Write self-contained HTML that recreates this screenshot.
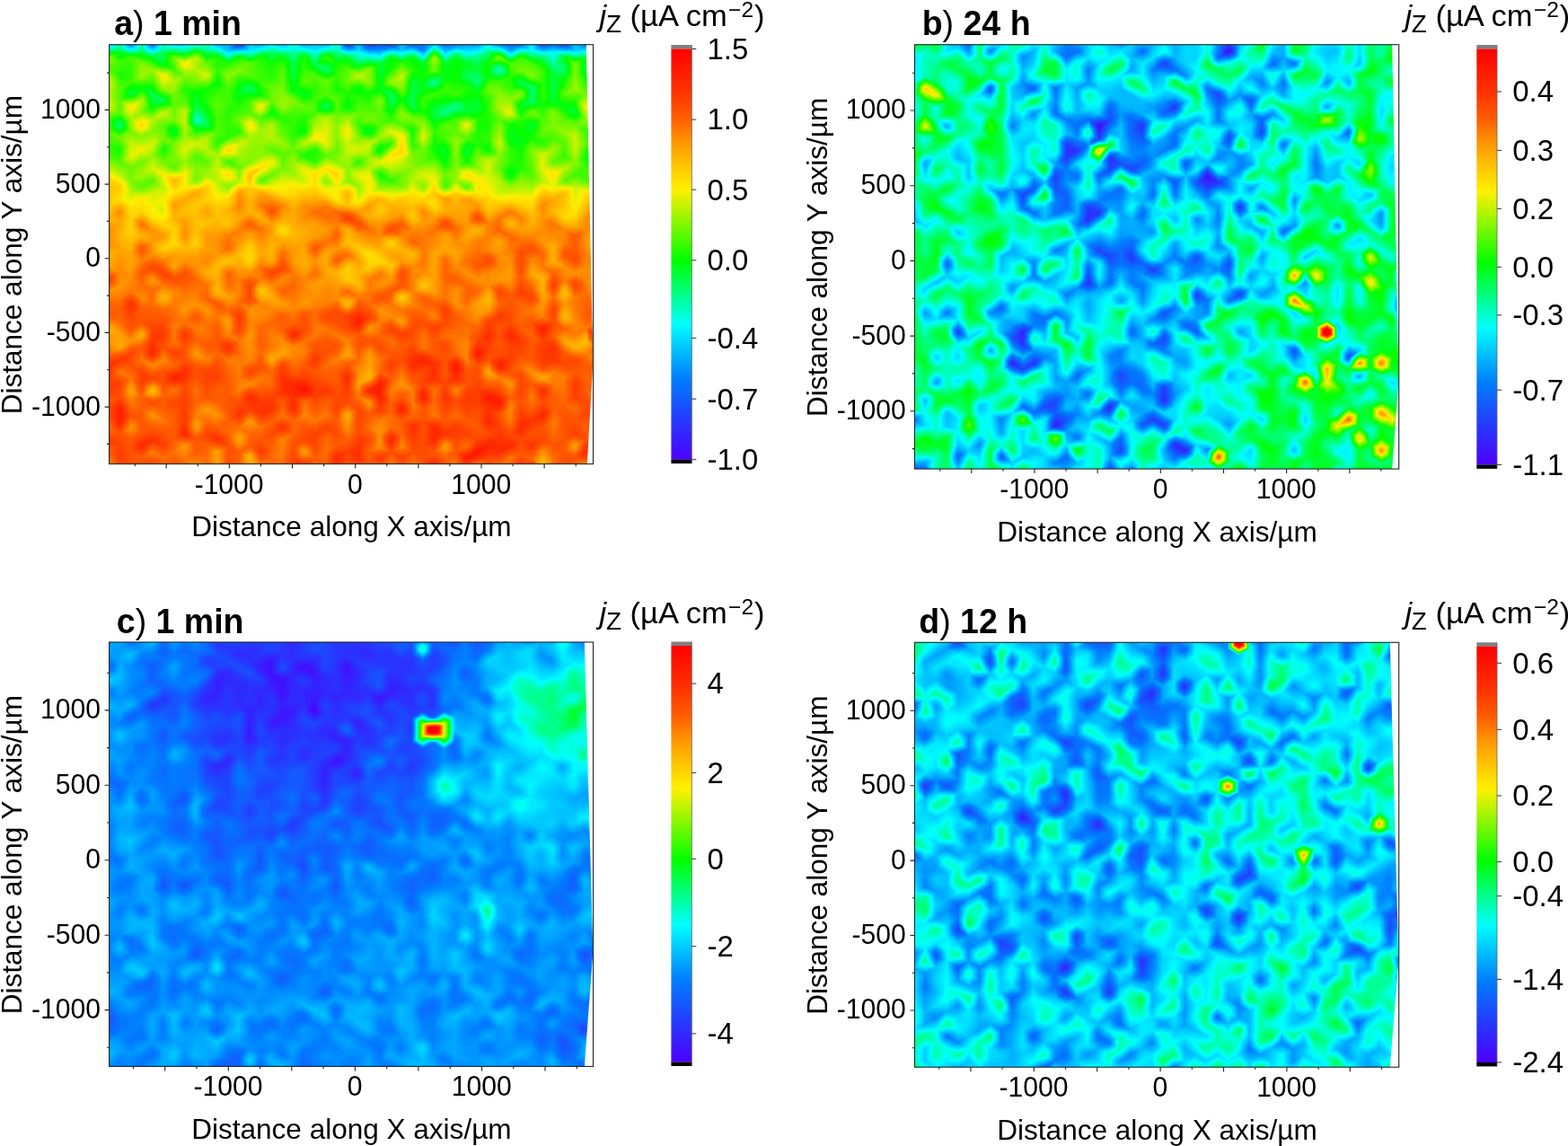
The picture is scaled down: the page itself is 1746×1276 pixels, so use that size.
<!DOCTYPE html>
<html lang="en"><head><meta charset="utf-8"><title>Figure</title>
<style>html,body{margin:0;padding:0;background:#fff;overflow:hidden}svg{display:block}text{font-family:"Liberation Sans", sans-serif;fill:#000}.tk{font-size:30.1px}.ax{font-size:30.1px}.cb{font-size:32.3px}.tt{font-size:37.5px;font-weight:bold}.jz{font-size:32.3px}</style></head><body>
<svg width="1746" height="1276" viewBox="0 0 1746 1276">
<defs>
<linearGradient id="cbg" x1="0" y1="0" x2="0" y2="1">
<stop offset="0.000" stop-color="rgb(255,0,0)"/>
<stop offset="0.102" stop-color="rgb(255,50,0)"/>
<stop offset="0.172" stop-color="rgb(255,96,0)"/>
<stop offset="0.226" stop-color="rgb(255,150,0)"/>
<stop offset="0.288" stop-color="rgb(255,200,0)"/>
<stop offset="0.343" stop-color="rgb(255,240,0)"/>
<stop offset="0.515" stop-color="rgb(0,255,0)"/>
<stop offset="0.670" stop-color="rgb(0,255,255)"/>
<stop offset="0.800" stop-color="rgb(0,128,255)"/>
<stop offset="0.900" stop-color="rgb(36,60,255)"/>
<stop offset="1.000" stop-color="rgb(76,0,255)"/>
</linearGradient>
<filter id="fa" filterUnits="userSpaceOnUse" x="61" y="-10" width="658" height="586" color-interpolation-filters="sRGB"><feConvolveMatrix in="SourceGraphic" order="1 14" kernelMatrix="1 1 1 1 1 1 1 1 1 1 1 1 1 1" divisor="14" edgeMode="duplicate" preserveAlpha="true" result="c"/><feGaussianBlur in="c" stdDeviation="0.7" result="b"/><feComponentTransfer in="b"><feFuncR type="table" tableValues="0.298 0.282 0.267 0.251 0.235 0.22 0.204 0.188 0.173 0.157 0.141 0.127 0.113 0.099 0.085 0.071 0.057 0.043 0.029 0.015 0.001 0 0 0 0 0 0 0 0 0 0 0 0 0 0 0 0 0 0 0 0 0 0 0 0 0 0 0 0 0.023 0.081 0.139 0.197 0.255 0.314 0.372 0.43 0.488 0.546 0.604 0.662 0.72 0.778 0.836 0.894 0.952 1 1 1 1 1 1 1 1 1 1 1 1 1 1 1 1 1 1 1 1 1 1 1 1 1 1 1 1 1 1 1 1 1 1 1 1 1 1 1 1 1 1 1 1 1 1 1 1 1 1 1 1 1 1 1 1 1 1 1 1 1 1 1 1 1 1 1 1 1 1 1 1 1 1 1 1 1 1 1 1 1 1 1 1 1 1 1 1 1 1 1 1 1 1 1 1 1 1 1 1 1 1"/><feFuncG type="table" tableValues="0 0.023 0.047 0.07 0.094 0.117 0.141 0.164 0.188 0.211 0.235 0.261 0.288 0.315 0.341 0.368 0.394 0.421 0.448 0.474 0.501 0.539 0.577 0.615 0.653 0.692 0.73 0.768 0.806 0.845 0.883 0.921 0.959 0.997 1 1 1 1 1 1 1 1 1 1 1 1 1 1 1 0.999 0.995 0.992 0.988 0.985 0.982 0.978 0.975 0.971 0.968 0.964 0.961 0.958 0.954 0.951 0.947 0.944 0.936 0.908 0.879 0.851 0.823 0.794 0.764 0.732 0.7 0.669 0.637 0.606 0.571 0.532 0.493 0.453 0.414 0.376 0.35 0.324 0.298 0.273 0.247 0.221 0.196 0.177 0.157 0.138 0.119 0.1 0.081 0.061 0.042 0.023 0.004 0 0 0 0 0 0 0 0 0 0 0 0 0 0 0 0 0 0 0 0 0 0 0 0 0 0 0 0 0 0 0 0 0 0 0 0 0 0 0 0 0 0 0 0 0 0 0 0 0 0 0 0 0 0 0 0 0 0 0 0 0 0 0 0 0 0 0"/><feFuncB type="table" tableValues="1 1 1 1 1 1 1 1 1 1 1 1 1 1 1 1 1 1 1 1 1 1 1 1 1 1 1 1 1 1 1 1 1 1 0.94 0.875 0.811 0.747 0.682 0.618 0.554 0.489 0.425 0.36 0.296 0.232 0.167 0.103 0.038 0 0 0 0 0 0 0 0 0 0 0 0 0 0 0 0 0 0 0 0 0 0 0 0 0 0 0 0 0 0 0 0 0 0 0 0 0 0 0 0 0 0 0 0 0 0 0 0 0 0 0 0 0 0 0 0 0 0 0 0 0 0 0 0 0 0 0 0 0 0 0 0 0 0 0 0 0 0 0 0 0 0 0 0 0 0 0 0 0 0 0 0 0 0 0 0 0 0 0 0 0 0 0 0 0 0 0 0 0 0 0 0 0 0 0 0 0 0 0"/><feFuncA type="linear" slope="0" intercept="1"/></feComponentTransfer></filter>
<clipPath id="cla"><path d="M121.6 49.7H652.8L660.3 403.0L653.8 516.6H121.6z"/></clipPath>
<filter id="fb" filterUnits="userSpaceOnUse" x="958" y="-10" width="659" height="592" color-interpolation-filters="sRGB"><feConvolveMatrix in="SourceGraphic" order="1 14" kernelMatrix="1 1 1 1 1 1 1 1 1 1 1 1 1 1" divisor="14" edgeMode="duplicate" preserveAlpha="true" result="c"/><feGaussianBlur in="c" stdDeviation="0.7" result="b"/><feComponentTransfer in="b"><feFuncR type="table" tableValues="0.298 0.282 0.267 0.251 0.235 0.22 0.204 0.188 0.173 0.157 0.141 0.127 0.113 0.099 0.085 0.071 0.057 0.043 0.029 0.015 0.001 0 0 0 0 0 0 0 0 0 0 0 0 0 0 0 0 0 0 0 0 0 0 0 0 0 0 0 0 0.023 0.081 0.139 0.197 0.255 0.314 0.372 0.43 0.488 0.546 0.604 0.662 0.72 0.778 0.836 0.894 0.952 1 1 1 1 1 1 1 1 1 1 1 1 1 1 1 1 1 1 1 1 1 1 1 1 1 1 1 1 1 1 1 1 1 1 1 1 1 1 1 1 1 1 1 1 1 1 1 1 1 1 1 1 1 1 1 1 1 1 1 1 1 1 1 1 1 1 1 1 1 1 1 1 1 1 1 1 1 1 1 1 1 1 1 1 1 1 1 1 1 1 1 1 1 1 1 1 1 1 1 1 1 1"/><feFuncG type="table" tableValues="0 0.023 0.047 0.07 0.094 0.117 0.141 0.164 0.188 0.211 0.235 0.261 0.288 0.315 0.341 0.368 0.394 0.421 0.448 0.474 0.501 0.539 0.577 0.615 0.653 0.692 0.73 0.768 0.806 0.845 0.883 0.921 0.959 0.997 1 1 1 1 1 1 1 1 1 1 1 1 1 1 1 0.999 0.995 0.992 0.988 0.985 0.982 0.978 0.975 0.971 0.968 0.964 0.961 0.958 0.954 0.951 0.947 0.944 0.936 0.908 0.879 0.851 0.823 0.794 0.764 0.732 0.7 0.669 0.637 0.606 0.571 0.532 0.493 0.453 0.414 0.376 0.35 0.324 0.298 0.273 0.247 0.221 0.196 0.177 0.157 0.138 0.119 0.1 0.081 0.061 0.042 0.023 0.004 0 0 0 0 0 0 0 0 0 0 0 0 0 0 0 0 0 0 0 0 0 0 0 0 0 0 0 0 0 0 0 0 0 0 0 0 0 0 0 0 0 0 0 0 0 0 0 0 0 0 0 0 0 0 0 0 0 0 0 0 0 0 0 0 0 0 0"/><feFuncB type="table" tableValues="1 1 1 1 1 1 1 1 1 1 1 1 1 1 1 1 1 1 1 1 1 1 1 1 1 1 1 1 1 1 1 1 1 1 0.94 0.875 0.811 0.747 0.682 0.618 0.554 0.489 0.425 0.36 0.296 0.232 0.167 0.103 0.038 0 0 0 0 0 0 0 0 0 0 0 0 0 0 0 0 0 0 0 0 0 0 0 0 0 0 0 0 0 0 0 0 0 0 0 0 0 0 0 0 0 0 0 0 0 0 0 0 0 0 0 0 0 0 0 0 0 0 0 0 0 0 0 0 0 0 0 0 0 0 0 0 0 0 0 0 0 0 0 0 0 0 0 0 0 0 0 0 0 0 0 0 0 0 0 0 0 0 0 0 0 0 0 0 0 0 0 0 0 0 0 0 0 0 0 0 0 0 0"/><feFuncA type="linear" slope="0" intercept="1"/></feComponentTransfer></filter>
<clipPath id="clb"><path d="M1018.4 49.7H1550.2L1557.4 424.0L1550.2 522.1H1018.4z"/></clipPath>
<filter id="fc" filterUnits="userSpaceOnUse" x="61" y="655" width="658" height="592" color-interpolation-filters="sRGB"><feConvolveMatrix in="SourceGraphic" order="1 14" kernelMatrix="1 1 1 1 1 1 1 1 1 1 1 1 1 1" divisor="14" edgeMode="duplicate" preserveAlpha="true" result="c"/><feGaussianBlur in="c" stdDeviation="0.8" result="b"/><feComponentTransfer in="b"><feFuncR type="table" tableValues="0.298 0.282 0.267 0.251 0.235 0.22 0.204 0.188 0.173 0.157 0.141 0.127 0.113 0.099 0.085 0.071 0.057 0.043 0.029 0.015 0.001 0 0 0 0 0 0 0 0 0 0 0 0 0 0 0 0 0 0 0 0 0 0 0 0 0 0 0 0 0.023 0.081 0.139 0.197 0.255 0.314 0.372 0.43 0.488 0.546 0.604 0.662 0.72 0.778 0.836 0.894 0.952 1 1 1 1 1 1 1 1 1 1 1 1 1 1 1 1 1 1 1 1 1 1 1 1 1 1 1 1 1 1 1 1 1 1 1 1 1 1 1 1 1 1 1 1 1 1 1 1 1 1 1 1 1 1 1 1 1 1 1 1 1 1 1 1 1 1 1 1 1 1 1 1 1 1 1 1 1 1 1 1 1 1 1 1 1 1 1 1 1 1 1 1 1 1 1 1 1 1 1 1 1 1"/><feFuncG type="table" tableValues="0 0.023 0.047 0.07 0.094 0.117 0.141 0.164 0.188 0.211 0.235 0.261 0.288 0.315 0.341 0.368 0.394 0.421 0.448 0.474 0.501 0.539 0.577 0.615 0.653 0.692 0.73 0.768 0.806 0.845 0.883 0.921 0.959 0.997 1 1 1 1 1 1 1 1 1 1 1 1 1 1 1 0.999 0.995 0.992 0.988 0.985 0.982 0.978 0.975 0.971 0.968 0.964 0.961 0.958 0.954 0.951 0.947 0.944 0.936 0.908 0.879 0.851 0.823 0.794 0.764 0.732 0.7 0.669 0.637 0.606 0.571 0.532 0.493 0.453 0.414 0.376 0.35 0.324 0.298 0.273 0.247 0.221 0.196 0.177 0.157 0.138 0.119 0.1 0.081 0.061 0.042 0.023 0.004 0 0 0 0 0 0 0 0 0 0 0 0 0 0 0 0 0 0 0 0 0 0 0 0 0 0 0 0 0 0 0 0 0 0 0 0 0 0 0 0 0 0 0 0 0 0 0 0 0 0 0 0 0 0 0 0 0 0 0 0 0 0 0 0 0 0 0"/><feFuncB type="table" tableValues="1 1 1 1 1 1 1 1 1 1 1 1 1 1 1 1 1 1 1 1 1 1 1 1 1 1 1 1 1 1 1 1 1 1 0.94 0.875 0.811 0.747 0.682 0.618 0.554 0.489 0.425 0.36 0.296 0.232 0.167 0.103 0.038 0 0 0 0 0 0 0 0 0 0 0 0 0 0 0 0 0 0 0 0 0 0 0 0 0 0 0 0 0 0 0 0 0 0 0 0 0 0 0 0 0 0 0 0 0 0 0 0 0 0 0 0 0 0 0 0 0 0 0 0 0 0 0 0 0 0 0 0 0 0 0 0 0 0 0 0 0 0 0 0 0 0 0 0 0 0 0 0 0 0 0 0 0 0 0 0 0 0 0 0 0 0 0 0 0 0 0 0 0 0 0 0 0 0 0 0 0 0 0"/><feFuncA type="linear" slope="0" intercept="1"/></feComponentTransfer></filter>
<clipPath id="clc"><path d="M121.6 715.0H650.8L660.3 1060.0L650.8 1187.4H121.6z"/></clipPath>
<filter id="fd" filterUnits="userSpaceOnUse" x="958" y="655" width="659" height="592" color-interpolation-filters="sRGB"><feConvolveMatrix in="SourceGraphic" order="1 14" kernelMatrix="1 1 1 1 1 1 1 1 1 1 1 1 1 1" divisor="14" edgeMode="duplicate" preserveAlpha="true" result="c"/><feGaussianBlur in="c" stdDeviation="0.7" result="b"/><feComponentTransfer in="b"><feFuncR type="table" tableValues="0.298 0.282 0.267 0.251 0.235 0.22 0.204 0.188 0.173 0.157 0.141 0.127 0.113 0.099 0.085 0.071 0.057 0.043 0.029 0.015 0.001 0 0 0 0 0 0 0 0 0 0 0 0 0 0 0 0 0 0 0 0 0 0 0 0 0 0 0 0 0.023 0.081 0.139 0.197 0.255 0.314 0.372 0.43 0.488 0.546 0.604 0.662 0.72 0.778 0.836 0.894 0.952 1 1 1 1 1 1 1 1 1 1 1 1 1 1 1 1 1 1 1 1 1 1 1 1 1 1 1 1 1 1 1 1 1 1 1 1 1 1 1 1 1 1 1 1 1 1 1 1 1 1 1 1 1 1 1 1 1 1 1 1 1 1 1 1 1 1 1 1 1 1 1 1 1 1 1 1 1 1 1 1 1 1 1 1 1 1 1 1 1 1 1 1 1 1 1 1 1 1 1 1 1 1"/><feFuncG type="table" tableValues="0 0.023 0.047 0.07 0.094 0.117 0.141 0.164 0.188 0.211 0.235 0.261 0.288 0.315 0.341 0.368 0.394 0.421 0.448 0.474 0.501 0.539 0.577 0.615 0.653 0.692 0.73 0.768 0.806 0.845 0.883 0.921 0.959 0.997 1 1 1 1 1 1 1 1 1 1 1 1 1 1 1 0.999 0.995 0.992 0.988 0.985 0.982 0.978 0.975 0.971 0.968 0.964 0.961 0.958 0.954 0.951 0.947 0.944 0.936 0.908 0.879 0.851 0.823 0.794 0.764 0.732 0.7 0.669 0.637 0.606 0.571 0.532 0.493 0.453 0.414 0.376 0.35 0.324 0.298 0.273 0.247 0.221 0.196 0.177 0.157 0.138 0.119 0.1 0.081 0.061 0.042 0.023 0.004 0 0 0 0 0 0 0 0 0 0 0 0 0 0 0 0 0 0 0 0 0 0 0 0 0 0 0 0 0 0 0 0 0 0 0 0 0 0 0 0 0 0 0 0 0 0 0 0 0 0 0 0 0 0 0 0 0 0 0 0 0 0 0 0 0 0 0"/><feFuncB type="table" tableValues="1 1 1 1 1 1 1 1 1 1 1 1 1 1 1 1 1 1 1 1 1 1 1 1 1 1 1 1 1 1 1 1 1 1 0.94 0.875 0.811 0.747 0.682 0.618 0.554 0.489 0.425 0.36 0.296 0.232 0.167 0.103 0.038 0 0 0 0 0 0 0 0 0 0 0 0 0 0 0 0 0 0 0 0 0 0 0 0 0 0 0 0 0 0 0 0 0 0 0 0 0 0 0 0 0 0 0 0 0 0 0 0 0 0 0 0 0 0 0 0 0 0 0 0 0 0 0 0 0 0 0 0 0 0 0 0 0 0 0 0 0 0 0 0 0 0 0 0 0 0 0 0 0 0 0 0 0 0 0 0 0 0 0 0 0 0 0 0 0 0 0 0 0 0 0 0 0 0 0 0 0 0 0"/><feFuncA type="linear" slope="0" intercept="1"/></feComponentTransfer></filter>
<clipPath id="cld"><path d="M1018.4 715.3H1547.8L1557.4 1070.0L1547.8 1188.2H1018.4z"/></clipPath>
</defs>
<rect width="1746" height="1276" fill="#fff"/>
<g id="panel-a">
<g clip-path="url(#cla)"><g filter="url(#fa)">
<g transform="translate(121.60 49.70) scale(12.0727 6.8662)"><rect x="-4" y="-8" width="52" height="84" fill="#757575"/><path fill="#000000" d="M45 -4l1 1-1 1-1-1zM45 -2l1 1-1 1-1-1zM46 -1l1 1-1 1-1-1z"/><path fill="#020202" d="M31 -6l1 1-1 1-1-1zM39 -4l1 1-1 1-1-1z"/><path fill="#040404" d="M23 -6l1 1-1 1-1-1zM24 -5l1 1-1 1-1-1z"/><path fill="#050505" d="M23 -8l1 1-1 1-1-1z"/><path fill="#070707" d="M22 -3l1 1-1 1-1-1z"/><path fill="#090909" d="M25 -2l1 1-1 1-1-1zM41 -2l1 1-1 1-1-1z"/><path fill="#0a0a0a" d="M14 -3l1 1-1 1-1-1z"/><path fill="#0b0b0b" d="M17 -6l1 1-1 1-1-1zM12 -5l1 1-1 1-1-1zM12 -3l1 1-1 1-1-1z"/><path fill="#0c0c0c" d="M21 -6l1 1-1 1-1-1z"/><path fill="#0e0e0e" d="M38 -5l1 1-1 1-1-1zM47 -2l1 1-1 1-1-1zM22 -1l1 1-1 1-1-1zM24 -1l1 1-1 1-1-1z"/><path fill="#0f0f0f" d="M45 -8l1 1-1 1-1-1zM42 -5l1 1-1 1-1-1zM31 -2l1 1-1 1-1-1zM37 -2l1 1-1 1-1-1zM12 -1l1 1-1 1-1-1z"/><path fill="#101010" d="M39 -6l1 1-1 1-1-1zM20 -3l1 1-1 1-1-1zM42 -1l1 1-1 1-1-1z"/><path fill="#111111" d="M32 -7l1 1-1 1-1-1zM46 -3l1 1-1 1-1-1zM26 -1l1 1-1 1-1-1z"/><path fill="#121212" d="M11 -8l1 1-1 1-1-1zM13 -8l1 1-1 1-1-1zM43 -8l1 1-1 1-1-1zM22 -7l1 1-1 1-1-1zM44 -5l1 1-1 1-1-1zM31 -4l1 1-1 1-1-1zM43 -4l1 1-1 1-1-1zM40 -1l1 1-1 1-1-1z"/><path fill="#131313" d="M24 -7l1 1-1 1-1-1zM47 -6l1 1-1 1-1-1zM9 -4l1 1-1 1-1-1z"/><path fill="#141414" d="M6 -5l1 1-1 1-1-1zM28 -3l1 1-1 1-1-1zM32 -3l1 1-1 1-1-1zM38 -3l1 1-1 1-1-1z"/><path fill="#151515" d="M12 -7l1 1-1 1-1-1zM34 -7l1 1-1 1-1-1zM43 -6l1 1-1 1-1-1zM2 -5l1 1-1 1-1-1zM27 -4l1 1-1 1-1-1zM33 -2l1 1-1 1-1-1z"/><path fill="#161616" d="M27 -6l1 1-1 1-1-1zM29 -6l1 1-1 1-1-1zM33 -6l1 1-1 1-1-1zM16 -5l1 1-1 1-1-1zM15 -4l1 1-1 1-1-1zM18 -3l1 1-1 1-1-1z"/><path fill="#171717" d="M33 -4l1 1-1 1-1-1zM47 -4l1 1-1 1-1-1zM42 -3l1 1-1 1-1-1zM28 -1l1 1-1 1-1-1z"/><path fill="#181818" d="M35 -8l1 1-1 1-1-1zM10 -7l1 1-1 1-1-1zM26 -7l1 1-1 1-1-1zM38 -7l1 1-1 1-1-1zM40 -5l1 1-1 1-1-1zM10 -3l1 1-1 1-1-1zM26 -3l1 1-1 1-1-1z"/><path fill="#191919" d="M13 -6l1 1-1 1-1-1zM37 -6l1 1-1 1-1-1zM28 -5l1 1-1 1-1-1zM30 -5l1 1-1 1-1-1zM29 -2l1 1-1 1-1-1z"/><path fill="#1a1a1a" d="M9 -8l1 1-1 1-1-1zM33 -8l1 1-1 1-1-1zM14 -7l1 1-1 1-1-1zM44 -7l1 1-1 1-1-1zM25 -6l1 1-1 1-1-1zM26 -5l1 1-1 1-1-1zM4 -1l1 1-1 1-1-1zM45 0l1 1-1 1-1-1z"/><path fill="#1b1b1b" d="M17 -8l1 1-1 1-1-1zM37 -8l1 1-1 1-1-1zM15 -6l1 1-1 1-1-1zM19 -6l1 1-1 1-1-1zM14 -5l1 1-1 1-1-1zM38 -1l1 1-1 1-1-1zM44 -1l1 1-1 1-1-1z"/><path fill="#1c1c1c" d="M25 -8l1 1-1 1-1-1zM28 -7l1 1-1 1-1-1zM30 -7l1 1-1 1-1-1zM1 -4l1 1-1 1-1-1zM40 -3l1 1-1 1-1-1zM7 -2l1 1-1 1-1-1z"/><path fill="#1d1d1d" d="M6 -7l1 1-1 1-1-1zM8 -7l1 1-1 1-1-1zM45 -6l1 1-1 1-1-1zM23 -4l1 1-1 1-1-1zM29 -4l1 1-1 1-1-1zM24 -3l1 1-1 1-1-1z"/><path fill="#1e1e1e" d="M46 -7l1 1-1 1-1-1zM5 -4l1 1-1 1-1-1zM2 -1l1 1-1 1-1-1zM32 -1l1 1-1 1-1-1zM29 0l1 1-1 1-1-1z"/><path fill="#1f1f1f" d="M32 -5l1 1-1 1-1-1zM17 -4l1 1-1 1-1-1zM37 -4l1 1-1 1-1-1z"/><path fill="#202020" d="M4 -5l1 1-1 1-1-1zM25 -4l1 1-1 1-1-1zM11 -2l1 1-1 1-1-1zM19 -2l1 1-1 1-1-1zM27 -2l1 1-1 1-1-1zM36 -1l1 1-1 1-1-1z"/><path fill="#212121" d="M39 -8l1 1-1 1-1-1zM3 -6l1 1-1 1-1-1zM41 -4l1 1-1 1-1-1zM23 -2l1 1-1 1-1-1z"/><path fill="#222222" d="M36 -7l1 1-1 1-1-1zM-1 -4l1 1-1 1-1-1zM34 -1l1 1-1 1-1-1zM25 0l1 1-1 1-1-1z"/><path fill="#232323" d="M19 -8l1 1-1 1-1-1zM2 -7l1 1-1 1-1-1zM16 -7l1 1-1 1-1-1zM18 -5l1 1-1 1-1-1zM34 -5l1 1-1 1-1-1zM46 -5l1 1-1 1-1-1zM2 -3l1 1-1 1-1-1zM13 -2l1 1-1 1-1-1zM35 -2l1 1-1 1-1-1z"/><path fill="#242424" d="M1 -6l1 1-1 1-1-1zM36 -5l1 1-1 1-1-1zM19 -4l1 1-1 1-1-1zM15 -2l1 1-1 1-1-1zM43 -2l1 1-1 1-1-1zM37 0l1 1-1 1-1-1z"/><path fill="#252525" d="M-1 -6l1 1-1 1-1-1zM5 -6l1 1-1 1-1-1zM-2 -5l1 1-1 1-1-1zM16 -3l1 1-1 1-1-1zM14 -1l1 1-1 1-1-1zM18 -1l1 1-1 1-1-1zM47 0l1 1-1 1-1-1z"/><path fill="#262626" d="M40 -7l1 1-1 1-1-1zM31 0l1 1-1 1-1-1z"/><path fill="#272727" d="M-2 -7l1 1-1 1-1-1zM-3 -6l1 1-1 1-1-1zM10 -1l1 1-1 1-1-1zM16 -1l1 1-1 1-1-1zM20 -1l1 1-1 1-1-1z"/><path fill="#282828" d="M31 -8l1 1-1 1-1-1zM6 -3l1 1-1 1-1-1zM30 -3l1 1-1 1-1-1zM11 0l1 1-1 1-1-1z"/><path fill="#292929" d="M0 -7l1 1-1 1-1-1z"/><path fill="#2a2a2a" d="M3 -8l1 1-1 1-1-1zM29 -8l1 1-1 1-1-1zM39 -2l1 1-1 1-1-1zM0 -1l1 1-1 1-1-1zM27 0l1 1-1 1-1-1z"/><path fill="#2b2b2b" d="M4 -7l1 1-1 1-1-1zM20 -5l1 1-1 1-1-1zM11 -4l1 1-1 1-1-1zM35 -4l1 1-1 1-1-1zM-2 -3l1 1-1 1-1-1zM4 -3l1 1-1 1-1-1zM36 -3l1 1-1 1-1-1zM30 -1l1 1-1 1-1-1zM43 0l1 1-1 1-1-1z"/><path fill="#2c2c2c" d="M-3 -8l1 1-1 1-1-1zM27 -8l1 1-1 1-1-1zM22 -5l1 1-1 1-1-1zM13 -4l1 1-1 1-1-1zM44 -3l1 1-1 1-1-1zM6 -1l1 1-1 1-1-1z"/><path fill="#2d2d2d" d="M47 -8l1 1-1 1-1-1zM20 -7l1 1-1 1-1-1zM23 0l1 1-1 1-1-1zM33 0l1 1-1 1-1-1zM41 0l1 1-1 1-1-1z"/><path fill="#2e2e2e" d="M21 -8l1 1-1 1-1-1zM42 -7l1 1-1 1-1-1zM9 -6l1 1-1 1-1-1zM10 -5l1 1-1 1-1-1zM3 -4l1 1-1 1-1-1z"/><path fill="#2f2f2f" d="M-1 -8l1 1-1 1-1-1zM13 0l1 1-1 1-1-1zM19 0l1 1-1 1-1-1z"/><path fill="#303030" d="M5 -8l1 1-1 1-1-1zM34 -3l1 1-1 1-1-1zM5 -2l1 1-1 1-1-1z"/><path fill="#313131" d="M-3 -4l1 1-1 1-1-1zM-3 -2l1 1-1 1-1-1zM1 -2l1 1-1 1-1-1z"/><path fill="#323232" d="M7 -8l1 1-1 1-1-1zM9 -2l1 1-1 1-1-1z"/><path fill="#333333" d="M15 -8l1 1-1 1-1-1zM11 -6l1 1-1 1-1-1zM21 -4l1 1-1 1-1-1zM39 0l1 1-1 1-1-1z"/><path fill="#343434" d="M1 -8l1 1-1 1-1-1zM41 -8l1 1-1 1-1-1zM18 -7l1 1-1 1-1-1zM7 -6l1 1-1 1-1-1zM35 -6l1 1-1 1-1-1zM41 -6l1 1-1 1-1-1zM0 -5l1 1-1 1-1-1zM8 -5l1 1-1 1-1-1zM7 -4l1 1-1 1-1-1zM0 -3l1 1-1 1-1-1zM8 -3l1 1-1 1-1-1zM-1 -2l1 1-1 1-1-1zM3 -2l1 1-1 1-1-1zM17 -2l1 1-1 1-1-1zM21 -2l1 1-1 1-1-1zM-2 -1l1 1-1 1-1-1zM8 -1l1 1-1 1-1-1z"/><path fill="#353535" d="M36 3l1 1-1 1-1-1zM8 11l1 1-1 1-1-1z"/><path fill="#373737" d="M17 0l1 1-1 1-1-1zM24 1l1 1-1 1-1-1z"/><path fill="#3a3a3a" d="M21 0l1 1-1 1-1-1zM41 2l1 1-1 1-1-1zM30 5l1 1-1 1-1-1z"/><path fill="#3b3b3b" d="M35 0l1 1-1 1-1-1z"/><path fill="#3c3c3c" d="M7 0l1 1-1 1-1-1zM32 9l1 1-1 1-1-1zM31 10l1 1-1 1-1-1z"/><path fill="#3d3d3d" d="M15 0l1 1-1 1-1-1zM34 1l1 1-1 1-1-1zM34 5l1 1-1 1-1-1zM1 12l1 1-1 1-1-1z"/><path fill="#3e3e3e" d="M9 0l1 1-1 1-1-1zM20 3l1 1-1 1-1-1zM39 6l1 1-1 1-1-1zM39 8l1 1-1 1-1-1z"/><path fill="#3f3f3f" d="M5 0l1 1-1 1-1-1zM42 3l1 1-1 1-1-1zM20 9l1 1-1 1-1-1z"/><path fill="#404040" d="M-1 0l1 1-1 1-1-1zM3 0l1 1-1 1-1-1zM40 1l1 1-1 1-1-1zM46 3l1 1-1 1-1-1zM13 6l1 1-1 1-1-1zM26 7l1 1-1 1-1-1zM5 8l1 1-1 1-1-1z"/><path fill="#414141" d="M33 4l1 1-1 1-1-1zM38 5l1 1-1 1-1-1zM4 7l1 1-1 1-1-1zM9 12l1 1-1 1-1-1zM45 18l1 1-1 1-1-1z"/><path fill="#424242" d="M17 2l1 1-1 1-1-1zM19 2l1 1-1 1-1-1zM23 2l1 1-1 1-1-1zM41 6l1 1-1 1-1-1zM28 7l1 1-1 1-1-1zM28 9l1 1-1 1-1-1zM-3 14l1 1-1 1-1-1z"/><path fill="#434343" d="M-3 0l1 1-1 1-1-1zM1 0l1 1-1 1-1-1zM44 3l1 1-1 1-1-1zM17 4l1 1-1 1-1-1zM28 5l1 1-1 1-1-1zM2 7l1 1-1 1-1-1zM8 9l1 1-1 1-1-1zM43 10l1 1-1 1-1-1zM33 16l1 1-1 1-1-1z"/><path fill="#444444" d="M44 1l1 1-1 1-1-1zM25 2l1 1-1 1-1-1zM34 3l1 1-1 1-1-1zM41 4l1 1-1 1-1-1zM41 8l1 1-1 1-1-1zM45 8l1 1-1 1-1-1zM26 9l1 1-1 1-1-1zM34 9l1 1-1 1-1-1zM38 9l1 1-1 1-1-1zM39 12l1 1-1 1-1-1zM6 13l1 1-1 1-1-1zM24 13l1 1-1 1-1-1z"/><path fill="#454545" d="M4 1l1 1-1 1-1-1zM22 1l1 1-1 1-1-1zM5 2l1 1-1 1-1-1zM25 4l1 1-1 1-1-1zM18 7l1 1-1 1-1-1zM30 9l1 1-1 1-1-1zM33 10l1 1-1 1-1-1zM30 11l1 1-1 1-1-1zM25 16l1 1-1 1-1-1zM31 16l1 1-1 1-1-1z"/><path fill="#464646" d="M29 2l1 1-1 1-1-1zM31 2l1 1-1 1-1-1zM25 6l1 1-1 1-1-1zM12 7l1 1-1 1-1-1zM9 10l1 1-1 1-1-1zM37 14l1 1-1 1-1-1zM47 14l1 1-1 1-1-1zM37 20l1 1-1 1-1-1z"/><path fill="#474747" d="M32 1l1 1-1 1-1-1zM33 2l1 1-1 1-1-1zM31 4l1 1-1 1-1-1zM17 6l1 1-1 1-1-1zM29 6l1 1-1 1-1-1zM8 7l1 1-1 1-1-1zM33 8l1 1-1 1-1-1zM4 9l1 1-1 1-1-1zM42 9l1 1-1 1-1-1zM-1 12l1 1-1 1-1-1zM38 15l1 1-1 1-1-1z"/><path fill="#484848" d="M26 1l1 1-1 1-1-1zM28 1l1 1-1 1-1-1zM42 1l1 1-1 1-1-1zM10 5l1 1-1 1-1-1zM3 6l1 1-1 1-1-1zM23 6l1 1-1 1-1-1zM22 9l1 1-1 1-1-1zM15 10l1 1-1 1-1-1zM18 13l1 1-1 1-1-1zM31 18l1 1-1 1-1-1zM46 19l1 1-1 1-1-1z"/><path fill="#494949" d="M16 1l1 1-1 1-1-1zM35 4l1 1-1 1-1-1zM14 7l1 1-1 1-1-1zM34 7l1 1-1 1-1-1zM31 8l1 1-1 1-1-1zM37 12l1 1-1 1-1-1zM35 16l1 1-1 1-1-1zM44 17l1 1-1 1-1-1z"/><path fill="#4a4a4a" d="M32 3l1 1-1 1-1-1zM29 4l1 1-1 1-1-1zM46 5l1 1-1 1-1-1zM24 7l1 1-1 1-1-1zM27 8l1 1-1 1-1-1zM28 13l1 1-1 1-1-1zM38 13l1 1-1 1-1-1zM30 15l1 1-1 1-1-1zM33 18l1 1-1 1-1-1zM47 18l1 1-1 1-1-1zM25 20l1 1-1 1-1-1z"/><path fill="#4b4b4b" d="M12 1l1 1-1 1-1-1zM15 2l1 1-1 1-1-1zM21 2l1 1-1 1-1-1zM35 2l1 1-1 1-1-1zM26 3l1 1-1 1-1-1zM12 5l1 1-1 1-1-1zM32 5l1 1-1 1-1-1zM42 5l1 1-1 1-1-1zM9 6l1 1-1 1-1-1zM21 6l1 1-1 1-1-1zM40 9l1 1-1 1-1-1zM39 14l1 1-1 1-1-1zM1 16l1 1-1 1-1-1zM5 16l1 1-1 1-1-1zM18 17l1 1-1 1-1-1z"/><path fill="#4c4c4c" d="M10 1l1 1-1 1-1-1zM14 1l1 1-1 1-1-1zM18 1l1 1-1 1-1-1zM-2 3l1 1-1 1-1-1zM1 4l1 1-1 1-1-1zM44 5l1 1-1 1-1-1zM22 7l1 1-1 1-1-1zM29 10l1 1-1 1-1-1zM18 11l1 1-1 1-1-1zM34 11l1 1-1 1-1-1zM35 12l1 1-1 1-1-1zM8 13l1 1-1 1-1-1zM34 13l1 1-1 1-1-1zM34 15l1 1-1 1-1-1zM19 16l1 1-1 1-1-1zM47 16l1 1-1 1-1-1zM38 17l1 1-1 1-1-1z"/><path fill="#4d4d4d" d="M11 2l1 1-1 1-1-1zM28 3l1 1-1 1-1-1zM15 4l1 1-1 1-1-1zM37 4l1 1-1 1-1-1zM7 6l1 1-1 1-1-1zM33 6l1 1-1 1-1-1zM45 6l1 1-1 1-1-1zM9 8l1 1-1 1-1-1zM43 8l1 1-1 1-1-1zM12 9l1 1-1 1-1-1zM11 10l1 1-1 1-1-1zM35 10l1 1-1 1-1-1zM16 11l1 1-1 1-1-1zM12 13l1 1-1 1-1-1zM10 15l1 1-1 1-1-1zM28 15l1 1-1 1-1-1zM40 15l1 1-1 1-1-1zM30 17l1 1-1 1-1-1zM38 19l1 1-1 1-1-1z"/><path fill="#4e4e4e" d="M2 3l1 1-1 1-1-1zM10 3l1 1-1 1-1-1zM40 5l1 1-1 1-1-1zM19 6l1 1-1 1-1-1zM37 6l1 1-1 1-1-1zM47 6l1 1-1 1-1-1zM35 8l1 1-1 1-1-1zM26 11l1 1-1 1-1-1zM38 11l1 1-1 1-1-1zM11 12l1 1-1 1-1-1zM17 12l1 1-1 1-1-1zM30 13l1 1-1 1-1-1zM44 13l1 1-1 1-1-1zM11 14l1 1-1 1-1-1zM17 14l1 1-1 1-1-1zM26 15l1 1-1 1-1-1zM37 16l1 1-1 1-1-1zM45 16l1 1-1 1-1-1zM42 17l1 1-1 1-1-1zM46 17l1 1-1 1-1-1zM19 18l1 1-1 1-1-1zM23 18l1 1-1 1-1-1zM37 18l1 1-1 1-1-1zM-1 20l1 1-1 1-1-1zM26 21l1 1-1 1-1-1z"/><path fill="#4f4f4f" d="M38 1l1 1-1 1-1-1zM27 2l1 1-1 1-1-1zM47 2l1 1-1 1-1-1zM6 3l1 1-1 1-1-1zM14 3l1 1-1 1-1-1zM18 3l1 1-1 1-1-1zM40 3l1 1-1 1-1-1zM21 4l1 1-1 1-1-1zM2 5l1 1-1 1-1-1zM4 5l1 1-1 1-1-1zM14 5l1 1-1 1-1-1zM-2 7l1 1-1 1-1-1zM40 7l1 1-1 1-1-1zM23 8l1 1-1 1-1-1zM-2 9l1 1-1 1-1-1zM0 11l1 1-1 1-1-1zM23 12l1 1-1 1-1-1zM47 12l1 1-1 1-1-1zM35 14l1 1-1 1-1-1zM0 15l1 1-1 1-1-1zM11 18l1 1-1 1-1-1zM31 22l1 1-1 1-1-1zM47 22l1 1-1 1-1-1z"/><path fill="#505050" d="M2 1l1 1-1 1-1-1zM20 1l1 1-1 1-1-1zM1 2l1 1-1 1-1-1zM39 2l1 1-1 1-1-1zM36 5l1 1-1 1-1-1zM31 6l1 1-1 1-1-1zM10 7l1 1-1 1-1-1zM30 7l1 1-1 1-1-1zM32 7l1 1-1 1-1-1zM11 8l1 1-1 1-1-1zM13 8l1 1-1 1-1-1zM19 8l1 1-1 1-1-1zM29 8l1 1-1 1-1-1zM24 9l1 1-1 1-1-1zM32 11l1 1-1 1-1-1zM-3 12l1 1-1 1-1-1zM0 17l1 1-1 1-1-1zM44 19l1 1-1 1-1-1zM43 20l1 1-1 1-1-1z"/><path fill="#515151" d="M37 2l1 1-1 1-1-1zM45 4l1 1-1 1-1-1zM11 6l1 1-1 1-1-1zM7 8l1 1-1 1-1-1zM17 10l1 1-1 1-1-1zM19 10l1 1-1 1-1-1zM10 11l1 1-1 1-1-1zM14 11l1 1-1 1-1-1zM40 11l1 1-1 1-1-1zM31 14l1 1-1 1-1-1zM41 14l1 1-1 1-1-1zM-2 17l1 1-1 1-1-1zM8 17l1 1-1 1-1-1zM39 20l1 1-1 1-1-1zM14 21l1 1-1 1-1-1zM44 21l1 1-1 1-1-1zM33 22l1 1-1 1-1-1z"/><path fill="#525252" d="M0 3l1 1-1 1-1-1zM16 3l1 1-1 1-1-1zM22 3l1 1-1 1-1-1zM13 4l1 1-1 1-1-1zM19 4l1 1-1 1-1-1zM-1 6l1 1-1 1-1-1zM1 6l1 1-1 1-1-1zM20 7l1 1-1 1-1-1zM-1 8l1 1-1 1-1-1zM1 8l1 1-1 1-1-1zM46 9l1 1-1 1-1-1zM1 10l1 1-1 1-1-1zM13 10l1 1-1 1-1-1zM21 10l1 1-1 1-1-1zM42 11l1 1-1 1-1-1zM25 12l1 1-1 1-1-1zM27 12l1 1-1 1-1-1zM0 13l1 1-1 1-1-1zM10 13l1 1-1 1-1-1zM16 13l1 1-1 1-1-1zM42 15l1 1-1 1-1-1zM44 15l1 1-1 1-1-1zM15 16l1 1-1 1-1-1zM16 17l1 1-1 1-1-1zM1 18l1 1-1 1-1-1zM4 21l1 1-1 1-1-1zM42 21l1 1-1 1-1-1zM3 22l1 1-1 1-1-1z"/><path fill="#535353" d="M-3 2l1 1-1 1-1-1zM13 2l1 1-1 1-1-1zM45 2l1 1-1 1-1-1zM-3 4l1 1-1 1-1-1zM18 5l1 1-1 1-1-1zM42 7l1 1-1 1-1-1zM21 8l1 1-1 1-1-1zM6 9l1 1-1 1-1-1zM-1 10l1 1-1 1-1-1zM23 10l1 1-1 1-1-1zM25 10l1 1-1 1-1-1zM36 11l1 1-1 1-1-1zM5 12l1 1-1 1-1-1zM31 12l1 1-1 1-1-1zM32 13l1 1-1 1-1-1zM33 14l1 1-1 1-1-1zM46 15l1 1-1 1-1-1zM20 17l1 1-1 1-1-1zM9 18l1 1-1 1-1-1zM29 18l1 1-1 1-1-1zM41 18l1 1-1 1-1-1zM6 19l1 1-1 1-1-1zM-3 22l1 1-1 1-1-1z"/><path fill="#545454" d="M46 1l1 1-1 1-1-1zM9 2l1 1-1 1-1-1zM16 5l1 1-1 1-1-1zM20 5l1 1-1 1-1-1zM22 5l1 1-1 1-1-1zM15 6l1 1-1 1-1-1zM15 8l1 1-1 1-1-1zM47 8l1 1-1 1-1-1zM10 9l1 1-1 1-1-1zM18 9l1 1-1 1-1-1zM40 13l1 1-1 1-1-1zM17 16l1 1-1 1-1-1zM21 16l1 1-1 1-1-1zM39 18l1 1-1 1-1-1zM-2 19l1 1-1 1-1-1zM2 19l1 1-1 1-1-1zM12 19l1 1-1 1-1-1zM36 19l1 1-1 1-1-1zM15 20l1 1-1 1-1-1zM31 20l1 1-1 1-1-1zM45 22l1 1-1 1-1-1zM-3 24l1 1-1 1-1-1z"/><path fill="#555555" d="M6 1l1 1-1 1-1-1zM30 3l1 1-1 1-1-1zM8 5l1 1-1 1-1-1zM35 6l1 1-1 1-1-1zM44 7l1 1-1 1-1-1zM12 11l1 1-1 1-1-1zM43 12l1 1-1 1-1-1zM1 14l1 1-1 1-1-1zM29 16l1 1-1 1-1-1zM3 18l1 1-1 1-1-1zM5 18l1 1-1 1-1-1zM16 19l1 1-1 1-1-1zM27 20l1 1-1 1-1-1zM8 21l1 1-1 1-1-1z"/><path fill="#565656" d="M43 2l1 1-1 1-1-1zM38 3l1 1-1 1-1-1zM7 4l1 1-1 1-1-1zM6 7l1 1-1 1-1-1zM46 7l1 1-1 1-1-1zM39 10l1 1-1 1-1-1zM6 11l1 1-1 1-1-1zM24 11l1 1-1 1-1-1zM28 11l1 1-1 1-1-1zM2 13l1 1-1 1-1-1zM5 14l1 1-1 1-1-1zM23 14l1 1-1 1-1-1zM6 15l1 1-1 1-1-1zM-3 16l1 1-1 1-1-1zM39 16l1 1-1 1-1-1zM6 17l1 1-1 1-1-1zM28 17l1 1-1 1-1-1zM34 17l1 1-1 1-1-1zM2 21l1 1-1 1-1-1zM20 21l1 1-1 1-1-1zM22 21l1 1-1 1-1-1zM27 22l1 1-1 1-1-1z"/><path fill="#575757" d="M-2 1l1 1-1 1-1-1zM0 1l1 1-1 1-1-1zM36 1l1 1-1 1-1-1zM3 2l1 1-1 1-1-1zM12 3l1 1-1 1-1-1zM39 4l1 1-1 1-1-1zM43 4l1 1-1 1-1-1zM27 6l1 1-1 1-1-1zM38 7l1 1-1 1-1-1zM17 8l1 1-1 1-1-1zM25 8l1 1-1 1-1-1zM3 10l1 1-1 1-1-1zM41 10l1 1-1 1-1-1zM47 10l1 1-1 1-1-1zM41 12l1 1-1 1-1-1zM4 13l1 1-1 1-1-1zM3 14l1 1-1 1-1-1zM21 14l1 1-1 1-1-1zM45 14l1 1-1 1-1-1zM-2 15l1 1-1 1-1-1zM32 17l1 1-1 1-1-1zM36 17l1 1-1 1-1-1zM13 18l1 1-1 1-1-1zM8 19l1 1-1 1-1-1zM32 19l1 1-1 1-1-1zM47 20l1 1-1 1-1-1zM11 22l1 1-1 1-1-1zM25 22l1 1-1 1-1-1zM29 22l1 1-1 1-1-1z"/><path fill="#585858" d="M24 3l1 1-1 1-1-1zM24 5l1 1-1 1-1-1zM16 7l1 1-1 1-1-1zM36 7l1 1-1 1-1-1zM45 10l1 1-1 1-1-1zM44 11l1 1-1 1-1-1zM46 11l1 1-1 1-1-1zM21 12l1 1-1 1-1-1zM46 13l1 1-1 1-1-1zM21 18l1 1-1 1-1-1zM43 18l1 1-1 1-1-1zM22 19l1 1-1 1-1-1zM28 19l1 1-1 1-1-1zM34 19l1 1-1 1-1-1zM38 21l1 1-1 1-1-1z"/><path fill="#595959" d="M-1 2l1 1-1 1-1-1zM4 3l1 1-1 1-1-1zM11 4l1 1-1 1-1-1zM26 5l1 1-1 1-1-1zM-3 6l1 1-1 1-1-1zM37 8l1 1-1 1-1-1zM27 10l1 1-1 1-1-1zM36 13l1 1-1 1-1-1zM42 13l1 1-1 1-1-1zM14 15l1 1-1 1-1-1zM13 16l1 1-1 1-1-1zM4 17l1 1-1 1-1-1zM14 17l1 1-1 1-1-1zM24 17l1 1-1 1-1-1zM7 18l1 1-1 1-1-1zM45 20l1 1-1 1-1-1zM32 21l1 1-1 1-1-1zM23 22l1 1-1 1-1-1zM37 22l1 1-1 1-1-1z"/><path fill="#5a5a5a" d="M3 4l1 1-1 1-1-1zM47 4l1 1-1 1-1-1zM-2 5l1 1-1 1-1-1zM5 6l1 1-1 1-1-1zM43 6l1 1-1 1-1-1zM16 9l1 1-1 1-1-1zM-3 10l1 1-1 1-1-1zM2 11l1 1-1 1-1-1zM29 12l1 1-1 1-1-1zM45 12l1 1-1 1-1-1zM-2 13l1 1-1 1-1-1zM14 13l1 1-1 1-1-1zM7 14l1 1-1 1-1-1zM25 14l1 1-1 1-1-1zM16 15l1 1-1 1-1-1zM32 15l1 1-1 1-1-1zM41 16l1 1-1 1-1-1zM12 17l1 1-1 1-1-1zM17 18l1 1-1 1-1-1zM9 20l1 1-1 1-1-1zM17 20l1 1-1 1-1-1zM39 22l1 1-1 1-1-1z"/><path fill="#5b5b5b" d="M30 1l1 1-1 1-1-1zM22 11l1 1-1 1-1-1zM19 12l1 1-1 1-1-1zM9 14l1 1-1 1-1-1zM13 14l1 1-1 1-1-1zM30 19l1 1-1 1-1-1zM3 20l1 1-1 1-1-1zM12 21l1 1-1 1-1-1z"/><path fill="#5c5c5c" d="M8 1l1 1-1 1-1-1zM8 3l1 1-1 1-1-1zM0 7l1 1-1 1-1-1zM-3 8l1 1-1 1-1-1zM3 8l1 1-1 1-1-1zM36 9l1 1-1 1-1-1zM4 11l1 1-1 1-1-1zM15 12l1 1-1 1-1-1zM10 17l1 1-1 1-1-1zM10 21l1 1-1 1-1-1zM28 21l1 1-1 1-1-1zM36 21l1 1-1 1-1-1zM40 21l1 1-1 1-1-1z"/><path fill="#5d5d5d" d="M6 5l1 1-1 1-1-1zM7 12l1 1-1 1-1-1zM15 14l1 1-1 1-1-1zM18 15l1 1-1 1-1-1zM9 16l1 1-1 1-1-1zM22 17l1 1-1 1-1-1zM0 19l1 1-1 1-1-1zM24 19l1 1-1 1-1-1zM26 19l1 1-1 1-1-1zM42 19l1 1-1 1-1-1zM1 20l1 1-1 1-1-1zM5 22l1 1-1 1-1-1zM2 23l1 1-1 1-1-1z"/><path fill="#5e5e5e" d="M23 4l1 1-1 1-1-1zM27 4l1 1-1 1-1-1zM20 11l1 1-1 1-1-1zM2 15l1 1-1 1-1-1zM43 16l1 1-1 1-1-1zM27 18l1 1-1 1-1-1zM18 21l1 1-1 1-1-1zM43 22l1 1-1 1-1-1zM36 23l1 1-1 1-1-1z"/><path fill="#5f5f5f" d="M-1 4l1 1-1 1-1-1zM0 5l1 1-1 1-1-1zM5 10l1 1-1 1-1-1zM7 10l1 1-1 1-1-1zM43 14l1 1-1 1-1-1zM22 15l1 1-1 1-1-1zM24 15l1 1-1 1-1-1zM36 15l1 1-1 1-1-1zM-1 18l1 1-1 1-1-1zM10 19l1 1-1 1-1-1zM-3 20l1 1-1 1-1-1zM35 20l1 1-1 1-1-1zM4 23l1 1-1 1-1-1z"/><path fill="#606060" d="M9 4l1 1-1 1-1-1zM0 9l1 1-1 1-1-1zM4 15l1 1-1 1-1-1zM8 15l1 1-1 1-1-1zM12 15l1 1-1 1-1-1zM23 16l1 1-1 1-1-1zM35 18l1 1-1 1-1-1zM4 19l1 1-1 1-1-1zM26 23l1 1-1 1-1-1zM38 23l1 1-1 1-1-1zM23 24l1 1-1 1-1-1zM5 26l1 1-1 1-1-1zM-2 29l1 1-1 1-1-1z"/><path fill="#616161" d="M-2 11l1 1-1 1-1-1zM20 13l1 1-1 1-1-1zM26 13l1 1-1 1-1-1zM29 14l1 1-1 1-1-1zM7 16l1 1-1 1-1-1zM40 17l1 1-1 1-1-1zM-3 18l1 1-1 1-1-1zM25 18l1 1-1 1-1-1zM29 20l1 1-1 1-1-1zM16 21l1 1-1 1-1-1zM43 24l1 1-1 1-1-1z"/><path fill="#626262" d="M20 15l1 1-1 1-1-1zM2 17l1 1-1 1-1-1zM18 19l1 1-1 1-1-1zM40 19l1 1-1 1-1-1zM23 20l1 1-1 1-1-1zM46 21l1 1-1 1-1-1zM-1 22l1 1-1 1-1-1zM21 22l1 1-1 1-1-1zM41 22l1 1-1 1-1-1zM10 23l1 1-1 1-1-1zM-2 25l1 1-1 1-1-1z"/><path fill="#636363" d="M37 10l1 1-1 1-1-1zM3 16l1 1-1 1-1-1zM15 22l1 1-1 1-1-1zM35 22l1 1-1 1-1-1zM5 24l1 1-1 1-1-1zM4 25l1 1-1 1-1-1z"/><path fill="#646464" d="M44 9l1 1-1 1-1-1zM33 12l1 1-1 1-1-1zM15 18l1 1-1 1-1-1zM5 20l1 1-1 1-1-1zM7 20l1 1-1 1-1-1zM-2 21l1 1-1 1-1-1zM30 21l1 1-1 1-1-1zM7 22l1 1-1 1-1-1z"/><path fill="#656565" d="M19 14l1 1-1 1-1-1zM24 23l1 1-1 1-1-1zM46 23l1 1-1 1-1-1zM21 24l1 1-1 1-1-1z"/><path fill="#666666" d="M7 2l1 1-1 1-1-1zM5 4l1 1-1 1-1-1zM14 9l1 1-1 1-1-1zM22 13l1 1-1 1-1-1zM-1 14l1 1-1 1-1-1zM24 21l1 1-1 1-1-1zM34 21l1 1-1 1-1-1zM17 22l1 1-1 1-1-1zM28 23l1 1-1 1-1-1zM34 23l1 1-1 1-1-1zM3 24l1 1-1 1-1-1zM39 24l1 1-1 1-1-1zM47 24l1 1-1 1-1-1zM2 25l1 1-1 1-1-1zM43 26l1 1-1 1-1-1z"/><path fill="#676767" d="M2 9l1 1-1 1-1-1zM13 12l1 1-1 1-1-1zM27 14l1 1-1 1-1-1zM26 17l1 1-1 1-1-1zM20 19l1 1-1 1-1-1zM6 23l1 1-1 1-1-1zM16 23l1 1-1 1-1-1zM20 23l1 1-1 1-1-1zM44 23l1 1-1 1-1-1zM1 24l1 1-1 1-1-1zM37 24l1 1-1 1-1-1zM30 25l1 1-1 1-1-1zM4 27l1 1-1 1-1-1zM16 29l1 1-1 1-1-1zM-3 32l1 1-1 1-1-1zM24 33l1 1-1 1-1-1z"/><path fill="#686868" d="M19 20l1 1-1 1-1-1zM41 20l1 1-1 1-1-1zM6 31l1 1-1 1-1-1z"/><path fill="#696969" d="M14 19l1 1-1 1-1-1zM11 20l1 1-1 1-1-1zM33 20l1 1-1 1-1-1zM19 22l1 1-1 1-1-1zM11 24l1 1-1 1-1-1zM-1 26l1 1-1 1-1-1zM42 27l1 1-1 1-1-1zM5 28l1 1-1 1-1-1zM-3 34l1 1-1 1-1-1zM13 34l1 1-1 1-1-1zM25 34l1 1-1 1-1-1z"/><path fill="#6a6a6a" d="M3 12l1 1-1 1-1-1zM11 16l1 1-1 1-1-1zM13 22l1 1-1 1-1-1zM29 24l1 1-1 1-1-1zM35 24l1 1-1 1-1-1zM3 26l1 1-1 1-1-1zM2 27l1 1-1 1-1-1zM2 29l1 1-1 1-1-1zM6 29l1 1-1 1-1-1zM-2 31l1 1-1 1-1-1zM8 31l1 1-1 1-1-1zM26 31l1 1-1 1-1-1zM13 32l1 1-1 1-1-1zM27 40l1 1-1 1-1-1z"/><path fill="#6b6b6b" d="M27 16l1 1-1 1-1-1zM9 22l1 1-1 1-1-1zM32 23l1 1-1 1-1-1zM0 25l1 1-1 1-1-1zM10 25l1 1-1 1-1-1zM38 25l1 1-1 1-1-1zM-1 30l1 1-1 1-1-1zM5 32l1 1-1 1-1-1zM24 35l1 1-1 1-1-1zM14 39l1 1-1 1-1-1z"/><path fill="#6c6c6c" d="M21 20l1 1-1 1-1-1zM0 21l1 1-1 1-1-1zM1 22l1 1-1 1-1-1zM18 23l1 1-1 1-1-1zM9 24l1 1-1 1-1-1zM8 25l1 1-1 1-1-1zM25 26l1 1-1 1-1-1zM28 27l1 1-1 1-1-1zM-3 30l1 1-1 1-1-1zM23 32l1 1-1 1-1-1zM22 35l1 1-1 1-1-1zM22 37l1 1-1 1-1-1zM29 38l1 1-1 1-1-1z"/><path fill="#6d6d6d" d="M-1 16l1 1-1 1-1-1zM30 23l1 1-1 1-1-1zM40 23l1 1-1 1-1-1zM17 24l1 1-1 1-1-1zM27 24l1 1-1 1-1-1zM42 25l1 1-1 1-1-1zM39 26l1 1-1 1-1-1zM11 28l1 1-1 1-1-1zM-1 34l1 1-1 1-1-1zM11 34l1 1-1 1-1-1zM26 35l1 1-1 1-1-1zM42 39l1 1-1 1-1-1zM4 55l1 1-1 1-1-1z"/><path fill="#6e6e6e" d="M0 23l1 1-1 1-1-1zM22 25l1 1-1 1-1-1zM28 25l1 1-1 1-1-1zM36 25l1 1-1 1-1-1zM44 25l1 1-1 1-1-1zM7 26l1 1-1 1-1-1zM35 26l1 1-1 1-1-1zM8 27l1 1-1 1-1-1zM10 27l1 1-1 1-1-1zM9 28l1 1-1 1-1-1zM8 29l1 1-1 1-1-1zM22 31l1 1-1 1-1-1zM22 41l1 1-1 1-1-1zM42 43l1 1-1 1-1-1zM44 47l1 1-1 1-1-1zM40 67l1 1-1 1-1-1z"/><path fill="#6f6f6f" d="M13 20l1 1-1 1-1-1zM42 23l1 1-1 1-1-1zM-3 26l1 1-1 1-1-1zM41 26l1 1-1 1-1-1zM-2 27l1 1-1 1-1-1zM-3 28l1 1-1 1-1-1zM37 28l1 1-1 1-1-1zM45 30l1 1-1 1-1-1zM2 31l1 1-1 1-1-1zM12 33l1 1-1 1-1-1zM28 33l1 1-1 1-1-1zM10 35l1 1-1 1-1-1zM23 38l1 1-1 1-1-1zM10 39l1 1-1 1-1-1zM5 40l1 1-1 1-1-1zM35 40l1 1-1 1-1-1zM13 66l1 1-1 1-1-1z"/><path fill="#707070" d="M13 24l1 1-1 1-1-1zM25 24l1 1-1 1-1-1zM13 26l1 1-1 1-1-1zM0 27l1 1-1 1-1-1zM43 28l1 1-1 1-1-1zM34 29l1 1-1 1-1-1zM1 30l1 1-1 1-1-1zM17 30l1 1-1 1-1-1zM46 31l1 1-1 1-1-1zM7 32l1 1-1 1-1-1zM15 32l1 1-1 1-1-1zM21 36l1 1-1 1-1-1zM23 36l1 1-1 1-1-1zM40 37l1 1-1 1-1-1zM43 48l1 1-1 1-1-1zM24 53l1 1-1 1-1-1z"/><path fill="#717171" d="M6 21l1 1-1 1-1-1zM22 23l1 1-1 1-1-1zM26 25l1 1-1 1-1-1zM11 26l1 1-1 1-1-1zM6 27l1 1-1 1-1-1zM14 27l1 1-1 1-1-1zM39 28l1 1-1 1-1-1zM22 29l1 1-1 1-1-1zM3 30l1 1-1 1-1-1zM-1 32l1 1-1 1-1-1zM27 32l1 1-1 1-1-1zM41 32l1 1-1 1-1-1zM45 32l1 1-1 1-1-1zM0 33l1 1-1 1-1-1zM41 34l1 1-1 1-1-1zM-3 40l1 1-1 1-1-1zM-1 40l1 1-1 1-1-1zM3 46l1 1-1 1-1-1zM22 59l1 1-1 1-1-1z"/><path fill="#727272" d="M19 24l1 1-1 1-1-1zM32 25l1 1-1 1-1-1zM31 26l1 1-1 1-1-1zM24 27l1 1-1 1-1-1zM17 28l1 1-1 1-1-1zM18 29l1 1-1 1-1-1zM25 32l1 1-1 1-1-1zM20 33l1 1-1 1-1-1zM15 34l1 1-1 1-1-1zM18 35l1 1-1 1-1-1zM9 36l1 1-1 1-1-1zM39 36l1 1-1 1-1-1zM10 37l1 1-1 1-1-1zM40 39l1 1-1 1-1-1zM15 40l1 1-1 1-1-1zM0 45l1 1-1 1-1-1zM15 50l1 1-1 1-1-1zM35 52l1 1-1 1-1-1z"/><path fill="#737373" d="M-2 23l1 1-1 1-1-1zM8 23l1 1-1 1-1-1zM14 23l1 1-1 1-1-1zM7 24l1 1-1 1-1-1zM41 24l1 1-1 1-1-1zM46 25l1 1-1 1-1-1zM17 26l1 1-1 1-1-1zM27 26l1 1-1 1-1-1zM33 26l1 1-1 1-1-1zM12 27l1 1-1 1-1-1zM1 28l1 1-1 1-1-1zM10 29l1 1-1 1-1-1zM33 30l1 1-1 1-1-1zM36 31l1 1-1 1-1-1zM31 32l1 1-1 1-1-1zM2 33l1 1-1 1-1-1zM14 33l1 1-1 1-1-1zM18 33l1 1-1 1-1-1zM30 33l1 1-1 1-1-1zM32 33l1 1-1 1-1-1zM20 35l1 1-1 1-1-1zM30 35l1 1-1 1-1-1zM-1 38l1 1-1 1-1-1zM-3 42l1 1-1 1-1-1zM42 47l1 1-1 1-1-1zM1 48l1 1-1 1-1-1zM22 49l1 1-1 1-1-1zM40 53l1 1-1 1-1-1zM2 55l1 1-1 1-1-1zM12 63l1 1-1 1-1-1zM43 64l1 1-1 1-1-1zM41 74l1 1-1 1-1-1z"/><path fill="#747474" d="M9 26l1 1-1 1-1-1zM16 27l1 1-1 1-1-1zM13 30l1 1-1 1-1-1zM15 30l1 1-1 1-1-1zM31 30l1 1-1 1-1-1zM16 31l1 1-1 1-1-1zM18 31l1 1-1 1-1-1zM1 32l1 1-1 1-1-1zM6 33l1 1-1 1-1-1zM8 33l1 1-1 1-1-1zM26 33l1 1-1 1-1-1zM0 35l1 1-1 1-1-1zM2 35l1 1-1 1-1-1zM6 35l1 1-1 1-1-1zM12 35l1 1-1 1-1-1zM30 37l1 1-1 1-1-1zM45 38l1 1-1 1-1-1zM46 39l1 1-1 1-1-1zM11 40l1 1-1 1-1-1zM34 41l1 1-1 1-1-1zM-1 44l1 1-1 1-1-1zM11 44l1 1-1 1-1-1zM1 46l1 1-1 1-1-1zM16 49l1 1-1 1-1-1zM24 51l1 1-1 1-1-1zM23 54l1 1-1 1-1-1zM8 61l1 1-1 1-1-1zM31 64l1 1-1 1-1-1zM10 65l1 1-1 1-1-1zM18 65l1 1-1 1-1-1zM12 73l1 1-1 1-1-1z"/><path fill="#757575" d="M31 24l1 1-1 1-1-1zM33 24l1 1-1 1-1-1zM6 25l1 1-1 1-1-1zM24 25l1 1-1 1-1-1zM34 25l1 1-1 1-1-1zM23 26l1 1-1 1-1-1zM47 26l1 1-1 1-1-1zM26 27l1 1-1 1-1-1zM30 27l1 1-1 1-1-1zM32 27l1 1-1 1-1-1zM-1 28l1 1-1 1-1-1zM15 28l1 1-1 1-1-1zM19 28l1 1-1 1-1-1zM20 29l1 1-1 1-1-1zM38 29l1 1-1 1-1-1zM19 30l1 1-1 1-1-1zM23 30l1 1-1 1-1-1zM4 31l1 1-1 1-1-1zM24 31l1 1-1 1-1-1zM9 32l1 1-1 1-1-1zM17 32l1 1-1 1-1-1zM17 34l1 1-1 1-1-1zM23 34l1 1-1 1-1-1zM46 35l1 1-1 1-1-1zM37 36l1 1-1 1-1-1zM20 37l1 1-1 1-1-1zM19 38l1 1-1 1-1-1zM30 39l1 1-1 1-1-1zM16 41l1 1-1 1-1-1zM35 42l1 1-1 1-1-1zM27 44l1 1-1 1-1-1zM47 46l1 1-1 1-1-1zM8 49l1 1-1 1-1-1zM-2 51l1 1-1 1-1-1zM13 60l1 1-1 1-1-1zM10 67l1 1-1 1-1-1zM-1 68l1 1-1 1-1-1zM38 69l1 1-1 1-1-1z"/><path fill="#767676" d="M12 23l1 1-1 1-1-1zM45 24l1 1-1 1-1-1zM7 28l1 1-1 1-1-1zM25 28l1 1-1 1-1-1zM29 28l1 1-1 1-1-1zM33 28l1 1-1 1-1-1zM5 30l1 1-1 1-1-1zM9 30l1 1-1 1-1-1zM12 31l1 1-1 1-1-1zM40 31l1 1-1 1-1-1zM44 31l1 1-1 1-1-1zM10 33l1 1-1 1-1-1zM46 33l1 1-1 1-1-1zM27 34l1 1-1 1-1-1zM4 37l1 1-1 1-1-1zM26 37l1 1-1 1-1-1zM36 37l1 1-1 1-1-1zM1 38l1 1-1 1-1-1zM21 38l1 1-1 1-1-1zM18 41l1 1-1 1-1-1zM40 41l1 1-1 1-1-1zM42 41l1 1-1 1-1-1zM7 42l1 1-1 1-1-1zM9 42l1 1-1 1-1-1zM-2 45l1 1-1 1-1-1zM24 45l1 1-1 1-1-1zM13 46l1 1-1 1-1-1zM24 49l1 1-1 1-1-1zM27 54l1 1-1 1-1-1zM37 54l1 1-1 1-1-1zM45 56l1 1-1 1-1-1zM24 57l1 1-1 1-1-1zM9 58l1 1-1 1-1-1zM2 61l1 1-1 1-1-1zM7 64l1 1-1 1-1-1zM25 64l1 1-1 1-1-1zM10 69l1 1-1 1-1-1z"/><path fill="#777777" d="M-1 24l1 1-1 1-1-1zM15 24l1 1-1 1-1-1zM18 25l1 1-1 1-1-1zM40 27l1 1-1 1-1-1zM44 27l1 1-1 1-1-1zM4 29l1 1-1 1-1-1zM46 29l1 1-1 1-1-1zM10 31l1 1-1 1-1-1zM14 31l1 1-1 1-1-1zM21 32l1 1-1 1-1-1zM4 33l1 1-1 1-1-1zM36 33l1 1-1 1-1-1zM1 34l1 1-1 1-1-1zM7 34l1 1-1 1-1-1zM19 34l1 1-1 1-1-1zM37 34l1 1-1 1-1-1zM8 35l1 1-1 1-1-1zM42 35l1 1-1 1-1-1zM-1 36l1 1-1 1-1-1zM33 36l1 1-1 1-1-1zM43 36l1 1-1 1-1-1zM34 37l1 1-1 1-1-1zM-3 38l1 1-1 1-1-1zM25 38l1 1-1 1-1-1zM0 39l1 1-1 1-1-1zM32 39l1 1-1 1-1-1zM19 40l1 1-1 1-1-1zM8 41l1 1-1 1-1-1zM32 41l1 1-1 1-1-1zM13 42l1 1-1 1-1-1zM25 42l1 1-1 1-1-1zM34 43l1 1-1 1-1-1zM0 47l1 1-1 1-1-1zM2 47l1 1-1 1-1-1zM-1 48l1 1-1 1-1-1zM13 48l1 1-1 1-1-1zM39 52l1 1-1 1-1-1zM4 59l1 1-1 1-1-1zM10 59l1 1-1 1-1-1zM22 61l1 1-1 1-1-1zM25 62l1 1-1 1-1-1zM40 65l1 1-1 1-1-1zM0 67l1 1-1 1-1-1zM2 69l1 1-1 1-1-1zM6 71l1 1-1 1-1-1zM20 73l1 1-1 1-1-1z"/><path fill="#787878" d="M1 26l1 1-1 1-1-1zM29 26l1 1-1 1-1-1zM18 27l1 1-1 1-1-1zM0 29l1 1-1 1-1-1zM40 29l1 1-1 1-1-1zM7 30l1 1-1 1-1-1zM25 30l1 1-1 1-1-1zM41 30l1 1-1 1-1-1zM0 31l1 1-1 1-1-1zM30 31l1 1-1 1-1-1zM32 31l1 1-1 1-1-1zM33 32l1 1-1 1-1-1zM35 32l1 1-1 1-1-1zM39 34l1 1-1 1-1-1zM28 35l1 1-1 1-1-1zM32 35l1 1-1 1-1-1zM44 35l1 1-1 1-1-1zM13 36l1 1-1 1-1-1zM29 36l1 1-1 1-1-1zM35 36l1 1-1 1-1-1zM45 36l1 1-1 1-1-1zM2 37l1 1-1 1-1-1zM16 37l1 1-1 1-1-1zM15 38l1 1-1 1-1-1zM35 38l1 1-1 1-1-1zM47 38l1 1-1 1-1-1zM3 40l1 1-1 1-1-1zM21 40l1 1-1 1-1-1zM14 43l1 1-1 1-1-1zM26 43l1 1-1 1-1-1zM43 44l1 1-1 1-1-1zM16 47l1 1-1 1-1-1zM-3 48l1 1-1 1-1-1zM17 48l1 1-1 1-1-1zM33 48l1 1-1 1-1-1zM5 50l1 1-1 1-1-1zM4 51l1 1-1 1-1-1zM23 52l1 1-1 1-1-1zM13 54l1 1-1 1-1-1zM32 55l1 1-1 1-1-1zM-2 57l1 1-1 1-1-1zM37 58l1 1-1 1-1-1zM27 64l1 1-1 1-1-1zM13 68l1 1-1 1-1-1zM34 69l1 1-1 1-1-1z"/><path fill="#797979" d="M16 25l1 1-1 1-1-1zM40 25l1 1-1 1-1-1zM46 27l1 1-1 1-1-1zM28 29l1 1-1 1-1-1zM42 29l1 1-1 1-1-1zM44 29l1 1-1 1-1-1zM27 30l1 1-1 1-1-1zM39 30l1 1-1 1-1-1zM9 34l1 1-1 1-1-1zM-2 35l1 1-1 1-1-1zM36 35l1 1-1 1-1-1zM1 36l1 1-1 1-1-1zM18 37l1 1-1 1-1-1zM44 37l1 1-1 1-1-1zM37 38l1 1-1 1-1-1zM6 39l1 1-1 1-1-1zM12 39l1 1-1 1-1-1zM18 39l1 1-1 1-1-1zM20 39l1 1-1 1-1-1zM14 41l1 1-1 1-1-1zM28 41l1 1-1 1-1-1zM15 42l1 1-1 1-1-1zM17 42l1 1-1 1-1-1zM47 42l1 1-1 1-1-1zM30 43l1 1-1 1-1-1zM40 43l1 1-1 1-1-1zM13 44l1 1-1 1-1-1zM46 45l1 1-1 1-1-1zM11 46l1 1-1 1-1-1zM22 47l1 1-1 1-1-1zM46 47l1 1-1 1-1-1zM-1 50l1 1-1 1-1-1zM9 50l1 1-1 1-1-1zM13 50l1 1-1 1-1-1zM33 50l1 1-1 1-1-1zM45 50l1 1-1 1-1-1zM18 59l1 1-1 1-1-1zM25 60l1 1-1 1-1-1zM16 63l1 1-1 1-1-1zM47 66l1 1-1 1-1-1zM8 67l1 1-1 1-1-1zM44 67l1 1-1 1-1-1zM28 71l1 1-1 1-1-1zM4 73l1 1-1 1-1-1zM26 73l1 1-1 1-1-1z"/><path fill="#7a7a7a" d="M12 25l1 1-1 1-1-1zM20 25l1 1-1 1-1-1zM38 27l1 1-1 1-1-1zM21 28l1 1-1 1-1-1zM35 28l1 1-1 1-1-1zM45 28l1 1-1 1-1-1zM12 29l1 1-1 1-1-1zM35 30l1 1-1 1-1-1zM42 31l1 1-1 1-1-1zM47 32l1 1-1 1-1-1zM44 33l1 1-1 1-1-1zM3 34l1 1-1 1-1-1zM45 34l1 1-1 1-1-1zM12 37l1 1-1 1-1-1zM14 37l1 1-1 1-1-1zM28 37l1 1-1 1-1-1zM42 37l1 1-1 1-1-1zM-2 39l1 1-1 1-1-1zM28 39l1 1-1 1-1-1zM7 40l1 1-1 1-1-1zM45 40l1 1-1 1-1-1zM20 41l1 1-1 1-1-1zM-1 42l1 1-1 1-1-1zM33 42l1 1-1 1-1-1zM47 44l1 1-1 1-1-1zM6 45l1 1-1 1-1-1zM15 46l1 1-1 1-1-1zM18 49l1 1-1 1-1-1zM44 49l1 1-1 1-1-1zM17 50l1 1-1 1-1-1zM21 50l1 1-1 1-1-1zM12 51l1 1-1 1-1-1zM41 52l1 1-1 1-1-1zM47 52l1 1-1 1-1-1zM-2 53l1 1-1 1-1-1zM36 53l1 1-1 1-1-1zM42 53l1 1-1 1-1-1zM12 55l1 1-1 1-1-1zM26 55l1 1-1 1-1-1zM28 55l1 1-1 1-1-1zM-3 56l1 1-1 1-1-1zM39 56l1 1-1 1-1-1zM28 57l1 1-1 1-1-1zM8 59l1 1-1 1-1-1zM37 60l1 1-1 1-1-1zM41 60l1 1-1 1-1-1zM4 65l1 1-1 1-1-1zM16 65l1 1-1 1-1-1zM26 67l1 1-1 1-1-1zM26 69l1 1-1 1-1-1zM39 70l1 1-1 1-1-1zM10 71l1 1-1 1-1-1zM11 72l1 1-1 1-1-1zM14 73l1 1-1 1-1-1z"/><path fill="#7b7b7b" d="M14 25l1 1-1 1-1-1zM37 26l1 1-1 1-1-1zM36 27l1 1-1 1-1-1zM11 30l1 1-1 1-1-1zM29 30l1 1-1 1-1-1zM34 31l1 1-1 1-1-1zM29 32l1 1-1 1-1-1zM37 32l1 1-1 1-1-1zM5 34l1 1-1 1-1-1zM40 35l1 1-1 1-1-1zM17 36l1 1-1 1-1-1zM25 36l1 1-1 1-1-1zM47 36l1 1-1 1-1-1zM24 37l1 1-1 1-1-1zM46 37l1 1-1 1-1-1zM5 38l1 1-1 1-1-1zM2 39l1 1-1 1-1-1zM8 39l1 1-1 1-1-1zM24 39l1 1-1 1-1-1zM1 40l1 1-1 1-1-1zM17 40l1 1-1 1-1-1zM43 40l1 1-1 1-1-1zM6 41l1 1-1 1-1-1zM39 42l1 1-1 1-1-1zM43 42l1 1-1 1-1-1zM10 43l1 1-1 1-1-1zM25 44l1 1-1 1-1-1zM8 45l1 1-1 1-1-1zM20 45l1 1-1 1-1-1zM44 45l1 1-1 1-1-1zM-3 46l1 1-1 1-1-1zM19 46l1 1-1 1-1-1zM21 46l1 1-1 1-1-1zM43 46l1 1-1 1-1-1zM6 47l1 1-1 1-1-1zM12 47l1 1-1 1-1-1zM32 47l1 1-1 1-1-1zM15 48l1 1-1 1-1-1zM29 48l1 1-1 1-1-1zM3 50l1 1-1 1-1-1zM11 50l1 1-1 1-1-1zM1 52l1 1-1 1-1-1zM12 53l1 1-1 1-1-1zM14 53l1 1-1 1-1-1zM41 54l1 1-1 1-1-1zM6 55l1 1-1 1-1-1zM30 55l1 1-1 1-1-1zM23 56l1 1-1 1-1-1zM2 57l1 1-1 1-1-1zM16 59l1 1-1 1-1-1zM20 59l1 1-1 1-1-1zM30 59l1 1-1 1-1-1zM5 60l1 1-1 1-1-1zM19 60l1 1-1 1-1-1zM7 66l1 1-1 1-1-1zM37 66l1 1-1 1-1-1zM28 67l1 1-1 1-1-1zM32 67l1 1-1 1-1-1zM33 68l1 1-1 1-1-1zM43 68l1 1-1 1-1-1zM12 71l1 1-1 1-1-1zM17 72l1 1-1 1-1-1z"/><path fill="#7c7c7c" d="M41 28l1 1-1 1-1-1zM14 29l1 1-1 1-1-1zM30 29l1 1-1 1-1-1zM20 31l1 1-1 1-1-1zM29 34l1 1-1 1-1-1zM14 35l1 1-1 1-1-1zM9 38l1 1-1 1-1-1zM44 39l1 1-1 1-1-1zM23 40l1 1-1 1-1-1zM31 40l1 1-1 1-1-1zM26 41l1 1-1 1-1-1zM19 42l1 1-1 1-1-1zM27 42l1 1-1 1-1-1zM7 44l1 1-1 1-1-1zM9 44l1 1-1 1-1-1zM19 44l1 1-1 1-1-1zM9 46l1 1-1 1-1-1zM29 46l1 1-1 1-1-1zM33 46l1 1-1 1-1-1zM18 47l1 1-1 1-1-1zM26 47l1 1-1 1-1-1zM25 50l1 1-1 1-1-1zM38 51l1 1-1 1-1-1zM27 52l1 1-1 1-1-1zM2 53l1 1-1 1-1-1zM8 55l1 1-1 1-1-1zM42 55l1 1-1 1-1-1zM18 57l1 1-1 1-1-1zM0 61l1 1-1 1-1-1zM12 61l1 1-1 1-1-1zM14 61l1 1-1 1-1-1zM24 61l1 1-1 1-1-1zM33 64l1 1-1 1-1-1zM6 65l1 1-1 1-1-1zM20 65l1 1-1 1-1-1zM34 67l1 1-1 1-1-1zM46 67l1 1-1 1-1-1zM23 68l1 1-1 1-1-1zM29 70l1 1-1 1-1-1zM25 72l1 1-1 1-1-1zM-3 74l1 1-1 1-1-1z"/><path fill="#7d7d7d" d="M19 26l1 1-1 1-1-1zM21 26l1 1-1 1-1-1zM20 27l1 1-1 1-1-1zM3 28l1 1-1 1-1-1zM24 29l1 1-1 1-1-1zM38 31l1 1-1 1-1-1zM22 33l1 1-1 1-1-1zM34 33l1 1-1 1-1-1zM33 34l1 1-1 1-1-1zM19 36l1 1-1 1-1-1zM3 38l1 1-1 1-1-1zM11 38l1 1-1 1-1-1zM31 38l1 1-1 1-1-1zM39 38l1 1-1 1-1-1zM41 40l1 1-1 1-1-1zM4 41l1 1-1 1-1-1zM12 41l1 1-1 1-1-1zM24 41l1 1-1 1-1-1zM29 42l1 1-1 1-1-1zM6 43l1 1-1 1-1-1zM38 43l1 1-1 1-1-1zM1 44l1 1-1 1-1-1zM33 44l1 1-1 1-1-1zM31 46l1 1-1 1-1-1zM0 49l1 1-1 1-1-1zM12 49l1 1-1 1-1-1zM32 49l1 1-1 1-1-1zM46 49l1 1-1 1-1-1zM-3 50l1 1-1 1-1-1zM23 50l1 1-1 1-1-1zM20 51l1 1-1 1-1-1zM-1 52l1 1-1 1-1-1zM15 54l1 1-1 1-1-1zM30 57l1 1-1 1-1-1zM43 58l1 1-1 1-1-1zM26 59l1 1-1 1-1-1zM28 59l1 1-1 1-1-1zM32 59l1 1-1 1-1-1zM9 60l1 1-1 1-1-1zM26 61l1 1-1 1-1-1zM41 62l1 1-1 1-1-1zM20 63l1 1-1 1-1-1zM5 66l1 1-1 1-1-1zM9 66l1 1-1 1-1-1zM15 66l1 1-1 1-1-1zM41 66l1 1-1 1-1-1zM14 67l1 1-1 1-1-1zM16 67l1 1-1 1-1-1zM3 70l1 1-1 1-1-1zM7 70l1 1-1 1-1-1zM44 71l1 1-1 1-1-1zM46 71l1 1-1 1-1-1zM7 72l1 1-1 1-1-1zM7 74l1 1-1 1-1-1zM27 74l1 1-1 1-1-1z"/><path fill="#7e7e7e" d="M32 29l1 1-1 1-1-1zM37 30l1 1-1 1-1-1zM28 31l1 1-1 1-1-1zM11 32l1 1-1 1-1-1zM16 33l1 1-1 1-1-1zM40 33l1 1-1 1-1-1zM31 34l1 1-1 1-1-1zM47 34l1 1-1 1-1-1zM-3 36l1 1-1 1-1-1zM-2 37l1 1-1 1-1-1zM8 37l1 1-1 1-1-1zM17 38l1 1-1 1-1-1zM33 38l1 1-1 1-1-1zM4 39l1 1-1 1-1-1zM22 39l1 1-1 1-1-1zM34 39l1 1-1 1-1-1zM36 41l1 1-1 1-1-1zM38 41l1 1-1 1-1-1zM46 41l1 1-1 1-1-1zM5 42l1 1-1 1-1-1zM11 42l1 1-1 1-1-1zM15 44l1 1-1 1-1-1zM17 44l1 1-1 1-1-1zM45 44l1 1-1 1-1-1zM14 45l1 1-1 1-1-1zM32 45l1 1-1 1-1-1zM42 45l1 1-1 1-1-1zM-1 46l1 1-1 1-1-1zM25 46l1 1-1 1-1-1zM39 46l1 1-1 1-1-1zM8 47l1 1-1 1-1-1zM10 49l1 1-1 1-1-1zM14 49l1 1-1 1-1-1zM6 51l1 1-1 1-1-1zM11 52l1 1-1 1-1-1zM15 52l1 1-1 1-1-1zM25 52l1 1-1 1-1-1zM44 53l1 1-1 1-1-1zM46 55l1 1-1 1-1-1zM37 56l1 1-1 1-1-1zM8 57l1 1-1 1-1-1zM42 57l1 1-1 1-1-1zM17 60l1 1-1 1-1-1zM11 62l1 1-1 1-1-1zM13 62l1 1-1 1-1-1zM17 62l1 1-1 1-1-1zM27 62l1 1-1 1-1-1zM39 66l1 1-1 1-1-1zM36 67l1 1-1 1-1-1zM1 68l1 1-1 1-1-1zM5 68l1 1-1 1-1-1zM25 68l1 1-1 1-1-1zM47 68l1 1-1 1-1-1zM0 69l1 1-1 1-1-1zM1 70l1 1-1 1-1-1zM31 70l1 1-1 1-1-1zM15 72l1 1-1 1-1-1zM0 73l1 1-1 1-1-1zM22 73l1 1-1 1-1-1zM17 74l1 1-1 1-1-1zM39 74l1 1-1 1-1-1z"/><path fill="#7f7f7f" d="M36 29l1 1-1 1-1-1zM21 30l1 1-1 1-1-1zM11 36l1 1-1 1-1-1zM31 36l1 1-1 1-1-1zM41 36l1 1-1 1-1-1zM7 38l1 1-1 1-1-1zM16 39l1 1-1 1-1-1zM9 40l1 1-1 1-1-1zM29 40l1 1-1 1-1-1zM33 40l1 1-1 1-1-1zM-2 41l1 1-1 1-1-1zM0 41l1 1-1 1-1-1zM30 41l1 1-1 1-1-1zM44 41l1 1-1 1-1-1zM16 45l1 1-1 1-1-1zM34 45l1 1-1 1-1-1zM41 46l1 1-1 1-1-1zM-2 47l1 1-1 1-1-1zM45 48l1 1-1 1-1-1zM-2 49l1 1-1 1-1-1zM35 54l1 1-1 1-1-1zM10 55l1 1-1 1-1-1zM3 56l1 1-1 1-1-1zM5 56l1 1-1 1-1-1zM41 56l1 1-1 1-1-1zM10 57l1 1-1 1-1-1zM20 57l1 1-1 1-1-1zM26 57l1 1-1 1-1-1zM3 58l1 1-1 1-1-1zM39 58l1 1-1 1-1-1zM-2 59l1 1-1 1-1-1zM46 59l1 1-1 1-1-1zM11 60l1 1-1 1-1-1zM15 60l1 1-1 1-1-1zM10 61l1 1-1 1-1-1zM44 61l1 1-1 1-1-1zM-2 63l1 1-1 1-1-1zM22 63l1 1-1 1-1-1zM9 64l1 1-1 1-1-1zM15 64l1 1-1 1-1-1zM12 65l1 1-1 1-1-1zM24 65l1 1-1 1-1-1zM31 66l1 1-1 1-1-1zM20 67l1 1-1 1-1-1zM19 68l1 1-1 1-1-1zM41 68l1 1-1 1-1-1zM-2 69l1 1-1 1-1-1zM4 69l1 1-1 1-1-1zM6 69l1 1-1 1-1-1zM40 69l1 1-1 1-1-1zM5 70l1 1-1 1-1-1zM41 70l1 1-1 1-1-1zM24 71l1 1-1 1-1-1zM32 73l1 1-1 1-1-1zM37 74l1 1-1 1-1-1z"/><path fill="#808080" d="M13 28l1 1-1 1-1-1zM27 28l1 1-1 1-1-1zM21 34l1 1-1 1-1-1zM34 35l1 1-1 1-1-1zM32 37l1 1-1 1-1-1zM1 42l1 1-1 1-1-1zM3 42l1 1-1 1-1-1zM0 43l1 1-1 1-1-1zM16 43l1 1-1 1-1-1zM32 43l1 1-1 1-1-1zM44 43l1 1-1 1-1-1zM10 45l1 1-1 1-1-1zM38 45l1 1-1 1-1-1zM14 47l1 1-1 1-1-1zM27 48l1 1-1 1-1-1zM17 52l1 1-1 1-1-1zM21 52l1 1-1 1-1-1zM31 52l1 1-1 1-1-1zM45 52l1 1-1 1-1-1zM20 53l1 1-1 1-1-1zM-3 54l1 1-1 1-1-1zM11 54l1 1-1 1-1-1zM39 54l1 1-1 1-1-1zM14 55l1 1-1 1-1-1zM44 55l1 1-1 1-1-1zM16 57l1 1-1 1-1-1zM46 57l1 1-1 1-1-1zM5 58l1 1-1 1-1-1zM41 58l1 1-1 1-1-1zM6 59l1 1-1 1-1-1zM21 60l1 1-1 1-1-1zM27 60l1 1-1 1-1-1zM31 60l1 1-1 1-1-1zM33 60l1 1-1 1-1-1zM4 61l1 1-1 1-1-1zM6 61l1 1-1 1-1-1zM34 61l1 1-1 1-1-1zM6 63l1 1-1 1-1-1zM0 65l1 1-1 1-1-1zM8 65l1 1-1 1-1-1zM3 66l1 1-1 1-1-1zM19 66l1 1-1 1-1-1zM12 67l1 1-1 1-1-1zM15 68l1 1-1 1-1-1zM27 68l1 1-1 1-1-1zM37 68l1 1-1 1-1-1zM16 69l1 1-1 1-1-1zM9 70l1 1-1 1-1-1zM11 70l1 1-1 1-1-1zM23 70l1 1-1 1-1-1zM45 72l1 1-1 1-1-1zM28 73l1 1-1 1-1-1zM25 74l1 1-1 1-1-1zM43 74l1 1-1 1-1-1z"/><path fill="#818181" d="M43 30l1 1-1 1-1-1zM43 32l1 1-1 1-1-1zM3 36l1 1-1 1-1-1zM38 37l1 1-1 1-1-1zM26 39l1 1-1 1-1-1zM37 40l1 1-1 1-1-1zM10 41l1 1-1 1-1-1zM45 42l1 1-1 1-1-1zM4 43l1 1-1 1-1-1zM8 43l1 1-1 1-1-1zM28 43l1 1-1 1-1-1zM46 43l1 1-1 1-1-1zM3 44l1 1-1 1-1-1zM36 45l1 1-1 1-1-1zM23 46l1 1-1 1-1-1zM20 47l1 1-1 1-1-1zM30 47l1 1-1 1-1-1zM36 47l1 1-1 1-1-1zM3 48l1 1-1 1-1-1zM9 48l1 1-1 1-1-1zM39 48l1 1-1 1-1-1zM26 49l1 1-1 1-1-1zM30 49l1 1-1 1-1-1zM42 49l1 1-1 1-1-1zM31 50l1 1-1 1-1-1zM39 50l1 1-1 1-1-1zM8 51l1 1-1 1-1-1zM18 51l1 1-1 1-1-1zM44 51l1 1-1 1-1-1zM19 52l1 1-1 1-1-1zM43 52l1 1-1 1-1-1zM26 53l1 1-1 1-1-1zM21 54l1 1-1 1-1-1zM45 54l1 1-1 1-1-1zM11 56l1 1-1 1-1-1zM27 56l1 1-1 1-1-1zM47 56l1 1-1 1-1-1zM0 57l1 1-1 1-1-1zM19 58l1 1-1 1-1-1zM24 59l1 1-1 1-1-1zM3 60l1 1-1 1-1-1zM-2 61l1 1-1 1-1-1zM2 63l1 1-1 1-1-1zM14 63l1 1-1 1-1-1zM13 64l1 1-1 1-1-1zM21 64l1 1-1 1-1-1zM30 65l1 1-1 1-1-1zM38 65l1 1-1 1-1-1zM42 65l1 1-1 1-1-1zM-3 66l1 1-1 1-1-1zM45 66l1 1-1 1-1-1zM24 67l1 1-1 1-1-1zM7 68l1 1-1 1-1-1zM9 68l1 1-1 1-1-1zM29 68l1 1-1 1-1-1zM8 69l1 1-1 1-1-1zM17 70l1 1-1 1-1-1zM41 72l1 1-1 1-1-1zM8 73l1 1-1 1-1-1zM40 73l1 1-1 1-1-1zM9 74l1 1-1 1-1-1z"/><path fill="#828282" d="M3 32l1 1-1 1-1-1zM19 32l1 1-1 1-1-1zM-2 33l1 1-1 1-1-1zM42 33l1 1-1 1-1-1zM27 38l1 1-1 1-1-1zM39 44l1 1-1 1-1-1zM2 45l1 1-1 1-1-1zM10 47l1 1-1 1-1-1zM24 47l1 1-1 1-1-1zM28 47l1 1-1 1-1-1zM5 48l1 1-1 1-1-1zM7 48l1 1-1 1-1-1zM19 48l1 1-1 1-1-1zM23 48l1 1-1 1-1-1zM20 49l1 1-1 1-1-1zM7 50l1 1-1 1-1-1zM35 50l1 1-1 1-1-1zM2 51l1 1-1 1-1-1zM22 51l1 1-1 1-1-1zM46 51l1 1-1 1-1-1zM5 52l1 1-1 1-1-1zM33 52l1 1-1 1-1-1zM8 53l1 1-1 1-1-1zM28 53l1 1-1 1-1-1zM33 54l1 1-1 1-1-1zM9 56l1 1-1 1-1-1zM11 58l1 1-1 1-1-1zM29 58l1 1-1 1-1-1zM2 59l1 1-1 1-1-1zM36 59l1 1-1 1-1-1zM42 59l1 1-1 1-1-1zM43 60l1 1-1 1-1-1zM45 60l1 1-1 1-1-1zM18 61l1 1-1 1-1-1zM40 61l1 1-1 1-1-1zM42 61l1 1-1 1-1-1zM1 62l1 1-1 1-1-1zM3 62l1 1-1 1-1-1zM5 62l1 1-1 1-1-1zM39 62l1 1-1 1-1-1zM45 62l1 1-1 1-1-1zM8 63l1 1-1 1-1-1zM42 63l1 1-1 1-1-1zM41 64l1 1-1 1-1-1zM47 64l1 1-1 1-1-1zM2 65l1 1-1 1-1-1zM32 65l1 1-1 1-1-1zM11 66l1 1-1 1-1-1zM6 67l1 1-1 1-1-1zM45 68l1 1-1 1-1-1zM42 69l1 1-1 1-1-1zM-1 70l1 1-1 1-1-1zM37 70l1 1-1 1-1-1zM43 70l1 1-1 1-1-1zM0 71l1 1-1 1-1-1zM20 71l1 1-1 1-1-1zM-2 73l1 1-1 1-1-1zM10 73l1 1-1 1-1-1zM15 74l1 1-1 1-1-1zM31 74l1 1-1 1-1-1z"/><path fill="#838383" d="M15 26l1 1-1 1-1-1zM39 32l1 1-1 1-1-1zM43 34l1 1-1 1-1-1zM7 36l1 1-1 1-1-1zM25 40l1 1-1 1-1-1zM21 42l1 1-1 1-1-1zM37 42l1 1-1 1-1-1zM18 43l1 1-1 1-1-1zM-3 44l1 1-1 1-1-1zM21 44l1 1-1 1-1-1zM29 44l1 1-1 1-1-1zM21 48l1 1-1 1-1-1zM36 49l1 1-1 1-1-1zM27 50l1 1-1 1-1-1zM14 51l1 1-1 1-1-1zM34 51l1 1-1 1-1-1zM37 52l1 1-1 1-1-1zM5 54l1 1-1 1-1-1zM1 56l1 1-1 1-1-1zM12 57l1 1-1 1-1-1zM38 57l1 1-1 1-1-1zM45 58l1 1-1 1-1-1zM34 59l1 1-1 1-1-1zM29 60l1 1-1 1-1-1zM29 62l1 1-1 1-1-1zM47 62l1 1-1 1-1-1zM46 63l1 1-1 1-1-1zM17 64l1 1-1 1-1-1zM26 65l1 1-1 1-1-1zM28 65l1 1-1 1-1-1zM46 65l1 1-1 1-1-1zM29 66l1 1-1 1-1-1zM43 66l1 1-1 1-1-1zM2 67l1 1-1 1-1-1zM22 67l1 1-1 1-1-1zM42 67l1 1-1 1-1-1zM21 68l1 1-1 1-1-1zM35 68l1 1-1 1-1-1zM12 69l1 1-1 1-1-1zM22 69l1 1-1 1-1-1zM-3 70l1 1-1 1-1-1zM33 70l1 1-1 1-1-1zM2 71l1 1-1 1-1-1zM8 71l1 1-1 1-1-1zM1 72l1 1-1 1-1-1zM19 72l1 1-1 1-1-1zM33 72l1 1-1 1-1-1zM34 73l1 1-1 1-1-1zM13 74l1 1-1 1-1-1z"/><path fill="#848484" d="M45 26l1 1-1 1-1-1zM23 28l1 1-1 1-1-1zM47 28l1 1-1 1-1-1zM38 33l1 1-1 1-1-1zM38 35l1 1-1 1-1-1zM27 36l1 1-1 1-1-1zM6 37l1 1-1 1-1-1zM5 44l1 1-1 1-1-1zM31 44l1 1-1 1-1-1zM37 44l1 1-1 1-1-1zM41 44l1 1-1 1-1-1zM18 45l1 1-1 1-1-1zM22 45l1 1-1 1-1-1zM25 48l1 1-1 1-1-1zM38 49l1 1-1 1-1-1zM43 50l1 1-1 1-1-1zM10 51l1 1-1 1-1-1zM42 51l1 1-1 1-1-1zM29 52l1 1-1 1-1-1zM34 53l1 1-1 1-1-1zM-2 55l1 1-1 1-1-1zM36 55l1 1-1 1-1-1zM21 56l1 1-1 1-1-1zM4 57l1 1-1 1-1-1zM22 57l1 1-1 1-1-1zM32 57l1 1-1 1-1-1zM40 57l1 1-1 1-1-1zM44 57l1 1-1 1-1-1zM0 59l1 1-1 1-1-1zM15 62l1 1-1 1-1-1zM21 62l1 1-1 1-1-1zM23 62l1 1-1 1-1-1zM35 62l1 1-1 1-1-1zM37 62l1 1-1 1-1-1zM24 63l1 1-1 1-1-1zM44 63l1 1-1 1-1-1zM11 64l1 1-1 1-1-1zM29 64l1 1-1 1-1-1zM31 68l1 1-1 1-1-1zM24 69l1 1-1 1-1-1zM46 69l1 1-1 1-1-1zM47 70l1 1-1 1-1-1zM-1 72l1 1-1 1-1-1zM29 72l1 1-1 1-1-1zM31 72l1 1-1 1-1-1zM37 72l1 1-1 1-1-1zM6 73l1 1-1 1-1-1zM24 73l1 1-1 1-1-1zM42 73l1 1-1 1-1-1zM46 73l1 1-1 1-1-1zM19 74l1 1-1 1-1-1zM23 74l1 1-1 1-1-1z"/><path fill="#858585" d="M34 27l1 1-1 1-1-1zM31 28l1 1-1 1-1-1zM26 29l1 1-1 1-1-1zM35 34l1 1-1 1-1-1zM4 35l1 1-1 1-1-1zM16 35l1 1-1 1-1-1zM13 38l1 1-1 1-1-1zM36 39l1 1-1 1-1-1zM13 40l1 1-1 1-1-1zM2 43l1 1-1 1-1-1zM20 43l1 1-1 1-1-1zM28 45l1 1-1 1-1-1zM31 48l1 1-1 1-1-1zM38 53l1 1-1 1-1-1zM-1 54l1 1-1 1-1-1zM7 54l1 1-1 1-1-1zM9 54l1 1-1 1-1-1zM31 54l1 1-1 1-1-1zM47 54l1 1-1 1-1-1zM6 57l1 1-1 1-1-1zM23 58l1 1-1 1-1-1zM23 60l1 1-1 1-1-1zM47 60l1 1-1 1-1-1zM18 63l1 1-1 1-1-1zM32 63l1 1-1 1-1-1zM34 63l1 1-1 1-1-1zM38 63l1 1-1 1-1-1zM40 63l1 1-1 1-1-1zM19 64l1 1-1 1-1-1zM35 66l1 1-1 1-1-1zM4 67l1 1-1 1-1-1zM25 70l1 1-1 1-1-1zM35 70l1 1-1 1-1-1zM16 71l1 1-1 1-1-1zM30 71l1 1-1 1-1-1zM5 72l1 1-1 1-1-1zM2 73l1 1-1 1-1-1zM18 73l1 1-1 1-1-1zM30 73l1 1-1 1-1-1zM36 73l1 1-1 1-1-1zM3 74l1 1-1 1-1-1z"/><path fill="#868686" d="M15 36l1 1-1 1-1-1zM0 37l1 1-1 1-1-1zM43 38l1 1-1 1-1-1zM39 40l1 1-1 1-1-1zM23 42l1 1-1 1-1-1zM41 42l1 1-1 1-1-1zM22 43l1 1-1 1-1-1zM24 43l1 1-1 1-1-1zM4 45l1 1-1 1-1-1zM12 45l1 1-1 1-1-1zM34 47l1 1-1 1-1-1zM40 47l1 1-1 1-1-1zM35 48l1 1-1 1-1-1zM37 48l1 1-1 1-1-1zM47 48l1 1-1 1-1-1zM2 49l1 1-1 1-1-1zM6 49l1 1-1 1-1-1zM16 51l1 1-1 1-1-1zM40 51l1 1-1 1-1-1zM-3 52l1 1-1 1-1-1zM3 52l1 1-1 1-1-1zM9 52l1 1-1 1-1-1zM13 52l1 1-1 1-1-1zM0 53l1 1-1 1-1-1zM4 53l1 1-1 1-1-1zM10 53l1 1-1 1-1-1zM1 54l1 1-1 1-1-1zM3 54l1 1-1 1-1-1zM19 54l1 1-1 1-1-1zM29 54l1 1-1 1-1-1zM38 55l1 1-1 1-1-1zM7 56l1 1-1 1-1-1zM15 56l1 1-1 1-1-1zM34 57l1 1-1 1-1-1zM21 58l1 1-1 1-1-1zM31 58l1 1-1 1-1-1zM33 58l1 1-1 1-1-1zM44 59l1 1-1 1-1-1zM20 61l1 1-1 1-1-1zM-3 62l1 1-1 1-1-1zM9 62l1 1-1 1-1-1zM19 62l1 1-1 1-1-1zM33 62l1 1-1 1-1-1zM1 64l1 1-1 1-1-1zM17 66l1 1-1 1-1-1zM3 68l1 1-1 1-1-1zM20 69l1 1-1 1-1-1zM44 69l1 1-1 1-1-1zM45 70l1 1-1 1-1-1zM-2 71l1 1-1 1-1-1zM4 71l1 1-1 1-1-1zM9 72l1 1-1 1-1-1zM13 72l1 1-1 1-1-1zM43 72l1 1-1 1-1-1zM47 72l1 1-1 1-1-1zM38 73l1 1-1 1-1-1zM35 74l1 1-1 1-1-1z"/><path fill="#878787" d="M5 36l1 1-1 1-1-1zM38 39l1 1-1 1-1-1zM31 42l1 1-1 1-1-1zM-2 43l1 1-1 1-1-1zM35 44l1 1-1 1-1-1zM26 45l1 1-1 1-1-1zM30 45l1 1-1 1-1-1zM27 46l1 1-1 1-1-1zM37 50l1 1-1 1-1-1zM26 51l1 1-1 1-1-1zM18 53l1 1-1 1-1-1zM46 53l1 1-1 1-1-1zM0 55l1 1-1 1-1-1zM22 55l1 1-1 1-1-1zM34 55l1 1-1 1-1-1zM19 56l1 1-1 1-1-1zM43 56l1 1-1 1-1-1zM7 58l1 1-1 1-1-1zM13 58l1 1-1 1-1-1zM36 61l1 1-1 1-1-1zM43 62l1 1-1 1-1-1zM0 63l1 1-1 1-1-1zM28 63l1 1-1 1-1-1zM5 64l1 1-1 1-1-1zM45 64l1 1-1 1-1-1zM22 65l1 1-1 1-1-1zM27 66l1 1-1 1-1-1zM18 67l1 1-1 1-1-1zM38 67l1 1-1 1-1-1zM34 71l1 1-1 1-1-1zM21 74l1 1-1 1-1-1zM45 74l1 1-1 1-1-1z"/><path fill="#888888" d="M22 27l1 1-1 1-1-1zM47 30l1 1-1 1-1-1zM41 38l1 1-1 1-1-1zM47 40l1 1-1 1-1-1zM12 43l1 1-1 1-1-1zM36 43l1 1-1 1-1-1zM5 46l1 1-1 1-1-1zM38 47l1 1-1 1-1-1zM28 49l1 1-1 1-1-1zM40 49l1 1-1 1-1-1zM33 56l1 1-1 1-1-1zM-1 58l1 1-1 1-1-1zM25 58l1 1-1 1-1-1zM38 59l1 1-1 1-1-1zM7 60l1 1-1 1-1-1zM32 61l1 1-1 1-1-1zM-2 65l1 1-1 1-1-1zM14 65l1 1-1 1-1-1zM1 66l1 1-1 1-1-1zM-3 68l1 1-1 1-1-1zM17 68l1 1-1 1-1-1zM18 69l1 1-1 1-1-1zM23 72l1 1-1 1-1-1zM16 73l1 1-1 1-1-1zM-1 74l1 1-1 1-1-1zM1 74l1 1-1 1-1-1z"/><path fill="#898989" d="M7 46l1 1-1 1-1-1zM4 47l1 1-1 1-1-1zM1 50l1 1-1 1-1-1zM19 50l1 1-1 1-1-1zM41 50l1 1-1 1-1-1zM43 54l1 1-1 1-1-1zM20 55l1 1-1 1-1-1zM14 57l1 1-1 1-1-1zM14 59l1 1-1 1-1-1zM39 60l1 1-1 1-1-1zM31 62l1 1-1 1-1-1zM25 66l1 1-1 1-1-1zM-2 67l1 1-1 1-1-1zM11 68l1 1-1 1-1-1zM14 69l1 1-1 1-1-1zM36 69l1 1-1 1-1-1zM14 71l1 1-1 1-1-1zM22 71l1 1-1 1-1-1zM36 71l1 1-1 1-1-1zM40 71l1 1-1 1-1-1zM42 71l1 1-1 1-1-1zM-3 72l1 1-1 1-1-1zM47 74l1 1-1 1-1-1z"/><path fill="#8a8a8a" d="M41 48l1 1-1 1-1-1zM31 56l1 1-1 1-1-1zM15 58l1 1-1 1-1-1zM35 58l1 1-1 1-1-1zM12 59l1 1-1 1-1-1zM-3 60l1 1-1 1-1-1zM16 61l1 1-1 1-1-1zM4 63l1 1-1 1-1-1zM36 63l1 1-1 1-1-1zM-3 64l1 1-1 1-1-1zM23 64l1 1-1 1-1-1zM39 64l1 1-1 1-1-1zM15 70l1 1-1 1-1-1zM19 70l1 1-1 1-1-1zM35 72l1 1-1 1-1-1zM5 74l1 1-1 1-1-1zM11 74l1 1-1 1-1-1z"/><path fill="#8b8b8b" d="M2 41l1 1-1 1-1-1zM35 46l1 1-1 1-1-1zM0 51l1 1-1 1-1-1zM30 51l1 1-1 1-1-1zM16 53l1 1-1 1-1-1zM30 53l1 1-1 1-1-1zM16 55l1 1-1 1-1-1zM40 55l1 1-1 1-1-1zM-1 56l1 1-1 1-1-1zM17 56l1 1-1 1-1-1zM-1 60l1 1-1 1-1-1zM28 61l1 1-1 1-1-1zM10 63l1 1-1 1-1-1zM23 66l1 1-1 1-1-1zM30 69l1 1-1 1-1-1zM27 70l1 1-1 1-1-1zM26 71l1 1-1 1-1-1zM38 71l1 1-1 1-1-1zM3 72l1 1-1 1-1-1zM27 72l1 1-1 1-1-1zM29 74l1 1-1 1-1-1zM33 74l1 1-1 1-1-1z"/><path fill="#8c8c8c" d="M11 48l1 1-1 1-1-1zM28 51l1 1-1 1-1-1zM7 52l1 1-1 1-1-1zM22 53l1 1-1 1-1-1zM32 53l1 1-1 1-1-1zM13 56l1 1-1 1-1-1zM17 58l1 1-1 1-1-1zM46 61l1 1-1 1-1-1zM36 65l1 1-1 1-1-1zM-1 66l1 1-1 1-1-1zM30 67l1 1-1 1-1-1zM28 69l1 1-1 1-1-1zM18 71l1 1-1 1-1-1zM32 71l1 1-1 1-1-1zM39 72l1 1-1 1-1-1z"/><path fill="#8d8d8d" d="M17 46l1 1-1 1-1-1zM37 46l1 1-1 1-1-1zM4 49l1 1-1 1-1-1zM17 54l1 1-1 1-1-1zM-3 58l1 1-1 1-1-1zM35 60l1 1-1 1-1-1zM30 61l1 1-1 1-1-1zM38 61l1 1-1 1-1-1zM7 62l1 1-1 1-1-1zM30 63l1 1-1 1-1-1zM3 64l1 1-1 1-1-1zM37 64l1 1-1 1-1-1zM21 66l1 1-1 1-1-1zM39 68l1 1-1 1-1-1zM13 70l1 1-1 1-1-1zM21 72l1 1-1 1-1-1z"/><path fill="#8e8e8e" d="M47 50l1 1-1 1-1-1zM24 55l1 1-1 1-1-1zM40 59l1 1-1 1-1-1zM-1 62l1 1-1 1-1-1zM44 65l1 1-1 1-1-1z"/><path fill="#8f8f8f" d="M29 50l1 1-1 1-1-1zM6 53l1 1-1 1-1-1zM25 56l1 1-1 1-1-1zM27 58l1 1-1 1-1-1zM26 63l1 1-1 1-1-1zM35 64l1 1-1 1-1-1zM21 70l1 1-1 1-1-1zM44 73l1 1-1 1-1-1z"/><path fill="#909090" d="M40 45l1 1-1 1-1-1zM36 51l1 1-1 1-1-1zM29 56l1 1-1 1-1-1zM1 58l1 1-1 1-1-1zM1 60l1 1-1 1-1-1zM-1 64l1 1-1 1-1-1z"/><path fill="#919191" d="M23 44l1 1-1 1-1-1zM25 54l1 1-1 1-1-1zM35 56l1 1-1 1-1-1zM36 57l1 1-1 1-1-1z"/><path fill="#929292" d="M34 49l1 1-1 1-1-1zM47 58l1 1-1 1-1-1zM33 66l1 1-1 1-1-1z"/><path fill="#939393" d="M32 51l1 1-1 1-1-1z"/><path fill="#949494" d="M34 65l1 1-1 1-1-1z"/><path fill="#959595" d="M18 55l1 1-1 1-1-1z"/><path fill="#979797" d="M32 69l1 1-1 1-1-1z"/><path fill="#9c9c9c" d="M45 46l1 1-1 1-1-1z"/></g>
</g>

</g>
<rect x="121.6" y="49.7" width="538.9" height="466.9" fill="none" stroke="#222" stroke-width="1.1"/>
<path d="M119.0 494.4h2.6M116.6 453.1h5.0M119.0 411.8h2.6M116.6 370.4h5.0M119.0 329.1h2.6M116.6 287.8h5.0M119.0 246.4h2.6M116.6 205.1h5.0M119.0 163.7h2.6M116.6 122.4h5.0M119.0 81.1h2.6M150.2 516.6v2.6M185.2 516.6v5.0M220.3 516.6v2.6M255.4 516.6v5.0M290.5 516.6v2.6M325.5 516.6v5.0M360.6 516.6v2.6M395.7 516.6v5.0M430.8 516.6v2.6M465.9 516.6v5.0M500.9 516.6v2.6M536.0 516.6v5.0M571.1 516.6v2.6M606.1 516.6v5.0M641.2 516.6v2.6" stroke="#222" stroke-width="1.1" fill="none"/>
<text class="tk" transform="translate(112.0 462.5) scale(1.000 1.040)" text-anchor="end">-1000</text>
<text class="tk" transform="translate(112.0 379.8) scale(1.000 1.040)" text-anchor="end">-500</text>
<text class="tk" transform="translate(112.0 297.1) scale(1.000 1.040)" text-anchor="end">0</text>
<text class="tk" transform="translate(112.0 214.5) scale(1.000 1.040)" text-anchor="end">500</text>
<text class="tk" transform="translate(112.0 131.8) scale(1.000 1.040)" text-anchor="end">1000</text>
<text class="tk" transform="translate(255.1 549.8) scale(1.000 1.040)" text-anchor="middle">-1000</text>
<text class="tk" transform="translate(395.4 549.8) scale(1.000 1.040)" text-anchor="middle">0</text>
<text class="tk" transform="translate(535.7 549.8) scale(1.000 1.040)" text-anchor="middle">1000</text>
<text class="ax" transform="translate(391.4 597.0) scale(1.048 1.040)" text-anchor="middle">Distance along X axis/µm</text>
<text class="ax" transform="translate(23.5 283.7) rotate(-90) scale(1.048 1.040)" text-anchor="middle">Distance along Y axis/µm</text>
<text class="tt" transform="translate(127.2 39.3) scale(1.000 1.012)">a<tspan font-weight="normal">)</tspan> 1 min</text>
<text class="jz" transform="translate(667.6 29.0) scale(1.070 1.040)"><tspan font-style="italic">j</tspan><tspan font-size="26px" dx="-0.3" dy="6.6">Z</tspan><tspan dx="0" dy="-6.6"> (µA cm</tspan><tspan font-size="23px" dx="1.2" dy="-9.6">−2</tspan><tspan dx="0.8" dy="9.6">)</tspan></text>
<rect x="747.4" y="50.0" width="22.9" height="4.6" fill="#808080"/>
<rect x="747.4" y="54.5" width="22.9" height="457.2" fill="url(#cbg)"/>
<rect x="747.4" y="511.6" width="22.9" height="4.5" fill="#000"/>
<path d="M770.3 50.0V516.1" stroke="#666" stroke-width="0.8" fill="none"/>
<text class="cb" transform="translate(787.5 65.8) scale(1.020 1.040)">1.5</text>
<text class="cb" transform="translate(787.5 144.4) scale(1.020 1.040)">1.0</text>
<text class="cb" transform="translate(787.5 222.5) scale(1.020 1.040)">0.5</text>
<text class="cb" transform="translate(787.5 301.1) scale(1.020 1.040)">0.0</text>
<text class="cb" transform="translate(787.5 387.7) scale(1.020 1.040)">-0.4</text>
<text class="cb" transform="translate(787.5 455.5) scale(1.020 1.040)">-0.7</text>
<text class="cb" transform="translate(787.5 523.0) scale(1.020 1.040)">-1.0</text>
<path d="M770.3 54.5h5M770.3 133.1h5M770.3 211.2h5M770.3 289.8h5M770.3 376.4h5M770.3 444.2h5M770.3 511.7h5" stroke="#333" stroke-width="1" fill="none"/>
</g>
<g id="panel-b">
<g clip-path="url(#clb)"><g filter="url(#fb)">
<g transform="translate(1018.40 49.70) scale(12.0864 6.9471)"><rect x="-4" y="-8" width="52" height="84" fill="#353535"/><path fill="#000000" d="M23 -6l1 1-1 1-1-1zM17 12l1 1-1 1-1-1zM27 20l1 1-1 1-1-1zM9 74l1 1-1 1-1-1z"/><path fill="#010101" d="M29 0l1 1-1 1-1-1z"/><path fill="#060606" d="M9 50l1 1-1 1-1-1zM18 57l1 1-1 1-1-1zM13 60l1 1-1 1-1-1z"/><path fill="#070707" d="M10 45l1 1-1 1-1-1zM25 64l1 1-1 1-1-1z"/><path fill="#090909" d="M24 63l1 1-1 1-1-1zM15 70l1 1-1 1-1-1z"/><path fill="#0a0a0a" d="M16 27l1 1-1 1-1-1zM16 37l1 1-1 1-1-1zM23 56l1 1-1 1-1-1z"/><path fill="#0b0b0b" d="M30 25l1 1-1 1-1-1zM10 47l1 1-1 1-1-1zM11 50l1 1-1 1-1-1z"/><path fill="#0c0c0c" d="M24 9l1 1-1 1-1-1zM21 12l1 1-1 1-1-1zM14 17l1 1-1 1-1-1zM18 17l1 1-1 1-1-1zM28 21l1 1-1 1-1-1z"/><path fill="#0d0d0d" d="M17 14l1 1-1 1-1-1zM14 15l1 1-1 1-1-1zM15 16l1 1-1 1-1-1zM17 26l1 1-1 1-1-1zM20 33l1 1-1 1-1-1z"/><path fill="#0e0e0e" d="M19 -8l1 1-1 1-1-1zM24 -7l1 1-1 1-1-1zM19 -4l1 1-1 1-1-1zM16 25l1 1-1 1-1-1zM22 35l1 1-1 1-1-1zM26 39l1 1-1 1-1-1zM30 39l1 1-1 1-1-1zM4 45l1 1-1 1-1-1zM23 54l1 1-1 1-1-1zM22 59l1 1-1 1-1-1zM23 60l1 1-1 1-1-1z"/><path fill="#0f0f0f" d="M23 2l1 1-1 1-1-1zM13 20l1 1-1 1-1-1zM10 23l1 1-1 1-1-1zM17 74l1 1-1 1-1-1z"/><path fill="#101010" d="M28 7l1 1-1 1-1-1zM32 13l1 1-1 1-1-1zM29 14l1 1-1 1-1-1zM18 19l1 1-1 1-1-1zM20 19l1 1-1 1-1-1zM17 32l1 1-1 1-1-1zM18 33l1 1-1 1-1-1zM23 46l1 1-1 1-1-1zM10 51l1 1-1 1-1-1zM19 52l1 1-1 1-1-1zM19 64l1 1-1 1-1-1zM16 69l1 1-1 1-1-1zM10 73l1 1-1 1-1-1z"/><path fill="#111111" d="M5 -2l1 1-1 1-1-1zM27 22l1 1-1 1-1-1zM40 49l1 1-1 1-1-1zM13 56l1 1-1 1-1-1zM12 57l1 1-1 1-1-1z"/><path fill="#121212" d="M18 11l1 1-1 1-1-1zM29 34l1 1-1 1-1-1zM18 67l1 1-1 1-1-1z"/><path fill="#131313" d="M15 -4l1 1-1 1-1-1zM6 -3l1 1-1 1-1-1zM19 -2l1 1-1 1-1-1zM31 8l1 1-1 1-1-1zM-3 16l1 1-1 1-1-1zM19 18l1 1-1 1-1-1zM26 33l1 1-1 1-1-1zM23 42l1 1-1 1-1-1zM35 48l1 1-1 1-1-1z"/><path fill="#141414" d="M35 -8l1 1-1 1-1-1zM15 -6l1 1-1 1-1-1zM7 6l1 1-1 1-1-1zM24 21l1 1-1 1-1-1zM26 21l1 1-1 1-1-1zM11 22l1 1-1 1-1-1zM13 22l1 1-1 1-1-1zM9 46l1 1-1 1-1-1zM14 59l1 1-1 1-1-1zM25 70l1 1-1 1-1-1z"/><path fill="#151515" d="M33 -6l1 1-1 1-1-1zM21 14l1 1-1 1-1-1zM21 18l1 1-1 1-1-1zM25 18l1 1-1 1-1-1zM8 65l1 1-1 1-1-1zM1 68l1 1-1 1-1-1zM14 71l1 1-1 1-1-1zM18 73l1 1-1 1-1-1z"/><path fill="#161616" d="M14 25l1 1-1 1-1-1zM3 34l1 1-1 1-1-1zM16 35l1 1-1 1-1-1zM26 45l1 1-1 1-1-1zM13 58l1 1-1 1-1-1zM-1 60l1 1-1 1-1-1zM21 60l1 1-1 1-1-1zM-3 64l1 1-1 1-1-1z"/><path fill="#171717" d="M11 6l1 1-1 1-1-1zM23 10l1 1-1 1-1-1zM32 11l1 1-1 1-1-1zM20 13l1 1-1 1-1-1zM14 23l1 1-1 1-1-1zM45 40l1 1-1 1-1-1zM25 44l1 1-1 1-1-1zM4 65l1 1-1 1-1-1zM0 67l1 1-1 1-1-1z"/><path fill="#181818" d="M28 1l1 1-1 1-1-1zM18 9l1 1-1 1-1-1zM20 11l1 1-1 1-1-1zM45 16l1 1-1 1-1-1zM17 20l1 1-1 1-1-1zM20 31l1 1-1 1-1-1zM21 34l1 1-1 1-1-1zM22 47l1 1-1 1-1-1zM19 54l1 1-1 1-1-1zM21 54l1 1-1 1-1-1zM39 68l1 1-1 1-1-1z"/><path fill="#191919" d="M39 -8l1 1-1 1-1-1zM25 -4l1 1-1 1-1-1zM37 -4l1 1-1 1-1-1zM33 2l1 1-1 1-1-1zM15 12l1 1-1 1-1-1zM40 13l1 1-1 1-1-1zM24 15l1 1-1 1-1-1zM10 25l1 1-1 1-1-1zM21 26l1 1-1 1-1-1zM34 29l1 1-1 1-1-1zM19 32l1 1-1 1-1-1zM18 37l1 1-1 1-1-1zM8 41l1 1-1 1-1-1zM12 43l1 1-1 1-1-1zM20 45l1 1-1 1-1-1zM15 52l1 1-1 1-1-1zM10 57l1 1-1 1-1-1zM11 58l1 1-1 1-1-1zM19 62l1 1-1 1-1-1zM14 65l1 1-1 1-1-1z"/><path fill="#1a1a1a" d="M20 -3l1 1-1 1-1-1zM29 -2l1 1-1 1-1-1zM21 0l1 1-1 1-1-1zM14 1l1 1-1 1-1-1zM13 6l1 1-1 1-1-1zM27 6l1 1-1 1-1-1zM13 10l1 1-1 1-1-1zM34 15l1 1-1 1-1-1zM15 20l1 1-1 1-1-1zM8 23l1 1-1 1-1-1zM45 42l1 1-1 1-1-1zM20 53l1 1-1 1-1-1zM16 55l1 1-1 1-1-1zM24 65l1 1-1 1-1-1zM18 69l1 1-1 1-1-1zM23 74l1 1-1 1-1-1z"/><path fill="#1b1b1b" d="M31 -6l1 1-1 1-1-1zM15 0l1 1-1 1-1-1zM35 2l1 1-1 1-1-1zM24 3l1 1-1 1-1-1zM34 5l1 1-1 1-1-1zM28 9l1 1-1 1-1-1zM16 11l1 1-1 1-1-1zM37 18l1 1-1 1-1-1zM19 22l1 1-1 1-1-1zM18 23l1 1-1 1-1-1zM22 23l1 1-1 1-1-1zM11 26l1 1-1 1-1-1zM13 26l1 1-1 1-1-1zM45 36l1 1-1 1-1-1zM29 40l1 1-1 1-1-1z"/><path fill="#1c1c1c" d="M16 3l1 1-1 1-1-1zM28 11l1 1-1 1-1-1zM24 13l1 1-1 1-1-1zM-2 17l1 1-1 1-1-1zM24 23l1 1-1 1-1-1zM19 34l1 1-1 1-1-1zM25 34l1 1-1 1-1-1zM18 35l1 1-1 1-1-1zM11 36l1 1-1 1-1-1zM29 36l1 1-1 1-1-1zM21 38l1 1-1 1-1-1zM27 40l1 1-1 1-1-1zM3 42l1 1-1 1-1-1zM13 42l1 1-1 1-1-1zM0 59l1 1-1 1-1-1zM15 62l1 1-1 1-1-1zM11 70l1 1-1 1-1-1z"/><path fill="#1d1d1d" d="M32 5l1 1-1 1-1-1zM9 12l1 1-1 1-1-1zM32 25l1 1-1 1-1-1zM28 27l1 1-1 1-1-1zM15 28l1 1-1 1-1-1zM13 32l1 1-1 1-1-1zM24 33l1 1-1 1-1-1zM20 35l1 1-1 1-1-1zM26 35l1 1-1 1-1-1zM20 37l1 1-1 1-1-1zM14 39l1 1-1 1-1-1zM24 41l1 1-1 1-1-1zM11 42l1 1-1 1-1-1zM19 48l1 1-1 1-1-1zM23 48l1 1-1 1-1-1zM20 51l1 1-1 1-1-1zM21 52l1 1-1 1-1-1zM20 67l1 1-1 1-1-1zM-2 69l1 1-1 1-1-1zM19 74l1 1-1 1-1-1z"/><path fill="#1e1e1e" d="M14 -1l1 1-1 1-1-1zM7 0l1 1-1 1-1-1zM22 3l1 1-1 1-1-1zM14 11l1 1-1 1-1-1zM16 15l1 1-1 1-1-1zM20 15l1 1-1 1-1-1zM23 16l1 1-1 1-1-1zM28 17l1 1-1 1-1-1zM14 19l1 1-1 1-1-1zM30 19l1 1-1 1-1-1zM13 24l1 1-1 1-1-1zM17 24l1 1-1 1-1-1zM28 31l1 1-1 1-1-1zM11 34l1 1-1 1-1-1zM11 44l1 1-1 1-1-1zM12 49l1 1-1 1-1-1zM18 49l1 1-1 1-1-1zM17 58l1 1-1 1-1-1zM8 59l1 1-1 1-1-1zM-1 66l1 1-1 1-1-1zM13 66l1 1-1 1-1-1zM27 68l1 1-1 1-1-1z"/><path fill="#1f1f1f" d="M20 -7l1 1-1 1-1-1zM33 -4l1 1-1 1-1-1zM10 1l1 1-1 1-1-1zM38 5l1 1-1 1-1-1zM13 8l1 1-1 1-1-1zM46 9l1 1-1 1-1-1zM11 10l1 1-1 1-1-1zM21 16l1 1-1 1-1-1zM30 17l1 1-1 1-1-1zM37 20l1 1-1 1-1-1zM22 21l1 1-1 1-1-1zM26 27l1 1-1 1-1-1zM16 31l1 1-1 1-1-1zM28 35l1 1-1 1-1-1zM14 43l1 1-1 1-1-1zM22 43l1 1-1 1-1-1zM19 50l1 1-1 1-1-1zM22 55l1 1-1 1-1-1zM15 58l1 1-1 1-1-1zM27 64l1 1-1 1-1-1zM-3 66l1 1-1 1-1-1zM45 68l1 1-1 1-1-1zM23 70l1 1-1 1-1-1z"/><path fill="#202020" d="M8 -7l1 1-1 1-1-1zM28 -1l1 1-1 1-1-1zM25 4l1 1-1 1-1-1zM10 5l1 1-1 1-1-1zM33 10l1 1-1 1-1-1zM20 17l1 1-1 1-1-1zM29 22l1 1-1 1-1-1zM19 24l1 1-1 1-1-1zM35 24l1 1-1 1-1-1zM39 28l1 1-1 1-1-1zM23 34l1 1-1 1-1-1zM25 36l1 1-1 1-1-1zM9 38l1 1-1 1-1-1zM7 42l1 1-1 1-1-1zM27 42l1 1-1 1-1-1zM6 63l1 1-1 1-1-1zM24 71l1 1-1 1-1-1zM13 74l1 1-1 1-1-1z"/><path fill="#212121" d="M5 0l1 1-1 1-1-1zM16 5l1 1-1 1-1-1zM30 7l1 1-1 1-1-1zM25 12l1 1-1 1-1-1zM15 14l1 1-1 1-1-1zM22 17l1 1-1 1-1-1zM23 20l1 1-1 1-1-1zM29 20l1 1-1 1-1-1zM28 25l1 1-1 1-1-1zM43 26l1 1-1 1-1-1zM19 30l1 1-1 1-1-1zM18 31l1 1-1 1-1-1zM23 36l1 1-1 1-1-1zM36 37l1 1-1 1-1-1zM15 38l1 1-1 1-1-1zM32 39l1 1-1 1-1-1zM21 40l1 1-1 1-1-1zM9 44l1 1-1 1-1-1zM14 55l1 1-1 1-1-1zM24 55l1 1-1 1-1-1zM-1 56l1 1-1 1-1-1zM2 69l1 1-1 1-1-1z"/><path fill="#222222" d="M8 -5l1 1-1 1-1-1zM31 -4l1 1-1 1-1-1zM23 8l1 1-1 1-1-1zM29 8l1 1-1 1-1-1zM22 9l1 1-1 1-1-1zM19 10l1 1-1 1-1-1zM29 16l1 1-1 1-1-1zM37 16l1 1-1 1-1-1zM14 21l1 1-1 1-1-1zM31 22l1 1-1 1-1-1zM35 28l1 1-1 1-1-1zM22 29l1 1-1 1-1-1zM17 30l1 1-1 1-1-1zM24 31l1 1-1 1-1-1zM27 34l1 1-1 1-1-1zM31 36l1 1-1 1-1-1zM17 38l1 1-1 1-1-1zM1 42l1 1-1 1-1-1zM11 48l1 1-1 1-1-1zM2 53l1 1-1 1-1-1zM12 55l1 1-1 1-1-1zM29 60l1 1-1 1-1-1zM25 68l1 1-1 1-1-1zM12 71l1 1-1 1-1-1zM-1 74l1 1-1 1-1-1z"/><path fill="#232323" d="M41 -6l1 1-1 1-1-1zM15 6l1 1-1 1-1-1zM38 9l1 1-1 1-1-1zM31 10l1 1-1 1-1-1zM18 13l1 1-1 1-1-1zM1 18l1 1-1 1-1-1zM13 18l1 1-1 1-1-1zM27 24l1 1-1 1-1-1zM19 26l1 1-1 1-1-1zM21 28l1 1-1 1-1-1zM43 28l1 1-1 1-1-1zM32 29l1 1-1 1-1-1zM14 31l1 1-1 1-1-1zM32 33l1 1-1 1-1-1zM21 36l1 1-1 1-1-1zM33 38l1 1-1 1-1-1zM19 40l1 1-1 1-1-1zM26 41l1 1-1 1-1-1zM30 45l1 1-1 1-1-1zM7 48l1 1-1 1-1-1zM25 50l1 1-1 1-1-1zM16 51l1 1-1 1-1-1zM13 52l1 1-1 1-1-1zM18 53l1 1-1 1-1-1zM20 57l1 1-1 1-1-1zM8 61l1 1-1 1-1-1zM18 63l1 1-1 1-1-1zM1 66l1 1-1 1-1-1z"/><path fill="#242424" d="M6 -7l1 1-1 1-1-1zM21 -6l1 1-1 1-1-1zM6 -5l1 1-1 1-1-1zM27 -4l1 1-1 1-1-1zM13 0l1 1-1 1-1-1zM34 1l1 1-1 1-1-1zM20 3l1 1-1 1-1-1zM-3 4l1 1-1 1-1-1zM31 4l1 1-1 1-1-1zM34 7l1 1-1 1-1-1zM-3 8l1 1-1 1-1-1zM26 11l1 1-1 1-1-1zM3 12l1 1-1 1-1-1zM23 14l1 1-1 1-1-1zM22 15l1 1-1 1-1-1zM31 18l1 1-1 1-1-1zM9 22l1 1-1 1-1-1zM18 25l1 1-1 1-1-1zM47 32l1 1-1 1-1-1zM12 37l1 1-1 1-1-1zM16 41l1 1-1 1-1-1zM26 43l1 1-1 1-1-1zM24 49l1 1-1 1-1-1zM13 50l1 1-1 1-1-1zM18 51l1 1-1 1-1-1zM-1 52l1 1-1 1-1-1zM41 52l1 1-1 1-1-1zM14 53l1 1-1 1-1-1zM21 58l1 1-1 1-1-1zM14 61l1 1-1 1-1-1zM23 64l1 1-1 1-1-1zM19 68l1 1-1 1-1-1zM23 68l1 1-1 1-1-1z"/><path fill="#252525" d="M23 -8l1 1-1 1-1-1zM29 -6l1 1-1 1-1-1zM10 -5l1 1-1 1-1-1zM24 -5l1 1-1 1-1-1zM32 -5l1 1-1 1-1-1zM41 -4l1 1-1 1-1-1zM16 -3l1 1-1 1-1-1zM17 -2l1 1-1 1-1-1zM24 -1l1 1-1 1-1-1zM40 5l1 1-1 1-1-1zM10 7l1 1-1 1-1-1zM11 20l1 1-1 1-1-1zM19 28l1 1-1 1-1-1zM31 28l1 1-1 1-1-1zM20 29l1 1-1 1-1-1zM28 29l1 1-1 1-1-1zM9 32l1 1-1 1-1-1zM12 45l1 1-1 1-1-1zM19 56l1 1-1 1-1-1zM-2 57l1 1-1 1-1-1zM18 65l1 1-1 1-1-1zM14 67l1 1-1 1-1-1zM9 72l1 1-1 1-1-1zM19 72l1 1-1 1-1-1zM23 72l1 1-1 1-1-1z"/><path fill="#262626" d="M30 -7l1 1-1 1-1-1zM7 -6l1 1-1 1-1-1zM20 -5l1 1-1 1-1-1zM34 -1l1 1-1 1-1-1zM15 8l1 1-1 1-1-1zM15 10l1 1-1 1-1-1zM21 10l1 1-1 1-1-1zM4 17l1 1-1 1-1-1zM-1 22l1 1-1 1-1-1zM17 22l1 1-1 1-1-1zM15 26l1 1-1 1-1-1zM20 27l1 1-1 1-1-1zM13 36l1 1-1 1-1-1zM-2 45l1 1-1 1-1-1zM14 45l1 1-1 1-1-1zM21 46l1 1-1 1-1-1zM15 56l1 1-1 1-1-1zM16 59l1 1-1 1-1-1zM18 59l1 1-1 1-1-1zM24 69l1 1-1 1-1-1zM-3 72l1 1-1 1-1-1zM33 74l1 1-1 1-1-1z"/><path fill="#272727" d="M33 -8l1 1-1 1-1-1zM40 -7l1 1-1 1-1-1zM23 -4l1 1-1 1-1-1zM24 -3l1 1-1 1-1-1zM11 0l1 1-1 1-1-1zM20 1l1 1-1 1-1-1zM24 1l1 1-1 1-1-1zM19 6l1 1-1 1-1-1zM27 8l1 1-1 1-1-1zM20 9l1 1-1 1-1-1zM-2 13l1 1-1 1-1-1zM22 19l1 1-1 1-1-1zM26 23l1 1-1 1-1-1zM21 24l1 1-1 1-1-1zM0 27l1 1-1 1-1-1zM21 30l1 1-1 1-1-1zM29 32l1 1-1 1-1-1zM8 33l1 1-1 1-1-1zM27 36l1 1-1 1-1-1zM16 39l1 1-1 1-1-1zM20 43l1 1-1 1-1-1zM24 43l1 1-1 1-1-1zM23 44l1 1-1 1-1-1zM8 45l1 1-1 1-1-1zM13 48l1 1-1 1-1-1zM35 50l1 1-1 1-1-1zM29 52l1 1-1 1-1-1zM13 54l1 1-1 1-1-1zM21 56l1 1-1 1-1-1zM3 58l1 1-1 1-1-1zM11 64l1 1-1 1-1-1zM11 68l1 1-1 1-1-1zM20 69l1 1-1 1-1-1zM24 73l1 1-1 1-1-1zM29 74l1 1-1 1-1-1z"/><path fill="#282828" d="M30 -5l1 1-1 1-1-1zM34 -5l1 1-1 1-1-1zM4 -1l1 1-1 1-1-1zM18 -1l1 1-1 1-1-1zM22 -1l1 1-1 1-1-1zM41 2l1 1-1 1-1-1zM10 3l1 1-1 1-1-1zM22 5l1 1-1 1-1-1zM20 7l1 1-1 1-1-1zM19 8l1 1-1 1-1-1zM21 8l1 1-1 1-1-1zM19 12l1 1-1 1-1-1zM29 12l1 1-1 1-1-1zM46 15l1 1-1 1-1-1zM27 18l1 1-1 1-1-1zM10 19l1 1-1 1-1-1zM21 20l1 1-1 1-1-1zM39 20l1 1-1 1-1-1zM-3 22l1 1-1 1-1-1zM42 23l1 1-1 1-1-1zM12 27l1 1-1 1-1-1zM24 27l1 1-1 1-1-1zM16 33l1 1-1 1-1-1zM19 36l1 1-1 1-1-1zM-2 37l1 1-1 1-1-1zM8 43l1 1-1 1-1-1zM16 43l1 1-1 1-1-1zM21 44l1 1-1 1-1-1zM10 49l1 1-1 1-1-1zM24 53l1 1-1 1-1-1zM1 56l1 1-1 1-1-1zM6 57l1 1-1 1-1-1zM17 62l1 1-1 1-1-1zM35 64l1 1-1 1-1-1zM10 71l1 1-1 1-1-1zM12 73l1 1-1 1-1-1z"/><path fill="#292929" d="M7 -8l1 1-1 1-1-1zM25 -8l1 1-1 1-1-1zM15 -2l1 1-1 1-1-1zM23 -2l1 1-1 1-1-1zM31 -2l1 1-1 1-1-1zM33 0l1 1-1 1-1-1zM9 6l1 1-1 1-1-1zM18 7l1 1-1 1-1-1zM9 10l1 1-1 1-1-1zM14 13l1 1-1 1-1-1zM39 14l1 1-1 1-1-1zM10 15l1 1-1 1-1-1zM28 15l1 1-1 1-1-1zM26 17l1 1-1 1-1-1zM29 18l1 1-1 1-1-1zM39 18l1 1-1 1-1-1zM5 20l1 1-1 1-1-1zM25 20l1 1-1 1-1-1zM12 21l1 1-1 1-1-1zM7 22l1 1-1 1-1-1zM15 24l1 1-1 1-1-1zM-2 25l1 1-1 1-1-1zM33 26l1 1-1 1-1-1zM4 29l1 1-1 1-1-1zM46 29l1 1-1 1-1-1zM36 33l1 1-1 1-1-1zM2 37l1 1-1 1-1-1zM15 46l1 1-1 1-1-1zM25 48l1 1-1 1-1-1zM14 57l1 1-1 1-1-1zM3 60l1 1-1 1-1-1zM10 65l1 1-1 1-1-1zM15 66l1 1-1 1-1-1zM36 71l1 1-1 1-1-1zM1 72l1 1-1 1-1-1zM13 72l1 1-1 1-1-1zM14 73l1 1-1 1-1-1zM32 73l1 1-1 1-1-1z"/><path fill="#2a2a2a" d="M9 -8l1 1-1 1-1-1zM16 -7l1 1-1 1-1-1zM5 -4l1 1-1 1-1-1zM30 -1l1 1-1 1-1-1zM39 0l1 1-1 1-1-1zM38 1l1 1-1 1-1-1zM23 4l1 1-1 1-1-1zM33 6l1 1-1 1-1-1zM24 7l1 1-1 1-1-1zM25 8l1 1-1 1-1-1zM17 10l1 1-1 1-1-1zM45 10l1 1-1 1-1-1zM19 14l1 1-1 1-1-1zM31 14l1 1-1 1-1-1zM-1 16l1 1-1 1-1-1zM38 21l1 1-1 1-1-1zM20 23l1 1-1 1-1-1zM10 33l1 1-1 1-1-1zM8 35l1 1-1 1-1-1zM3 36l1 1-1 1-1-1zM22 37l1 1-1 1-1-1zM10 43l1 1-1 1-1-1zM-3 46l1 1-1 1-1-1zM27 46l1 1-1 1-1-1zM20 47l1 1-1 1-1-1zM41 48l1 1-1 1-1-1zM22 53l1 1-1 1-1-1zM15 54l1 1-1 1-1-1zM25 54l1 1-1 1-1-1zM-2 55l1 1-1 1-1-1zM22 57l1 1-1 1-1-1zM28 59l1 1-1 1-1-1zM4 63l1 1-1 1-1-1zM4 67l1 1-1 1-1-1zM15 72l1 1-1 1-1-1z"/><path fill="#2b2b2b" d="M15 -8l1 1-1 1-1-1zM22 -7l1 1-1 1-1-1zM4 -5l1 1-1 1-1-1zM25 -2l1 1-1 1-1-1zM16 -1l1 1-1 1-1-1zM20 -1l1 1-1 1-1-1zM38 -1l1 1-1 1-1-1zM32 3l1 1-1 1-1-1zM17 6l1 1-1 1-1-1zM34 11l1 1-1 1-1-1zM11 14l1 1-1 1-1-1zM19 16l1 1-1 1-1-1zM5 18l1 1-1 1-1-1zM41 18l1 1-1 1-1-1zM-2 19l1 1-1 1-1-1zM38 19l1 1-1 1-1-1zM46 21l1 1-1 1-1-1zM12 25l1 1-1 1-1-1zM30 27l1 1-1 1-1-1zM27 28l1 1-1 1-1-1zM14 33l1 1-1 1-1-1zM33 36l1 1-1 1-1-1zM4 37l1 1-1 1-1-1zM1 38l1 1-1 1-1-1zM29 38l1 1-1 1-1-1zM46 41l1 1-1 1-1-1zM25 42l1 1-1 1-1-1zM35 42l1 1-1 1-1-1zM39 44l1 1-1 1-1-1zM5 46l1 1-1 1-1-1zM9 48l1 1-1 1-1-1zM21 48l1 1-1 1-1-1zM31 48l1 1-1 1-1-1zM2 49l1 1-1 1-1-1zM24 51l1 1-1 1-1-1zM36 59l1 1-1 1-1-1zM15 60l1 1-1 1-1-1zM10 61l1 1-1 1-1-1zM5 64l1 1-1 1-1-1zM9 66l1 1-1 1-1-1zM7 70l1 1-1 1-1-1zM0 73l1 1-1 1-1-1zM3 74l1 1-1 1-1-1zM25 74l1 1-1 1-1-1z"/><path fill="#2c2c2c" d="M13 -8l1 1-1 1-1-1zM25 -6l1 1-1 1-1-1zM13 -2l1 1-1 1-1-1zM26 -1l1 1-1 1-1-1zM26 1l1 1-1 1-1-1zM11 2l1 1-1 1-1-1zM25 2l1 1-1 1-1-1zM34 3l1 1-1 1-1-1zM32 7l1 1-1 1-1-1zM9 8l1 1-1 1-1-1zM43 10l1 1-1 1-1-1zM10 11l1 1-1 1-1-1zM10 17l1 1-1 1-1-1zM44 19l1 1-1 1-1-1zM9 20l1 1-1 1-1-1zM21 22l1 1-1 1-1-1zM0 25l1 1-1 1-1-1zM35 26l1 1-1 1-1-1zM26 29l1 1-1 1-1-1zM37 32l1 1-1 1-1-1zM32 35l1 1-1 1-1-1zM10 37l1 1-1 1-1-1zM31 46l1 1-1 1-1-1zM24 47l1 1-1 1-1-1zM4 49l1 1-1 1-1-1zM15 50l1 1-1 1-1-1zM21 50l1 1-1 1-1-1zM31 52l1 1-1 1-1-1zM29 58l1 1-1 1-1-1zM20 59l1 1-1 1-1-1zM32 59l1 1-1 1-1-1zM25 62l1 1-1 1-1-1zM31 64l1 1-1 1-1-1zM12 65l1 1-1 1-1-1zM12 67l1 1-1 1-1-1zM26 69l1 1-1 1-1-1zM8 71l1 1-1 1-1-1z"/><path fill="#2d2d2d" d="M27 -8l1 1-1 1-1-1zM0 -7l1 1-1 1-1-1zM42 -7l1 1-1 1-1-1zM0 -3l1 1-1 1-1-1zM41 -2l1 1-1 1-1-1zM25 0l1 1-1 1-1-1zM0 1l1 1-1 1-1-1zM14 5l1 1-1 1-1-1zM31 12l1 1-1 1-1-1zM-3 14l1 1-1 1-1-1zM4 15l1 1-1 1-1-1zM15 18l1 1-1 1-1-1zM15 22l1 1-1 1-1-1zM41 30l1 1-1 1-1-1zM13 38l1 1-1 1-1-1zM31 38l1 1-1 1-1-1zM22 39l1 1-1 1-1-1zM36 39l1 1-1 1-1-1zM10 41l1 1-1 1-1-1zM14 41l1 1-1 1-1-1zM45 44l1 1-1 1-1-1zM6 45l1 1-1 1-1-1zM18 47l1 1-1 1-1-1zM20 49l1 1-1 1-1-1zM44 53l1 1-1 1-1-1zM24 57l1 1-1 1-1-1zM28 57l1 1-1 1-1-1zM9 58l1 1-1 1-1-1zM23 58l1 1-1 1-1-1zM27 58l1 1-1 1-1-1zM24 59l1 1-1 1-1-1zM10 63l1 1-1 1-1-1zM14 63l1 1-1 1-1-1zM6 65l1 1-1 1-1-1zM23 66l1 1-1 1-1-1zM26 73l1 1-1 1-1-1z"/><path fill="#2e2e2e" d="M3 -6l1 1-1 1-1-1zM14 -5l1 1-1 1-1-1zM43 -4l1 1-1 1-1-1zM32 -3l1 1-1 1-1-1zM36 -3l1 1-1 1-1-1zM8 -1l1 1-1 1-1-1zM3 0l1 1-1 1-1-1zM37 0l1 1-1 1-1-1zM41 0l1 1-1 1-1-1zM16 1l1 1-1 1-1-1zM22 1l1 1-1 1-1-1zM17 2l1 1-1 1-1-1zM18 5l1 1-1 1-1-1zM30 5l1 1-1 1-1-1zM-2 7l1 1-1 1-1-1zM6 7l1 1-1 1-1-1zM12 9l1 1-1 1-1-1zM22 11l1 1-1 1-1-1zM24 11l1 1-1 1-1-1zM30 11l1 1-1 1-1-1zM32 15l1 1-1 1-1-1zM31 16l1 1-1 1-1-1zM44 17l1 1-1 1-1-1zM1 20l1 1-1 1-1-1zM41 24l1 1-1 1-1-1zM8 25l1 1-1 1-1-1zM22 25l1 1-1 1-1-1zM-3 26l1 1-1 1-1-1zM22 27l1 1-1 1-1-1zM42 27l1 1-1 1-1-1zM1 28l1 1-1 1-1-1zM23 32l1 1-1 1-1-1zM14 35l1 1-1 1-1-1zM24 37l1 1-1 1-1-1zM39 38l1 1-1 1-1-1zM-2 39l1 1-1 1-1-1zM17 40l1 1-1 1-1-1zM9 42l1 1-1 1-1-1zM2 43l1 1-1 1-1-1zM34 47l1 1-1 1-1-1zM-2 49l1 1-1 1-1-1zM37 52l1 1-1 1-1-1zM4 53l1 1-1 1-1-1zM4 59l1 1-1 1-1-1zM1 60l1 1-1 1-1-1zM12 61l1 1-1 1-1-1zM26 63l1 1-1 1-1-1zM22 67l1 1-1 1-1-1zM30 71l1 1-1 1-1-1zM42 71l1 1-1 1-1-1zM8 73l1 1-1 1-1-1z"/><path fill="#2f2f2f" d="M8 -3l1 1-1 1-1-1zM3 -2l1 1-1 1-1-1zM21 -2l1 1-1 1-1-1zM19 0l1 1-1 1-1-1zM46 3l1 1-1 1-1-1zM27 12l1 1-1 1-1-1zM10 13l1 1-1 1-1-1zM9 14l1 1-1 1-1-1zM25 14l1 1-1 1-1-1zM33 18l1 1-1 1-1-1zM45 22l1 1-1 1-1-1zM-2 23l1 1-1 1-1-1zM15 30l1 1-1 1-1-1zM21 32l1 1-1 1-1-1zM25 32l1 1-1 1-1-1zM28 33l1 1-1 1-1-1zM5 36l1 1-1 1-1-1zM20 39l1 1-1 1-1-1zM15 40l1 1-1 1-1-1zM39 40l1 1-1 1-1-1zM17 42l1 1-1 1-1-1zM17 48l1 1-1 1-1-1zM36 49l1 1-1 1-1-1zM-3 54l1 1-1 1-1-1zM27 54l1 1-1 1-1-1zM-1 58l1 1-1 1-1-1zM9 68l1 1-1 1-1-1zM10 69l1 1-1 1-1-1zM46 69l1 1-1 1-1-1zM-1 72l1 1-1 1-1-1zM15 74l1 1-1 1-1-1z"/><path fill="#303030" d="M0 -5l1 1-1 1-1-1zM7 -4l1 1-1 1-1-1zM9 -4l1 1-1 1-1-1zM11 -4l1 1-1 1-1-1zM34 -3l1 1-1 1-1-1zM-3 -2l1 1-1 1-1-1zM18 1l1 1-1 1-1-1zM21 2l1 1-1 1-1-1zM0 3l1 1-1 1-1-1zM19 4l1 1-1 1-1-1zM23 6l1 1-1 1-1-1zM16 9l1 1-1 1-1-1zM11 12l1 1-1 1-1-1zM-2 15l1 1-1 1-1-1zM12 15l1 1-1 1-1-1zM12 17l1 1-1 1-1-1zM35 20l1 1-1 1-1-1zM32 21l1 1-1 1-1-1zM36 21l1 1-1 1-1-1zM40 21l1 1-1 1-1-1zM25 22l1 1-1 1-1-1zM9 24l1 1-1 1-1-1zM10 31l1 1-1 1-1-1zM5 32l1 1-1 1-1-1zM27 32l1 1-1 1-1-1zM35 38l1 1-1 1-1-1zM4 41l1 1-1 1-1-1zM4 43l1 1-1 1-1-1zM-3 44l1 1-1 1-1-1zM31 44l1 1-1 1-1-1zM12 47l1 1-1 1-1-1zM38 47l1 1-1 1-1-1zM28 49l1 1-1 1-1-1zM30 51l1 1-1 1-1-1zM36 51l1 1-1 1-1-1zM6 53l1 1-1 1-1-1zM30 53l1 1-1 1-1-1zM20 55l1 1-1 1-1-1zM12 59l1 1-1 1-1-1zM30 59l1 1-1 1-1-1zM16 61l1 1-1 1-1-1zM40 65l1 1-1 1-1-1zM45 66l1 1-1 1-1-1zM4 69l1 1-1 1-1-1zM19 70l1 1-1 1-1-1zM29 72l1 1-1 1-1-1zM35 74l1 1-1 1-1-1z"/><path fill="#313131" d="M31 -8l1 1-1 1-1-1zM28 -7l1 1-1 1-1-1zM9 -6l1 1-1 1-1-1zM42 -5l1 1-1 1-1-1zM22 -3l1 1-1 1-1-1zM39 -2l1 1-1 1-1-1zM39 2l1 1-1 1-1-1zM8 3l1 1-1 1-1-1zM14 3l1 1-1 1-1-1zM38 3l1 1-1 1-1-1zM39 4l1 1-1 1-1-1zM22 7l1 1-1 1-1-1zM44 7l1 1-1 1-1-1zM43 8l1 1-1 1-1-1zM6 11l1 1-1 1-1-1zM30 13l1 1-1 1-1-1zM40 15l1 1-1 1-1-1zM5 16l1 1-1 1-1-1zM16 17l1 1-1 1-1-1zM40 17l1 1-1 1-1-1zM3 20l1 1-1 1-1-1zM33 22l1 1-1 1-1-1zM28 23l1 1-1 1-1-1zM40 23l1 1-1 1-1-1zM23 26l1 1-1 1-1-1zM27 26l1 1-1 1-1-1zM2 27l1 1-1 1-1-1zM14 27l1 1-1 1-1-1zM16 29l1 1-1 1-1-1zM40 31l1 1-1 1-1-1zM34 33l1 1-1 1-1-1zM9 34l1 1-1 1-1-1zM24 35l1 1-1 1-1-1zM41 38l1 1-1 1-1-1zM18 39l1 1-1 1-1-1zM28 39l1 1-1 1-1-1zM33 40l1 1-1 1-1-1zM21 42l1 1-1 1-1-1zM17 44l1 1-1 1-1-1zM24 45l1 1-1 1-1-1zM39 46l1 1-1 1-1-1zM34 49l1 1-1 1-1-1zM-2 53l1 1-1 1-1-1zM9 54l1 1-1 1-1-1zM10 55l1 1-1 1-1-1zM30 55l1 1-1 1-1-1zM42 55l1 1-1 1-1-1zM11 56l1 1-1 1-1-1zM27 56l1 1-1 1-1-1zM31 58l1 1-1 1-1-1zM-2 59l1 1-1 1-1-1zM19 60l1 1-1 1-1-1zM20 63l1 1-1 1-1-1zM31 66l1 1-1 1-1-1zM24 67l1 1-1 1-1-1zM13 70l1 1-1 1-1-1zM35 70l1 1-1 1-1-1zM45 70l1 1-1 1-1-1z"/><path fill="#323232" d="M1 -6l1 1-1 1-1-1zM17 -6l1 1-1 1-1-1zM18 -5l1 1-1 1-1-1zM38 -5l1 1-1 1-1-1zM39 -4l1 1-1 1-1-1zM14 -3l1 1-1 1-1-1zM30 1l1 1-1 1-1-1zM-3 2l1 1-1 1-1-1zM47 2l1 1-1 1-1-1zM26 3l1 1-1 1-1-1zM21 4l1 1-1 1-1-1zM47 4l1 1-1 1-1-1zM0 5l1 1-1 1-1-1zM12 5l1 1-1 1-1-1zM36 7l1 1-1 1-1-1zM7 8l1 1-1 1-1-1zM35 14l1 1-1 1-1-1zM37 14l1 1-1 1-1-1zM9 16l1 1-1 1-1-1zM34 17l1 1-1 1-1-1zM36 17l1 1-1 1-1-1zM-1 18l1 1-1 1-1-1zM45 18l1 1-1 1-1-1zM26 19l1 1-1 1-1-1zM36 19l1 1-1 1-1-1zM18 21l1 1-1 1-1-1zM30 21l1 1-1 1-1-1zM24 25l1 1-1 1-1-1zM18 29l1 1-1 1-1-1zM9 30l1 1-1 1-1-1zM12 33l1 1-1 1-1-1zM17 34l1 1-1 1-1-1zM17 36l1 1-1 1-1-1zM6 37l1 1-1 1-1-1zM46 37l1 1-1 1-1-1zM11 40l1 1-1 1-1-1zM12 41l1 1-1 1-1-1zM36 43l1 1-1 1-1-1zM32 47l1 1-1 1-1-1zM40 47l1 1-1 1-1-1zM27 50l1 1-1 1-1-1zM6 51l1 1-1 1-1-1zM26 51l1 1-1 1-1-1zM9 52l1 1-1 1-1-1zM25 52l1 1-1 1-1-1zM-1 54l1 1-1 1-1-1zM11 54l1 1-1 1-1-1zM16 57l1 1-1 1-1-1zM7 58l1 1-1 1-1-1zM26 59l1 1-1 1-1-1zM7 60l1 1-1 1-1-1zM4 61l1 1-1 1-1-1zM40 63l1 1-1 1-1-1zM39 64l1 1-1 1-1-1zM3 72l1 1-1 1-1-1zM17 72l1 1-1 1-1-1z"/><path fill="#333333" d="M13 -6l1 1-1 1-1-1zM-1 -4l1 1-1 1-1-1zM40 -3l1 1-1 1-1-1zM11 -2l1 1-1 1-1-1zM47 -2l1 1-1 1-1-1zM40 3l1 1-1 1-1-1zM35 6l1 1-1 1-1-1zM37 6l1 1-1 1-1-1zM14 7l1 1-1 1-1-1zM5 8l1 1-1 1-1-1zM35 8l1 1-1 1-1-1zM0 9l1 1-1 1-1-1zM27 10l1 1-1 1-1-1zM29 10l1 1-1 1-1-1zM43 12l1 1-1 1-1-1zM38 13l1 1-1 1-1-1zM17 18l1 1-1 1-1-1zM44 21l1 1-1 1-1-1zM35 22l1 1-1 1-1-1zM30 23l1 1-1 1-1-1zM3 24l1 1-1 1-1-1zM25 24l1 1-1 1-1-1zM31 26l1 1-1 1-1-1zM33 32l1 1-1 1-1-1zM41 34l1 1-1 1-1-1zM34 35l1 1-1 1-1-1zM19 38l1 1-1 1-1-1zM24 39l1 1-1 1-1-1zM41 40l1 1-1 1-1-1zM44 41l1 1-1 1-1-1zM15 42l1 1-1 1-1-1zM7 56l1 1-1 1-1-1zM31 56l1 1-1 1-1-1zM36 57l1 1-1 1-1-1zM1 58l1 1-1 1-1-1zM6 59l1 1-1 1-1-1zM16 65l1 1-1 1-1-1zM30 65l1 1-1 1-1-1zM11 66l1 1-1 1-1-1zM16 67l1 1-1 1-1-1zM33 68l1 1-1 1-1-1zM31 70l1 1-1 1-1-1zM4 73l1 1-1 1-1-1z"/><path fill="#343434" d="M45 -8l1 1-1 1-1-1zM-2 -7l1 1-1 1-1-1zM4 -7l1 1-1 1-1-1zM12 -7l1 1-1 1-1-1zM27 -6l1 1-1 1-1-1zM18 -3l1 1-1 1-1-1zM33 -2l1 1-1 1-1-1zM31 6l1 1-1 1-1-1zM45 6l1 1-1 1-1-1zM17 8l1 1-1 1-1-1zM40 9l1 1-1 1-1-1zM5 10l1 1-1 1-1-1zM-1 14l1 1-1 1-1-1zM1 14l1 1-1 1-1-1zM36 15l1 1-1 1-1-1zM3 16l1 1-1 1-1-1zM2 21l1 1-1 1-1-1zM16 23l1 1-1 1-1-1zM20 25l1 1-1 1-1-1zM34 27l1 1-1 1-1-1zM-3 30l1 1-1 1-1-1zM32 31l1 1-1 1-1-1zM11 32l1 1-1 1-1-1zM38 33l1 1-1 1-1-1zM9 36l1 1-1 1-1-1zM14 37l1 1-1 1-1-1zM27 38l1 1-1 1-1-1zM34 39l1 1-1 1-1-1zM9 40l1 1-1 1-1-1zM22 41l1 1-1 1-1-1zM34 41l1 1-1 1-1-1zM1 44l1 1-1 1-1-1zM4 47l1 1-1 1-1-1zM26 49l1 1-1 1-1-1zM17 50l1 1-1 1-1-1zM17 54l1 1-1 1-1-1zM29 54l1 1-1 1-1-1zM47 60l1 1-1 1-1-1zM42 61l1 1-1 1-1-1zM20 65l1 1-1 1-1-1zM6 67l1 1-1 1-1-1zM17 68l1 1-1 1-1-1zM12 69l1 1-1 1-1-1zM28 69l1 1-1 1-1-1zM1 70l1 1-1 1-1-1zM18 71l1 1-1 1-1-1zM-2 73l1 1-1 1-1-1z"/><path fill="#353535" d="M-3 -6l1 1-1 1-1-1zM35 -6l1 1-1 1-1-1zM23 0l1 1-1 1-1-1zM31 2l1 1-1 1-1-1zM17 4l1 1-1 1-1-1zM4 5l1 1-1 1-1-1zM46 5l1 1-1 1-1-1zM29 6l1 1-1 1-1-1zM39 8l1 1-1 1-1-1zM2 9l1 1-1 1-1-1zM28 13l1 1-1 1-1-1zM2 17l1 1-1 1-1-1zM9 18l1 1-1 1-1-1zM-1 20l1 1-1 1-1-1zM47 20l1 1-1 1-1-1zM41 22l1 1-1 1-1-1zM4 23l1 1-1 1-1-1zM5 30l1 1-1 1-1-1zM11 30l1 1-1 1-1-1zM25 30l1 1-1 1-1-1zM45 30l1 1-1 1-1-1zM42 31l1 1-1 1-1-1zM43 32l1 1-1 1-1-1zM26 37l1 1-1 1-1-1zM32 37l1 1-1 1-1-1zM23 38l1 1-1 1-1-1zM3 40l1 1-1 1-1-1zM46 43l1 1-1 1-1-1zM-1 50l1 1-1 1-1-1zM12 51l1 1-1 1-1-1zM22 51l1 1-1 1-1-1zM5 52l1 1-1 1-1-1zM25 56l1 1-1 1-1-1zM39 58l1 1-1 1-1-1zM0 61l1 1-1 1-1-1zM6 61l1 1-1 1-1-1zM12 63l1 1-1 1-1-1zM26 67l1 1-1 1-1-1zM29 70l1 1-1 1-1-1zM21 72l1 1-1 1-1-1z"/><path fill="#363636" d="M29 -8l1 1-1 1-1-1zM43 -6l1 1-1 1-1-1zM3 -4l1 1-1 1-1-1zM27 0l1 1-1 1-1-1zM47 0l1 1-1 1-1-1zM29 2l1 1-1 1-1-1zM3 4l1 1-1 1-1-1zM3 6l1 1-1 1-1-1zM-1 10l1 1-1 1-1-1zM5 14l1 1-1 1-1-1zM27 14l1 1-1 1-1-1zM26 15l1 1-1 1-1-1zM10 21l1 1-1 1-1-1zM5 22l1 1-1 1-1-1zM36 23l1 1-1 1-1-1zM4 25l1 1-1 1-1-1zM-1 28l1 1-1 1-1-1zM30 29l1 1-1 1-1-1zM44 33l1 1-1 1-1-1zM31 34l1 1-1 1-1-1zM8 37l1 1-1 1-1-1zM18 41l1 1-1 1-1-1zM29 44l1 1-1 1-1-1zM47 46l1 1-1 1-1-1zM34 53l1 1-1 1-1-1zM45 54l1 1-1 1-1-1zM8 55l1 1-1 1-1-1zM18 55l1 1-1 1-1-1zM28 55l1 1-1 1-1-1zM9 60l1 1-1 1-1-1zM-2 61l1 1-1 1-1-1zM20 61l1 1-1 1-1-1zM22 61l1 1-1 1-1-1zM29 62l1 1-1 1-1-1zM35 62l1 1-1 1-1-1zM16 63l1 1-1 1-1-1zM0 65l1 1-1 1-1-1zM19 66l1 1-1 1-1-1zM8 69l1 1-1 1-1-1zM16 71l1 1-1 1-1-1zM7 72l1 1-1 1-1-1zM5 74l1 1-1 1-1-1z"/><path fill="#373737" d="M32 -7l1 1-1 1-1-1zM-1 -6l1 1-1 1-1-1zM19 -6l1 1-1 1-1-1zM39 -6l1 1-1 1-1-1zM-2 -5l1 1-1 1-1-1zM29 -4l1 1-1 1-1-1zM38 -3l1 1-1 1-1-1zM37 -2l1 1-1 1-1-1zM12 -1l1 1-1 1-1-1zM15 2l1 1-1 1-1-1zM6 3l1 1-1 1-1-1zM11 4l1 1-1 1-1-1zM15 4l1 1-1 1-1-1zM27 4l1 1-1 1-1-1zM-2 5l1 1-1 1-1-1zM30 9l1 1-1 1-1-1zM0 11l1 1-1 1-1-1zM-1 12l1 1-1 1-1-1zM13 16l1 1-1 1-1-1zM38 17l1 1-1 1-1-1zM28 19l1 1-1 1-1-1zM23 22l1 1-1 1-1-1zM11 24l1 1-1 1-1-1zM29 24l1 1-1 1-1-1zM31 24l1 1-1 1-1-1zM45 24l1 1-1 1-1-1zM17 28l1 1-1 1-1-1zM3 32l1 1-1 1-1-1zM41 32l1 1-1 1-1-1zM4 35l1 1-1 1-1-1zM12 39l1 1-1 1-1-1zM37 40l1 1-1 1-1-1zM-2 41l1 1-1 1-1-1zM20 41l1 1-1 1-1-1zM17 46l1 1-1 1-1-1zM26 47l1 1-1 1-1-1zM17 52l1 1-1 1-1-1zM23 52l1 1-1 1-1-1zM12 53l1 1-1 1-1-1zM16 53l1 1-1 1-1-1zM26 55l1 1-1 1-1-1zM25 60l1 1-1 1-1-1zM36 61l1 1-1 1-1-1zM23 62l1 1-1 1-1-1zM8 63l1 1-1 1-1-1zM25 66l1 1-1 1-1-1z"/><path fill="#383838" d="M34 -7l1 1-1 1-1-1zM44 -7l1 1-1 1-1-1zM1 0l1 1-1 1-1-1zM-2 3l1 1-1 1-1-1zM43 6l1 1-1 1-1-1zM14 9l1 1-1 1-1-1zM44 9l1 1-1 1-1-1zM40 11l1 1-1 1-1-1zM6 13l1 1-1 1-1-1zM13 14l1 1-1 1-1-1zM43 18l1 1-1 1-1-1zM37 26l1 1-1 1-1-1zM36 27l1 1-1 1-1-1zM5 28l1 1-1 1-1-1zM27 30l1 1-1 1-1-1zM6 33l1 1-1 1-1-1zM33 34l1 1-1 1-1-1zM7 36l1 1-1 1-1-1zM30 37l1 1-1 1-1-1zM0 39l1 1-1 1-1-1zM8 39l1 1-1 1-1-1zM44 39l1 1-1 1-1-1zM1 40l1 1-1 1-1-1zM2 41l1 1-1 1-1-1zM30 43l1 1-1 1-1-1zM15 44l1 1-1 1-1-1zM43 44l1 1-1 1-1-1zM33 46l1 1-1 1-1-1zM30 49l1 1-1 1-1-1zM29 50l1 1-1 1-1-1zM-3 56l1 1-1 1-1-1zM41 56l1 1-1 1-1-1zM-3 58l1 1-1 1-1-1zM47 58l1 1-1 1-1-1zM2 59l1 1-1 1-1-1zM7 62l1 1-1 1-1-1zM21 62l1 1-1 1-1-1zM13 64l1 1-1 1-1-1zM27 66l1 1-1 1-1-1zM40 67l1 1-1 1-1-1zM13 68l1 1-1 1-1-1zM22 73l1 1-1 1-1-1zM28 73l1 1-1 1-1-1z"/><path fill="#393939" d="M-3 -8l1 1-1 1-1-1zM37 -8l1 1-1 1-1-1zM22 -5l1 1-1 1-1-1zM26 -5l1 1-1 1-1-1zM2 -3l1 1-1 1-1-1zM45 -2l1 1-1 1-1-1zM9 0l1 1-1 1-1-1zM17 0l1 1-1 1-1-1zM2 1l1 1-1 1-1-1zM46 1l1 1-1 1-1-1zM9 2l1 1-1 1-1-1zM37 2l1 1-1 1-1-1zM44 3l1 1-1 1-1-1zM1 4l1 1-1 1-1-1zM33 4l1 1-1 1-1-1zM26 5l1 1-1 1-1-1zM28 5l1 1-1 1-1-1zM12 7l1 1-1 1-1-1zM25 10l1 1-1 1-1-1zM2 11l1 1-1 1-1-1zM23 18l1 1-1 1-1-1zM16 19l1 1-1 1-1-1zM-2 21l1 1-1 1-1-1zM6 21l1 1-1 1-1-1zM9 26l1 1-1 1-1-1zM25 26l1 1-1 1-1-1zM41 26l1 1-1 1-1-1zM3 28l1 1-1 1-1-1zM9 28l1 1-1 1-1-1zM33 28l1 1-1 1-1-1zM26 31l1 1-1 1-1-1zM-2 33l1 1-1 1-1-1zM22 33l1 1-1 1-1-1zM13 40l1 1-1 1-1-1zM18 43l1 1-1 1-1-1zM35 44l1 1-1 1-1-1zM40 45l1 1-1 1-1-1zM15 48l1 1-1 1-1-1zM3 50l1 1-1 1-1-1zM8 51l1 1-1 1-1-1zM14 51l1 1-1 1-1-1zM3 52l1 1-1 1-1-1zM26 53l1 1-1 1-1-1zM32 53l1 1-1 1-1-1zM25 58l1 1-1 1-1-1zM11 60l1 1-1 1-1-1zM2 61l1 1-1 1-1-1zM9 62l1 1-1 1-1-1zM2 65l1 1-1 1-1-1zM21 70l1 1-1 1-1-1zM16 73l1 1-1 1-1-1zM7 74l1 1-1 1-1-1zM27 74l1 1-1 1-1-1z"/><path fill="#3a3a3a" d="M26 -7l1 1-1 1-1-1zM27 -2l1 1-1 1-1-1zM10 -1l1 1-1 1-1-1zM43 0l1 1-1 1-1-1zM36 1l1 1-1 1-1-1zM1 2l1 1-1 1-1-1zM4 7l1 1-1 1-1-1zM36 9l1 1-1 1-1-1zM13 12l1 1-1 1-1-1zM12 13l1 1-1 1-1-1zM34 13l1 1-1 1-1-1zM47 16l1 1-1 1-1-1zM24 17l1 1-1 1-1-1zM7 18l1 1-1 1-1-1zM11 18l1 1-1 1-1-1zM47 18l1 1-1 1-1-1zM4 19l1 1-1 1-1-1zM24 19l1 1-1 1-1-1zM43 20l1 1-1 1-1-1zM47 22l1 1-1 1-1-1zM46 23l1 1-1 1-1-1zM29 26l1 1-1 1-1-1zM11 28l1 1-1 1-1-1zM25 28l1 1-1 1-1-1zM22 31l1 1-1 1-1-1zM47 34l1 1-1 1-1-1zM-3 40l1 1-1 1-1-1zM23 40l1 1-1 1-1-1zM31 40l1 1-1 1-1-1zM7 44l1 1-1 1-1-1zM19 44l1 1-1 1-1-1zM22 45l1 1-1 1-1-1zM19 46l1 1-1 1-1-1zM28 47l1 1-1 1-1-1zM3 48l1 1-1 1-1-1zM33 48l1 1-1 1-1-1zM0 51l1 1-1 1-1-1zM28 53l1 1-1 1-1-1zM30 57l1 1-1 1-1-1zM40 61l1 1-1 1-1-1zM17 64l1 1-1 1-1-1zM47 68l1 1-1 1-1-1zM6 69l1 1-1 1-1-1zM36 69l1 1-1 1-1-1zM42 69l1 1-1 1-1-1zM21 74l1 1-1 1-1-1z"/><path fill="#3b3b3b" d="M36 -7l1 1-1 1-1-1zM28 -5l1 1-1 1-1-1zM40 -5l1 1-1 1-1-1zM40 -1l1 1-1 1-1-1zM-1 2l1 1-1 1-1-1zM5 2l1 1-1 1-1-1zM45 4l1 1-1 1-1-1zM0 7l1 1-1 1-1-1zM10 9l1 1-1 1-1-1zM12 11l1 1-1 1-1-1zM23 12l1 1-1 1-1-1zM22 13l1 1-1 1-1-1zM44 13l1 1-1 1-1-1zM33 16l1 1-1 1-1-1zM41 16l1 1-1 1-1-1zM3 18l1 1-1 1-1-1zM7 20l1 1-1 1-1-1zM8 27l1 1-1 1-1-1zM6 29l1 1-1 1-1-1zM12 31l1 1-1 1-1-1zM39 36l1 1-1 1-1-1zM34 37l1 1-1 1-1-1zM11 38l1 1-1 1-1-1zM39 42l1 1-1 1-1-1zM38 43l1 1-1 1-1-1zM33 44l1 1-1 1-1-1zM18 45l1 1-1 1-1-1zM42 45l1 1-1 1-1-1zM22 49l1 1-1 1-1-1zM5 50l1 1-1 1-1-1zM23 50l1 1-1 1-1-1zM33 50l1 1-1 1-1-1zM4 51l1 1-1 1-1-1zM43 52l1 1-1 1-1-1zM0 53l1 1-1 1-1-1zM40 53l1 1-1 1-1-1zM3 54l1 1-1 1-1-1zM27 60l1 1-1 1-1-1zM17 66l1 1-1 1-1-1zM29 66l1 1-1 1-1-1zM28 67l1 1-1 1-1-1zM15 68l1 1-1 1-1-1zM40 69l1 1-1 1-1-1zM44 73l1 1-1 1-1-1z"/><path fill="#3c3c3c" d="M21 -8l1 1-1 1-1-1zM43 -8l1 1-1 1-1-1zM18 -7l1 1-1 1-1-1zM11 -6l1 1-1 1-1-1zM16 -5l1 1-1 1-1-1zM45 0l1 1-1 1-1-1zM32 1l1 1-1 1-1-1zM16 7l1 1-1 1-1-1zM38 7l1 1-1 1-1-1zM32 9l1 1-1 1-1-1zM16 13l1 1-1 1-1-1zM44 15l1 1-1 1-1-1zM11 16l1 1-1 1-1-1zM25 16l1 1-1 1-1-1zM39 16l1 1-1 1-1-1zM32 17l1 1-1 1-1-1zM8 21l1 1-1 1-1-1zM16 21l1 1-1 1-1-1zM0 23l1 1-1 1-1-1zM-3 24l1 1-1 1-1-1zM7 28l1 1-1 1-1-1zM24 29l1 1-1 1-1-1zM13 30l1 1-1 1-1-1zM39 34l1 1-1 1-1-1zM37 38l1 1-1 1-1-1zM38 39l1 1-1 1-1-1zM7 40l1 1-1 1-1-1zM11 46l1 1-1 1-1-1zM37 50l1 1-1 1-1-1zM-3 52l1 1-1 1-1-1zM39 52l1 1-1 1-1-1zM35 56l1 1-1 1-1-1zM45 60l1 1-1 1-1-1zM28 61l1 1-1 1-1-1zM5 62l1 1-1 1-1-1zM26 65l1 1-1 1-1-1zM21 66l1 1-1 1-1-1zM2 67l1 1-1 1-1-1zM36 67l1 1-1 1-1-1zM21 68l1 1-1 1-1-1zM-3 70l1 1-1 1-1-1zM20 71l1 1-1 1-1-1z"/><path fill="#3d3d3d" d="M1 -8l1 1-1 1-1-1zM31 0l1 1-1 1-1-1zM9 4l1 1-1 1-1-1zM36 5l1 1-1 1-1-1zM42 5l1 1-1 1-1-1zM45 8l1 1-1 1-1-1zM26 9l1 1-1 1-1-1zM27 16l1 1-1 1-1-1zM-3 18l1 1-1 1-1-1zM46 19l1 1-1 1-1-1zM0 21l1 1-1 1-1-1zM4 21l1 1-1 1-1-1zM32 23l1 1-1 1-1-1zM38 29l1 1-1 1-1-1zM23 30l1 1-1 1-1-1zM-3 32l1 1-1 1-1-1zM1 32l1 1-1 1-1-1zM15 34l1 1-1 1-1-1zM6 35l1 1-1 1-1-1zM46 35l1 1-1 1-1-1zM-1 38l1 1-1 1-1-1zM46 39l1 1-1 1-1-1zM1 46l1 1-1 1-1-1zM37 48l1 1-1 1-1-1zM8 49l1 1-1 1-1-1zM2 51l1 1-1 1-1-1zM35 52l1 1-1 1-1-1zM34 55l1 1-1 1-1-1zM44 55l1 1-1 1-1-1zM24 61l1 1-1 1-1-1zM28 63l1 1-1 1-1-1zM30 63l1 1-1 1-1-1zM38 63l1 1-1 1-1-1zM42 65l1 1-1 1-1-1zM47 66l1 1-1 1-1-1zM9 70l1 1-1 1-1-1zM39 70l1 1-1 1-1-1zM11 72l1 1-1 1-1-1zM31 72l1 1-1 1-1-1zM45 74l1 1-1 1-1-1z"/><path fill="#3e3e3e" d="M5 -6l1 1-1 1-1-1zM44 -5l1 1-1 1-1-1zM7 -2l1 1-1 1-1-1zM45 2l1 1-1 1-1-1zM47 6l1 1-1 1-1-1zM46 7l1 1-1 1-1-1zM37 8l1 1-1 1-1-1zM41 8l1 1-1 1-1-1zM-2 9l1 1-1 1-1-1zM8 11l1 1-1 1-1-1zM33 12l1 1-1 1-1-1zM45 14l1 1-1 1-1-1zM43 16l1 1-1 1-1-1zM6 17l1 1-1 1-1-1zM40 19l1 1-1 1-1-1zM6 27l1 1-1 1-1-1zM18 27l1 1-1 1-1-1zM13 28l1 1-1 1-1-1zM1 30l1 1-1 1-1-1zM34 31l1 1-1 1-1-1zM-1 32l1 1-1 1-1-1zM45 38l1 1-1 1-1-1zM47 38l1 1-1 1-1-1zM6 41l1 1-1 1-1-1zM32 41l1 1-1 1-1-1zM38 41l1 1-1 1-1-1zM-1 42l1 1-1 1-1-1zM31 42l1 1-1 1-1-1zM5 44l1 1-1 1-1-1zM16 45l1 1-1 1-1-1zM30 47l1 1-1 1-1-1zM29 56l1 1-1 1-1-1zM45 56l1 1-1 1-1-1zM45 62l1 1-1 1-1-1zM29 64l1 1-1 1-1-1zM17 70l1 1-1 1-1-1z"/><path fill="#3f3f3f" d="M13 -4l1 1-1 1-1-1zM43 -2l1 1-1 1-1-1zM6 1l1 1-1 1-1-1zM12 1l1 1-1 1-1-1zM2 3l1 1-1 1-1-1zM43 4l1 1-1 1-1-1zM33 8l1 1-1 1-1-1zM4 11l1 1-1 1-1-1zM5 12l1 1-1 1-1-1zM4 13l1 1-1 1-1-1zM5 24l1 1-1 1-1-1zM26 25l1 1-1 1-1-1zM5 26l1 1-1 1-1-1zM2 29l1 1-1 1-1-1zM10 29l1 1-1 1-1-1zM4 33l1 1-1 1-1-1zM30 33l1 1-1 1-1-1zM46 33l1 1-1 1-1-1zM28 41l1 1-1 1-1-1zM3 44l1 1-1 1-1-1zM45 46l1 1-1 1-1-1zM5 48l1 1-1 1-1-1zM46 49l1 1-1 1-1-1zM7 52l1 1-1 1-1-1zM4 57l1 1-1 1-1-1zM-3 60l1 1-1 1-1-1zM32 61l1 1-1 1-1-1zM34 61l1 1-1 1-1-1zM33 62l1 1-1 1-1-1zM5 66l1 1-1 1-1-1zM-1 68l1 1-1 1-1-1zM3 68l1 1-1 1-1-1zM44 69l1 1-1 1-1-1zM43 70l1 1-1 1-1-1zM37 72l1 1-1 1-1-1zM-3 74l1 1-1 1-1-1z"/><path fill="#404040" d="M10 -7l1 1-1 1-1-1zM12 -5l1 1-1 1-1-1zM28 -3l1 1-1 1-1-1zM30 -3l1 1-1 1-1-1zM9 -2l1 1-1 1-1-1zM4 1l1 1-1 1-1-1zM40 1l1 1-1 1-1-1zM21 6l1 1-1 1-1-1zM47 8l1 1-1 1-1-1zM6 9l1 1-1 1-1-1zM35 12l1 1-1 1-1-1zM0 13l1 1-1 1-1-1zM26 13l1 1-1 1-1-1zM36 13l1 1-1 1-1-1zM38 15l1 1-1 1-1-1zM1 16l1 1-1 1-1-1zM32 19l1 1-1 1-1-1zM33 20l1 1-1 1-1-1zM10 27l1 1-1 1-1-1zM38 27l1 1-1 1-1-1zM47 28l1 1-1 1-1-1zM31 30l1 1-1 1-1-1zM4 31l1 1-1 1-1-1zM13 34l1 1-1 1-1-1zM35 34l1 1-1 1-1-1zM28 37l1 1-1 1-1-1zM7 38l1 1-1 1-1-1zM0 41l1 1-1 1-1-1zM30 41l1 1-1 1-1-1zM28 45l1 1-1 1-1-1zM2 47l1 1-1 1-1-1zM14 49l1 1-1 1-1-1zM32 49l1 1-1 1-1-1zM6 55l1 1-1 1-1-1zM40 55l1 1-1 1-1-1zM47 56l1 1-1 1-1-1zM37 60l1 1-1 1-1-1zM27 62l1 1-1 1-1-1zM-1 64l1 1-1 1-1-1zM34 65l1 1-1 1-1-1zM43 66l1 1-1 1-1-1zM8 67l1 1-1 1-1-1zM27 70l1 1-1 1-1-1zM33 70l1 1-1 1-1-1zM5 72l1 1-1 1-1-1z"/><path fill="#414141" d="M11 -8l1 1-1 1-1-1zM41 -8l1 1-1 1-1-1zM47 -6l1 1-1 1-1-1zM17 -4l1 1-1 1-1-1zM6 -1l1 1-1 1-1-1zM2 5l1 1-1 1-1-1zM40 7l1 1-1 1-1-1zM47 10l1 1-1 1-1-1zM-2 11l1 1-1 1-1-1zM0 15l1 1-1 1-1-1zM-3 20l1 1-1 1-1-1zM34 21l1 1-1 1-1-1zM1 22l1 1-1 1-1-1zM42 25l1 1-1 1-1-1zM1 26l1 1-1 1-1-1zM42 29l1 1-1 1-1-1zM30 35l1 1-1 1-1-1zM0 37l1 1-1 1-1-1zM-3 38l1 1-1 1-1-1zM3 38l1 1-1 1-1-1zM5 38l1 1-1 1-1-1zM4 39l1 1-1 1-1-1zM25 46l1 1-1 1-1-1zM35 46l1 1-1 1-1-1zM41 46l1 1-1 1-1-1zM11 52l1 1-1 1-1-1zM1 54l1 1-1 1-1-1zM0 55l1 1-1 1-1-1zM17 56l1 1-1 1-1-1zM34 57l1 1-1 1-1-1zM11 62l1 1-1 1-1-1zM46 63l1 1-1 1-1-1zM47 64l1 1-1 1-1-1zM22 65l1 1-1 1-1-1zM44 65l1 1-1 1-1-1zM20 73l1 1-1 1-1-1zM37 74l1 1-1 1-1-1z"/><path fill="#424242" d="M5 -8l1 1-1 1-1-1zM47 -8l1 1-1 1-1-1zM37 -6l1 1-1 1-1-1zM21 -4l1 1-1 1-1-1zM10 -3l1 1-1 1-1-1zM36 -1l1 1-1 1-1-1zM42 -1l1 1-1 1-1-1zM42 1l1 1-1 1-1-1zM43 2l1 1-1 1-1-1zM29 4l1 1-1 1-1-1zM37 10l1 1-1 1-1-1zM39 12l1 1-1 1-1-1zM45 12l1 1-1 1-1-1zM33 14l1 1-1 1-1-1zM46 17l1 1-1 1-1-1zM43 22l1 1-1 1-1-1zM33 24l1 1-1 1-1-1zM39 24l1 1-1 1-1-1zM43 24l1 1-1 1-1-1zM29 28l1 1-1 1-1-1zM12 29l1 1-1 1-1-1zM33 30l1 1-1 1-1-1zM43 36l1 1-1 1-1-1zM40 37l1 1-1 1-1-1zM-1 44l1 1-1 1-1-1zM46 45l1 1-1 1-1-1zM29 46l1 1-1 1-1-1zM42 47l1 1-1 1-1-1zM46 47l1 1-1 1-1-1zM1 48l1 1-1 1-1-1zM42 51l1 1-1 1-1-1zM10 53l1 1-1 1-1-1zM31 54l1 1-1 1-1-1zM8 57l1 1-1 1-1-1zM40 57l1 1-1 1-1-1zM17 60l1 1-1 1-1-1zM30 61l1 1-1 1-1-1zM-2 63l1 1-1 1-1-1zM34 63l1 1-1 1-1-1zM36 63l1 1-1 1-1-1zM-2 65l1 1-1 1-1-1zM32 65l1 1-1 1-1-1zM32 69l1 1-1 1-1-1zM41 70l1 1-1 1-1-1zM27 72l1 1-1 1-1-1zM45 72l1 1-1 1-1-1zM31 74l1 1-1 1-1-1z"/><path fill="#434343" d="M2 -5l1 1-1 1-1-1zM1 -4l1 1-1 1-1-1zM4 -3l1 1-1 1-1-1zM19 2l1 1-1 1-1-1zM28 3l1 1-1 1-1-1zM39 6l1 1-1 1-1-1zM41 10l1 1-1 1-1-1zM8 13l1 1-1 1-1-1zM46 13l1 1-1 1-1-1zM38 23l1 1-1 1-1-1zM-1 24l1 1-1 1-1-1zM23 24l1 1-1 1-1-1zM37 24l1 1-1 1-1-1zM43 30l1 1-1 1-1-1zM47 30l1 1-1 1-1-1zM30 31l1 1-1 1-1-1zM5 34l1 1-1 1-1-1zM0 35l1 1-1 1-1-1zM15 36l1 1-1 1-1-1zM6 39l1 1-1 1-1-1zM10 39l1 1-1 1-1-1zM47 40l1 1-1 1-1-1zM32 45l1 1-1 1-1-1zM-2 47l1 1-1 1-1-1zM-2 51l1 1-1 1-1-1zM1 52l1 1-1 1-1-1zM43 56l1 1-1 1-1-1zM41 60l1 1-1 1-1-1zM-1 62l1 1-1 1-1-1zM22 63l1 1-1 1-1-1zM9 64l1 1-1 1-1-1zM21 64l1 1-1 1-1-1zM3 66l1 1-1 1-1-1zM39 66l1 1-1 1-1-1zM34 67l1 1-1 1-1-1zM38 69l1 1-1 1-1-1zM4 71l1 1-1 1-1-1zM6 73l1 1-1 1-1-1z"/><path fill="#444444" d="M17 -8l1 1-1 1-1-1zM2 -7l1 1-1 1-1-1zM-3 -4l1 1-1 1-1-1zM8 1l1 1-1 1-1-1zM4 3l1 1-1 1-1-1zM30 3l1 1-1 1-1-1zM13 4l1 1-1 1-1-1zM20 5l1 1-1 1-1-1zM25 6l1 1-1 1-1-1zM34 9l1 1-1 1-1-1zM1 10l1 1-1 1-1-1zM7 10l1 1-1 1-1-1zM47 14l1 1-1 1-1-1zM35 16l1 1-1 1-1-1zM8 17l1 1-1 1-1-1zM2 19l1 1-1 1-1-1zM31 20l1 1-1 1-1-1zM7 24l1 1-1 1-1-1zM-2 31l1 1-1 1-1-1zM44 31l1 1-1 1-1-1zM39 32l1 1-1 1-1-1zM7 34l1 1-1 1-1-1zM38 37l1 1-1 1-1-1zM42 41l1 1-1 1-1-1zM41 42l1 1-1 1-1-1zM44 45l1 1-1 1-1-1zM7 46l1 1-1 1-1-1zM-1 48l1 1-1 1-1-1zM46 51l1 1-1 1-1-1zM8 53l1 1-1 1-1-1zM0 57l1 1-1 1-1-1zM46 57l1 1-1 1-1-1zM18 61l1 1-1 1-1-1zM44 61l1 1-1 1-1-1zM39 62l1 1-1 1-1-1zM47 62l1 1-1 1-1-1zM1 64l1 1-1 1-1-1zM7 66l1 1-1 1-1-1zM31 68l1 1-1 1-1-1zM5 70l1 1-1 1-1-1zM0 71l1 1-1 1-1-1zM36 73l1 1-1 1-1-1z"/><path fill="#454545" d="M46 -5l1 1-1 1-1-1zM-2 -3l1 1-1 1-1-1zM42 -3l1 1-1 1-1-1zM-1 -2l1 1-1 1-1-1zM3 2l1 1-1 1-1-1zM18 3l1 1-1 1-1-1zM7 4l1 1-1 1-1-1zM37 4l1 1-1 1-1-1zM-1 6l1 1-1 1-1-1zM41 6l1 1-1 1-1-1zM1 8l1 1-1 1-1-1zM2 15l1 1-1 1-1-1zM8 15l1 1-1 1-1-1zM42 15l1 1-1 1-1-1zM0 19l1 1-1 1-1-1zM19 20l1 1-1 1-1-1zM41 20l1 1-1 1-1-1zM2 23l1 1-1 1-1-1zM6 23l1 1-1 1-1-1zM44 23l1 1-1 1-1-1zM34 25l1 1-1 1-1-1zM-1 26l1 1-1 1-1-1zM39 26l1 1-1 1-1-1zM4 27l1 1-1 1-1-1zM44 27l1 1-1 1-1-1zM-3 28l1 1-1 1-1-1zM0 29l1 1-1 1-1-1zM3 30l1 1-1 1-1-1zM0 31l1 1-1 1-1-1zM7 32l1 1-1 1-1-1zM15 32l1 1-1 1-1-1zM45 32l1 1-1 1-1-1zM40 33l1 1-1 1-1-1zM-3 34l1 1-1 1-1-1zM-1 34l1 1-1 1-1-1zM1 34l1 1-1 1-1-1zM37 34l1 1-1 1-1-1zM-2 35l1 1-1 1-1-1zM2 35l1 1-1 1-1-1zM12 35l1 1-1 1-1-1zM-1 36l1 1-1 1-1-1zM40 39l1 1-1 1-1-1zM0 43l1 1-1 1-1-1zM6 43l1 1-1 1-1-1zM27 44l1 1-1 1-1-1zM37 44l1 1-1 1-1-1zM0 45l1 1-1 1-1-1zM6 49l1 1-1 1-1-1zM42 49l1 1-1 1-1-1zM31 50l1 1-1 1-1-1zM27 52l1 1-1 1-1-1zM2 55l1 1-1 1-1-1zM9 56l1 1-1 1-1-1zM5 58l1 1-1 1-1-1zM37 58l1 1-1 1-1-1zM38 59l1 1-1 1-1-1zM42 59l1 1-1 1-1-1zM31 62l1 1-1 1-1-1zM42 63l1 1-1 1-1-1zM7 64l1 1-1 1-1-1zM36 65l1 1-1 1-1-1zM38 65l1 1-1 1-1-1zM10 67l1 1-1 1-1-1zM32 67l1 1-1 1-1-1zM29 68l1 1-1 1-1-1zM22 69l1 1-1 1-1-1zM-2 71l1 1-1 1-1-1zM22 71l1 1-1 1-1-1zM26 71l1 1-1 1-1-1zM34 71l1 1-1 1-1-1zM25 72l1 1-1 1-1-1z"/><path fill="#464646" d="M14 -7l1 1-1 1-1-1zM12 -3l1 1-1 1-1-1zM26 -3l1 1-1 1-1-1zM44 -1l1 1-1 1-1-1zM-1 0l1 1-1 1-1-1zM-2 1l1 1-1 1-1-1zM7 2l1 1-1 1-1-1zM13 2l1 1-1 1-1-1zM27 2l1 1-1 1-1-1zM36 3l1 1-1 1-1-1zM35 4l1 1-1 1-1-1zM8 5l1 1-1 1-1-1zM-3 6l1 1-1 1-1-1zM26 7l1 1-1 1-1-1zM-1 8l1 1-1 1-1-1zM11 8l1 1-1 1-1-1zM4 9l1 1-1 1-1-1zM8 9l1 1-1 1-1-1zM42 9l1 1-1 1-1-1zM-3 10l1 1-1 1-1-1zM39 10l1 1-1 1-1-1zM44 11l1 1-1 1-1-1zM6 19l1 1-1 1-1-1zM8 19l1 1-1 1-1-1zM39 22l1 1-1 1-1-1zM34 23l1 1-1 1-1-1zM1 24l1 1-1 1-1-1zM38 25l1 1-1 1-1-1zM40 25l1 1-1 1-1-1zM7 26l1 1-1 1-1-1zM23 28l1 1-1 1-1-1zM8 29l1 1-1 1-1-1zM40 29l1 1-1 1-1-1zM29 30l1 1-1 1-1-1zM6 31l1 1-1 1-1-1zM8 31l1 1-1 1-1-1zM36 31l1 1-1 1-1-1zM31 32l1 1-1 1-1-1zM35 32l1 1-1 1-1-1zM10 35l1 1-1 1-1-1zM36 35l1 1-1 1-1-1zM38 35l1 1-1 1-1-1zM42 35l1 1-1 1-1-1zM1 36l1 1-1 1-1-1zM44 37l1 1-1 1-1-1zM25 38l1 1-1 1-1-1zM2 39l1 1-1 1-1-1zM-1 40l1 1-1 1-1-1zM19 42l1 1-1 1-1-1zM47 42l1 1-1 1-1-1zM-2 43l1 1-1 1-1-1zM28 43l1 1-1 1-1-1zM2 45l1 1-1 1-1-1zM-1 46l1 1-1 1-1-1zM13 46l1 1-1 1-1-1zM0 47l1 1-1 1-1-1zM36 47l1 1-1 1-1-1zM44 47l1 1-1 1-1-1zM29 48l1 1-1 1-1-1zM39 48l1 1-1 1-1-1zM0 49l1 1-1 1-1-1zM16 49l1 1-1 1-1-1zM39 50l1 1-1 1-1-1zM32 51l1 1-1 1-1-1zM40 51l1 1-1 1-1-1zM45 52l1 1-1 1-1-1zM47 52l1 1-1 1-1-1zM42 53l1 1-1 1-1-1zM37 54l1 1-1 1-1-1zM4 55l1 1-1 1-1-1zM39 56l1 1-1 1-1-1zM2 57l1 1-1 1-1-1zM19 58l1 1-1 1-1-1zM33 58l1 1-1 1-1-1zM45 58l1 1-1 1-1-1zM34 59l1 1-1 1-1-1zM26 61l1 1-1 1-1-1zM3 64l1 1-1 1-1-1zM41 64l1 1-1 1-1-1zM37 66l1 1-1 1-1-1zM42 67l1 1-1 1-1-1zM-3 68l1 1-1 1-1-1zM5 68l1 1-1 1-1-1zM7 68l1 1-1 1-1-1zM14 69l1 1-1 1-1-1zM-1 70l1 1-1 1-1-1zM6 71l1 1-1 1-1-1zM40 71l1 1-1 1-1-1zM41 72l1 1-1 1-1-1zM11 74l1 1-1 1-1-1zM43 74l1 1-1 1-1-1z"/><path fill="#474747" d="M3 -8l1 1-1 1-1-1zM38 -7l1 1-1 1-1-1zM35 -2l1 1-1 1-1-1zM0 -1l1 1-1 1-1-1zM2 -1l1 1-1 1-1-1zM46 -1l1 1-1 1-1-1zM12 3l1 1-1 1-1-1zM-1 4l1 1-1 1-1-1zM41 4l1 1-1 1-1-1zM44 5l1 1-1 1-1-1zM8 7l1 1-1 1-1-1zM35 10l1 1-1 1-1-1zM36 11l1 1-1 1-1-1zM-3 12l1 1-1 1-1-1zM47 12l1 1-1 1-1-1zM42 13l1 1-1 1-1-1zM3 14l1 1-1 1-1-1zM7 16l1 1-1 1-1-1zM35 18l1 1-1 1-1-1zM20 21l1 1-1 1-1-1zM3 22l1 1-1 1-1-1zM36 25l1 1-1 1-1-1zM44 25l1 1-1 1-1-1zM47 26l1 1-1 1-1-1zM37 28l1 1-1 1-1-1zM14 29l1 1-1 1-1-1zM44 29l1 1-1 1-1-1zM-1 30l1 1-1 1-1-1zM0 33l1 1-1 1-1-1zM43 34l1 1-1 1-1-1zM45 34l1 1-1 1-1-1zM25 40l1 1-1 1-1-1zM42 43l1 1-1 1-1-1zM41 44l1 1-1 1-1-1zM3 46l1 1-1 1-1-1zM43 46l1 1-1 1-1-1zM8 47l1 1-1 1-1-1zM16 47l1 1-1 1-1-1zM-3 48l1 1-1 1-1-1zM38 49l1 1-1 1-1-1zM-3 50l1 1-1 1-1-1zM44 51l1 1-1 1-1-1zM7 54l1 1-1 1-1-1zM47 54l1 1-1 1-1-1zM3 56l1 1-1 1-1-1zM37 56l1 1-1 1-1-1zM38 57l1 1-1 1-1-1zM42 57l1 1-1 1-1-1zM44 57l1 1-1 1-1-1zM41 58l1 1-1 1-1-1zM33 60l1 1-1 1-1-1zM3 62l1 1-1 1-1-1zM46 65l1 1-1 1-1-1zM41 66l1 1-1 1-1-1zM44 67l1 1-1 1-1-1zM46 67l1 1-1 1-1-1zM0 69l1 1-1 1-1-1zM2 71l1 1-1 1-1-1zM32 71l1 1-1 1-1-1zM35 72l1 1-1 1-1-1zM39 72l1 1-1 1-1-1zM2 73l1 1-1 1-1-1zM1 74l1 1-1 1-1-1zM39 74l1 1-1 1-1-1z"/><path fill="#484848" d="M36 -5l1 1-1 1-1-1zM45 -4l1 1-1 1-1-1zM47 -4l1 1-1 1-1-1zM-3 0l1 1-1 1-1-1zM35 0l1 1-1 1-1-1zM5 4l1 1-1 1-1-1zM6 5l1 1-1 1-1-1zM24 5l1 1-1 1-1-1zM5 6l1 1-1 1-1-1zM42 7l1 1-1 1-1-1zM37 12l1 1-1 1-1-1zM2 13l1 1-1 1-1-1zM18 15l1 1-1 1-1-1zM30 15l1 1-1 1-1-1zM42 17l1 1-1 1-1-1zM46 25l1 1-1 1-1-1zM32 27l1 1-1 1-1-1zM41 28l1 1-1 1-1-1zM35 30l1 1-1 1-1-1zM39 30l1 1-1 1-1-1zM2 31l1 1-1 1-1-1zM38 31l1 1-1 1-1-1zM42 39l1 1-1 1-1-1zM-3 42l1 1-1 1-1-1zM5 42l1 1-1 1-1-1zM13 44l1 1-1 1-1-1zM37 46l1 1-1 1-1-1zM27 48l1 1-1 1-1-1zM43 48l1 1-1 1-1-1zM1 50l1 1-1 1-1-1zM34 51l1 1-1 1-1-1zM41 54l1 1-1 1-1-1zM43 54l1 1-1 1-1-1zM36 55l1 1-1 1-1-1zM5 56l1 1-1 1-1-1zM32 57l1 1-1 1-1-1zM31 60l1 1-1 1-1-1zM43 60l1 1-1 1-1-1zM-3 62l1 1-1 1-1-1zM2 63l1 1-1 1-1-1zM44 63l1 1-1 1-1-1zM33 66l1 1-1 1-1-1zM38 67l1 1-1 1-1-1zM30 69l1 1-1 1-1-1zM34 69l1 1-1 1-1-1zM3 70l1 1-1 1-1-1zM47 70l1 1-1 1-1-1zM44 71l1 1-1 1-1-1zM46 71l1 1-1 1-1-1zM33 72l1 1-1 1-1-1zM30 73l1 1-1 1-1-1zM38 73l1 1-1 1-1-1zM47 74l1 1-1 1-1-1z"/><path fill="#494949" d="M-1 -8l1 1-1 1-1-1zM35 -4l1 1-1 1-1-1zM46 -3l1 1-1 1-1-1zM1 -2l1 1-1 1-1-1zM32 -1l1 1-1 1-1-1zM3 8l1 1-1 1-1-1zM3 10l1 1-1 1-1-1zM42 11l1 1-1 1-1-1zM7 14l1 1-1 1-1-1zM34 19l1 1-1 1-1-1zM45 20l1 1-1 1-1-1zM3 26l1 1-1 1-1-1zM37 30l1 1-1 1-1-1zM2 33l1 1-1 1-1-1zM44 35l1 1-1 1-1-1zM-3 36l1 1-1 1-1-1zM41 36l1 1-1 1-1-1zM47 36l1 1-1 1-1-1zM5 40l1 1-1 1-1-1zM40 41l1 1-1 1-1-1zM29 42l1 1-1 1-1-1zM43 42l1 1-1 1-1-1zM34 43l1 1-1 1-1-1zM14 47l1 1-1 1-1-1zM47 48l1 1-1 1-1-1zM7 50l1 1-1 1-1-1zM45 50l1 1-1 1-1-1zM28 51l1 1-1 1-1-1zM33 52l1 1-1 1-1-1zM33 54l1 1-1 1-1-1zM46 55l1 1-1 1-1-1zM33 56l1 1-1 1-1-1zM26 57l1 1-1 1-1-1zM35 60l1 1-1 1-1-1zM38 61l1 1-1 1-1-1zM46 61l1 1-1 1-1-1zM37 62l1 1-1 1-1-1zM0 63l1 1-1 1-1-1zM35 66l1 1-1 1-1-1zM-2 67l1 1-1 1-1-1zM37 70l1 1-1 1-1-1zM46 73l1 1-1 1-1-1z"/><path fill="#4a4a4a" d="M46 -7l1 1-1 1-1-1zM12 19l1 1-1 1-1-1zM12 23l1 1-1 1-1-1zM6 25l1 1-1 1-1-1zM45 26l1 1-1 1-1-1zM-2 27l1 1-1 1-1-1zM40 27l1 1-1 1-1-1zM43 40l1 1-1 1-1-1zM44 43l1 1-1 1-1-1zM36 45l1 1-1 1-1-1zM35 54l1 1-1 1-1-1zM35 58l1 1-1 1-1-1zM32 63l1 1-1 1-1-1zM33 64l1 1-1 1-1-1zM37 64l1 1-1 1-1-1zM45 64l1 1-1 1-1-1zM37 68l1 1-1 1-1-1zM38 71l1 1-1 1-1-1zM34 73l1 1-1 1-1-1zM42 73l1 1-1 1-1-1zM41 74l1 1-1 1-1-1z"/><path fill="#4b4b4b" d="M45 -6l1 1-1 1-1-1zM44 -3l1 1-1 1-1-1zM-2 -1l1 1-1 1-1-1zM44 1l1 1-1 1-1-1zM42 3l1 1-1 1-1-1zM46 11l1 1-1 1-1-1zM6 15l1 1-1 1-1-1zM0 17l1 1-1 1-1-1zM37 22l1 1-1 1-1-1zM2 25l1 1-1 1-1-1zM46 27l1 1-1 1-1-1zM-2 29l1 1-1 1-1-1zM46 31l1 1-1 1-1-1zM40 35l1 1-1 1-1-1zM37 42l1 1-1 1-1-1zM47 44l1 1-1 1-1-1zM34 45l1 1-1 1-1-1zM6 47l1 1-1 1-1-1zM5 54l1 1-1 1-1-1zM1 62l1 1-1 1-1-1zM15 64l1 1-1 1-1-1zM35 68l1 1-1 1-1-1zM41 68l1 1-1 1-1-1zM43 68l1 1-1 1-1-1zM43 72l1 1-1 1-1-1zM40 73l1 1-1 1-1-1z"/><path fill="#4c4c4c" d="M42 21l1 1-1 1-1-1zM45 28l1 1-1 1-1-1zM36 29l1 1-1 1-1-1zM33 42l1 1-1 1-1-1zM32 43l1 1-1 1-1-1zM40 43l1 1-1 1-1-1zM44 49l1 1-1 1-1-1zM46 53l1 1-1 1-1-1zM32 55l1 1-1 1-1-1zM38 55l1 1-1 1-1-1zM46 59l1 1-1 1-1-1zM43 62l1 1-1 1-1-1zM30 67l1 1-1 1-1-1z"/><path fill="#4d4d4d" d="M47 24l1 1-1 1-1-1zM7 30l1 1-1 1-1-1zM43 38l1 1-1 1-1-1zM45 48l1 1-1 1-1-1zM47 72l1 1-1 1-1-1z"/><path fill="#4e4e4e" d="M41 12l1 1-1 1-1-1zM43 14l1 1-1 1-1-1zM28 71l1 1-1 1-1-1z"/><path fill="#505050" d="M47 50l1 1-1 1-1-1z"/><path fill="#515151" d="M7 12l1 1-1 1-1-1z"/><path fill="#525252" d="M39 54l1 1-1 1-1-1z"/><path fill="#565656" d="M10 59l1 1-1 1-1-1zM5 60l1 1-1 1-1-1z"/><path fill="#595959" d="M13 62l1 1-1 1-1-1z"/><path fill="#5c5c5c" d="M42 19l1 1-1 1-1-1z"/><path fill="#5f5f5f" d="M38 11l1 1-1 1-1-1zM41 14l1 1-1 1-1-1z"/><path fill="#656565" d="M1 12l1 1-1 1-1-1zM42 33l1 1-1 1-1-1zM36 41l1 1-1 1-1-1z"/><path fill="#686868" d="M2 7l1 1-1 1-1-1zM38 53l1 1-1 1-1-1zM44 59l1 1-1 1-1-1zM39 60l1 1-1 1-1-1z"/><path fill="#6b6b6b" d="M37 36l1 1-1 1-1-1zM42 37l1 1-1 1-1-1z"/><path fill="#6e6e6e" d="M1 6l1 1-1 1-1-1zM41 62l1 1-1 1-1-1z"/><path fill="#717171" d="M17 16l1 1-1 1-1-1z"/><path fill="#747474" d="M35 36l1 1-1 1-1-1zM38 51l1 1-1 1-1-1z"/><path fill="#7a7a7a" d="M41 50l1 1-1 1-1-1zM43 58l1 1-1 1-1-1zM43 64l1 1-1 1-1-1z"/><path fill="#7d7d7d" d="M35 40l1 1-1 1-1-1zM43 50l1 1-1 1-1-1z"/><path fill="#818181" d="M36 53l1 1-1 1-1-1zM40 59l1 1-1 1-1-1z"/><path fill="#848484" d="M28 65l1 1-1 1-1-1z"/><path fill="#bfbfbf" d="M38 45l1 1-1 1-1-1z"/></g>
</g>

</g>
<rect x="1018.4" y="49.7" width="539.3" height="472.4" fill="none" stroke="#222" stroke-width="1.1"/>
<path d="M1015.8 499.6h2.6M1013.4 457.8h5.0M1015.8 415.9h2.6M1013.4 374.1h5.0M1015.8 332.2h2.6M1013.4 290.4h5.0M1015.8 248.6h2.6M1013.4 206.7h5.0M1015.8 164.9h2.6M1013.4 123.0h5.0M1015.8 81.2h2.6M1046.8 522.1v2.6M1081.8 522.1v5.0M1116.9 522.1v2.6M1152.0 522.1v5.0M1187.1 522.1v2.6M1222.1 522.1v5.0M1257.2 522.1v2.6M1292.3 522.1v5.0M1327.4 522.1v2.6M1362.5 522.1v5.0M1397.5 522.1v2.6M1432.6 522.1v5.0M1467.7 522.1v2.6M1502.8 522.1v5.0M1537.8 522.1v2.6" stroke="#222" stroke-width="1.1" fill="none"/>
<text class="tk" transform="translate(1008.8 467.1) scale(1.000 1.040)" text-anchor="end">-1000</text>
<text class="tk" transform="translate(1008.8 383.5) scale(1.000 1.040)" text-anchor="end">-500</text>
<text class="tk" transform="translate(1008.8 299.8) scale(1.000 1.040)" text-anchor="end">0</text>
<text class="tk" transform="translate(1008.8 216.1) scale(1.000 1.040)" text-anchor="end">500</text>
<text class="tk" transform="translate(1008.8 132.4) scale(1.000 1.040)" text-anchor="end">1000</text>
<text class="tk" transform="translate(1151.7 554.8) scale(1.000 1.040)" text-anchor="middle">-1000</text>
<text class="tk" transform="translate(1292.0 554.8) scale(1.000 1.040)" text-anchor="middle">0</text>
<text class="tk" transform="translate(1432.3 554.8) scale(1.000 1.040)" text-anchor="middle">1000</text>
<text class="ax" transform="translate(1288.5 603.0) scale(1.048 1.040)" text-anchor="middle">Distance along X axis/µm</text>
<text class="ax" transform="translate(921.0 286.4) rotate(-90) scale(1.048 1.040)" text-anchor="middle">Distance along Y axis/µm</text>
<text class="tt" transform="translate(1026.7 39.0) scale(1.000 1.012)">b<tspan font-weight="normal">)</tspan> 24 h</text>
<text class="jz" transform="translate(1564.5 29.0) scale(1.070 1.040)"><tspan font-style="italic">j</tspan><tspan font-size="26px" dx="-0.3" dy="6.6">Z</tspan><tspan dx="0" dy="-6.6"> (µA cm</tspan><tspan font-size="23px" dx="1.2" dy="-9.6">−2</tspan><tspan dx="0.8" dy="9.6">)</tspan></text>
<rect x="1644.3" y="50.0" width="22.7" height="4.6" fill="#808080"/>
<rect x="1644.3" y="54.5" width="22.7" height="463.0" fill="url(#cbg)"/>
<rect x="1644.3" y="517.4" width="22.7" height="4.5" fill="#000"/>
<path d="M1667.0 50.0V521.9" stroke="#666" stroke-width="0.8" fill="none"/>
<text class="cb" transform="translate(1684.2 113.3) scale(1.020 1.040)">0.4</text>
<text class="cb" transform="translate(1684.2 178.7) scale(1.020 1.040)">0.3</text>
<text class="cb" transform="translate(1684.2 243.6) scale(1.020 1.040)">0.2</text>
<text class="cb" transform="translate(1684.2 308.6) scale(1.020 1.040)">0.0</text>
<text class="cb" transform="translate(1684.2 362.2) scale(1.020 1.040)">-0.3</text>
<text class="cb" transform="translate(1684.2 445.5) scale(1.020 1.040)">-0.7</text>
<text class="cb" transform="translate(1684.2 528.7) scale(1.020 1.040)">-1.1</text>
<path d="M1667.0 102.0h5M1667.0 167.4h5M1667.0 232.3h5M1667.0 297.3h5M1667.0 350.9h5M1667.0 434.2h5M1667.0 517.4h5" stroke="#333" stroke-width="1" fill="none"/>
</g>
<g id="panel-c">
<g clip-path="url(#clc)"><g filter="url(#fc)">
<g transform="translate(121.60 715.00) scale(12.0273 6.9471)"><rect x="-4" y="-8" width="52" height="84" fill="#202020"/><path fill="#000000" d="M19 10l1 1-1 1-1-1z"/><path fill="#020202" d="M18 3l1 1-1 1-1-1z"/><path fill="#030303" d="M11 -6l1 1-1 1-1-1zM22 3l1 1-1 1-1-1zM15 4l1 1-1 1-1-1zM16 5l1 1-1 1-1-1zM16 7l1 1-1 1-1-1zM21 18l1 1-1 1-1-1z"/><path fill="#040404" d="M15 2l1 1-1 1-1-1zM19 4l1 1-1 1-1-1zM25 8l1 1-1 1-1-1zM16 11l1 1-1 1-1-1z"/><path fill="#050505" d="M13 14l1 1-1 1-1-1z"/><path fill="#060606" d="M21 -8l1 1-1 1-1-1zM28 -7l1 1-1 1-1-1zM21 -6l1 1-1 1-1-1zM20 -5l1 1-1 1-1-1zM22 -5l1 1-1 1-1-1zM17 -2l1 1-1 1-1-1zM19 8l1 1-1 1-1-1zM17 10l1 1-1 1-1-1zM15 12l1 1-1 1-1-1z"/><path fill="#070707" d="M21 -2l1 1-1 1-1-1zM14 3l1 1-1 1-1-1zM10 5l1 1-1 1-1-1zM22 5l1 1-1 1-1-1zM26 7l1 1-1 1-1-1zM13 12l1 1-1 1-1-1zM23 12l1 1-1 1-1-1zM21 14l1 1-1 1-1-1zM22 15l1 1-1 1-1-1z"/><path fill="#080808" d="M23 -6l1 1-1 1-1-1zM22 -3l1 1-1 1-1-1zM15 6l1 1-1 1-1-1zM10 7l1 1-1 1-1-1zM22 7l1 1-1 1-1-1zM9 8l1 1-1 1-1-1zM16 9l1 1-1 1-1-1zM13 10l1 1-1 1-1-1zM22 17l1 1-1 1-1-1zM20 19l1 1-1 1-1-1zM23 20l1 1-1 1-1-1zM20 21l1 1-1 1-1-1z"/><path fill="#090909" d="M12 -5l1 1-1 1-1-1zM19 -4l1 1-1 1-1-1zM16 -3l1 1-1 1-1-1zM19 2l1 1-1 1-1-1zM11 4l1 1-1 1-1-1zM17 4l1 1-1 1-1-1zM23 4l1 1-1 1-1-1zM19 6l1 1-1 1-1-1zM27 6l1 1-1 1-1-1zM14 7l1 1-1 1-1-1zM18 7l1 1-1 1-1-1zM20 7l1 1-1 1-1-1zM21 8l1 1-1 1-1-1zM14 9l1 1-1 1-1-1zM20 13l1 1-1 1-1-1zM11 18l1 1-1 1-1-1zM10 19l1 1-1 1-1-1z"/><path fill="#0a0a0a" d="M22 -7l1 1-1 1-1-1zM18 -3l1 1-1 1-1-1zM12 1l1 1-1 1-1-1zM24 1l1 1-1 1-1-1zM20 5l1 1-1 1-1-1zM26 5l1 1-1 1-1-1zM17 6l1 1-1 1-1-1zM12 7l1 1-1 1-1-1zM23 8l1 1-1 1-1-1zM12 9l1 1-1 1-1-1zM18 9l1 1-1 1-1-1zM17 12l1 1-1 1-1-1zM16 15l1 1-1 1-1-1zM18 17l1 1-1 1-1-1z"/><path fill="#0b0b0b" d="M14 -7l1 1-1 1-1-1zM10 -5l1 1-1 1-1-1zM24 -5l1 1-1 1-1-1zM15 -4l1 1-1 1-1-1zM29 -4l1 1-1 1-1-1zM17 0l1 1-1 1-1-1zM23 0l1 1-1 1-1-1zM17 2l1 1-1 1-1-1zM12 5l1 1-1 1-1-1zM13 6l1 1-1 1-1-1zM24 7l1 1-1 1-1-1zM28 7l1 1-1 1-1-1zM30 7l1 1-1 1-1-1zM17 8l1 1-1 1-1-1zM28 9l1 1-1 1-1-1zM21 10l1 1-1 1-1-1zM16 13l1 1-1 1-1-1zM24 13l1 1-1 1-1-1zM20 23l1 1-1 1-1-1z"/><path fill="#0c0c0c" d="M20 -7l1 1-1 1-1-1zM19 -6l1 1-1 1-1-1zM13 0l1 1-1 1-1-1zM16 1l1 1-1 1-1-1zM22 1l1 1-1 1-1-1zM26 1l1 1-1 1-1-1zM13 2l1 1-1 1-1-1zM21 4l1 1-1 1-1-1zM27 4l1 1-1 1-1-1zM11 6l1 1-1 1-1-1zM23 6l1 1-1 1-1-1zM29 6l1 1-1 1-1-1zM27 8l1 1-1 1-1-1zM10 9l1 1-1 1-1-1zM25 10l1 1-1 1-1-1zM26 11l1 1-1 1-1-1zM11 14l1 1-1 1-1-1zM17 14l1 1-1 1-1-1zM19 14l1 1-1 1-1-1zM10 15l1 1-1 1-1-1zM24 15l1 1-1 1-1-1z"/><path fill="#0d0d0d" d="M23 -8l1 1-1 1-1-1zM29 -8l1 1-1 1-1-1zM12 -7l1 1-1 1-1-1zM16 -7l1 1-1 1-1-1zM13 -6l1 1-1 1-1-1zM14 -5l1 1-1 1-1-1zM10 -1l1 1-1 1-1-1zM14 1l1 1-1 1-1-1zM25 2l1 1-1 1-1-1zM27 2l1 1-1 1-1-1zM28 3l1 1-1 1-1-1zM21 6l1 1-1 1-1-1zM4 9l1 1-1 1-1-1zM30 9l1 1-1 1-1-1zM11 10l1 1-1 1-1-1zM15 10l1 1-1 1-1-1zM28 13l1 1-1 1-1-1zM13 16l1 1-1 1-1-1zM16 17l1 1-1 1-1-1zM20 25l1 1-1 1-1-1z"/><path fill="#0e0e0e" d="M15 -8l1 1-1 1-1-1zM24 -7l1 1-1 1-1-1zM16 -5l1 1-1 1-1-1zM21 -4l1 1-1 1-1-1zM23 -4l1 1-1 1-1-1zM15 -2l1 1-1 1-1-1zM22 -1l1 1-1 1-1-1zM24 -1l1 1-1 1-1-1zM11 0l1 1-1 1-1-1zM21 0l1 1-1 1-1-1zM28 1l1 1-1 1-1-1zM21 2l1 1-1 1-1-1zM26 3l1 1-1 1-1-1zM5 8l1 1-1 1-1-1zM13 8l1 1-1 1-1-1zM15 8l1 1-1 1-1-1zM22 11l1 1-1 1-1-1zM18 13l1 1-1 1-1-1zM15 14l1 1-1 1-1-1zM23 14l1 1-1 1-1-1zM15 18l1 1-1 1-1-1zM28 19l1 1-1 1-1-1zM17 28l1 1-1 1-1-1z"/><path fill="#0f0f0f" d="M17 -6l1 1-1 1-1-1zM27 -6l1 1-1 1-1-1zM17 -4l1 1-1 1-1-1zM10 -3l1 1-1 1-1-1zM23 -2l1 1-1 1-1-1zM14 -1l1 1-1 1-1-1zM16 -1l1 1-1 1-1-1zM18 -1l1 1-1 1-1-1zM25 0l1 1-1 1-1-1zM18 1l1 1-1 1-1-1zM30 1l1 1-1 1-1-1zM9 2l1 1-1 1-1-1zM23 2l1 1-1 1-1-1zM30 3l1 1-1 1-1-1zM18 5l1 1-1 1-1-1zM9 6l1 1-1 1-1-1zM11 8l1 1-1 1-1-1zM8 9l1 1-1 1-1-1zM22 9l1 1-1 1-1-1zM9 10l1 1-1 1-1-1zM14 11l1 1-1 1-1-1zM20 11l1 1-1 1-1-1zM21 12l1 1-1 1-1-1zM26 13l1 1-1 1-1-1zM14 15l1 1-1 1-1-1zM20 15l1 1-1 1-1-1zM19 16l1 1-1 1-1-1zM22 19l1 1-1 1-1-1zM19 22l1 1-1 1-1-1zM13 26l1 1-1 1-1-1z"/><path fill="#101010" d="M13 -8l1 1-1 1-1-1zM19 -8l1 1-1 1-1-1zM25 -8l1 1-1 1-1-1zM30 -7l1 1-1 1-1-1zM25 -4l1 1-1 1-1-1zM26 -3l1 1-1 1-1-1zM19 -2l1 1-1 1-1-1zM10 3l1 1-1 1-1-1zM24 3l1 1-1 1-1-1zM29 4l1 1-1 1-1-1zM14 5l1 1-1 1-1-1zM29 10l1 1-1 1-1-1zM28 11l1 1-1 1-1-1zM10 13l1 1-1 1-1-1zM25 14l1 1-1 1-1-1zM18 15l1 1-1 1-1-1zM27 16l1 1-1 1-1-1zM19 18l1 1-1 1-1-1zM26 19l1 1-1 1-1-1zM19 20l1 1-1 1-1-1zM22 21l1 1-1 1-1-1zM15 22l1 1-1 1-1-1zM14 23l1 1-1 1-1-1zM10 25l1 1-1 1-1-1zM18 25l1 1-1 1-1-1zM23 26l1 1-1 1-1-1zM15 30l1 1-1 1-1-1zM44 61l1 1-1 1-1-1z"/><path fill="#111111" d="M18 -5l1 1-1 1-1-1zM14 -3l1 1-1 1-1-1zM20 -3l1 1-1 1-1-1zM12 -1l1 1-1 1-1-1zM28 5l1 1-1 1-1-1zM20 9l1 1-1 1-1-1zM9 14l1 1-1 1-1-1zM12 15l1 1-1 1-1-1zM28 15l1 1-1 1-1-1zM17 16l1 1-1 1-1-1zM21 16l1 1-1 1-1-1zM25 16l1 1-1 1-1-1zM20 17l1 1-1 1-1-1zM28 17l1 1-1 1-1-1zM9 18l1 1-1 1-1-1zM13 18l1 1-1 1-1-1zM17 18l1 1-1 1-1-1zM23 18l1 1-1 1-1-1zM16 19l1 1-1 1-1-1zM9 20l1 1-1 1-1-1zM11 20l1 1-1 1-1-1zM25 20l1 1-1 1-1-1zM10 21l1 1-1 1-1-1zM11 22l1 1-1 1-1-1zM23 24l1 1-1 1-1-1zM45 74l1 1-1 1-1-1z"/><path fill="#121212" d="M10 -7l1 1-1 1-1-1zM28 -5l1 1-1 1-1-1zM13 -4l1 1-1 1-1-1zM27 -4l1 1-1 1-1-1zM13 -2l1 1-1 1-1-1zM20 -1l1 1-1 1-1-1zM15 0l1 1-1 1-1-1zM20 1l1 1-1 1-1-1zM20 3l1 1-1 1-1-1zM24 5l1 1-1 1-1-1zM26 9l1 1-1 1-1-1zM27 10l1 1-1 1-1-1zM18 11l1 1-1 1-1-1zM11 12l1 1-1 1-1-1zM19 12l1 1-1 1-1-1zM8 15l1 1-1 1-1-1zM11 16l1 1-1 1-1-1zM15 16l1 1-1 1-1-1zM23 16l1 1-1 1-1-1zM29 18l1 1-1 1-1-1zM21 20l1 1-1 1-1-1zM27 20l1 1-1 1-1-1zM11 24l1 1-1 1-1-1zM19 26l1 1-1 1-1-1zM18 27l1 1-1 1-1-1zM18 35l1 1-1 1-1-1zM11 68l1 1-1 1-1-1z"/><path fill="#131313" d="M11 -4l1 1-1 1-1-1zM26 -1l1 1-1 1-1-1zM10 1l1 1-1 1-1-1zM11 2l1 1-1 1-1-1zM31 2l1 1-1 1-1-1zM24 9l1 1-1 1-1-1zM23 10l1 1-1 1-1-1zM24 11l1 1-1 1-1-1zM27 12l1 1-1 1-1-1zM12 13l1 1-1 1-1-1zM14 13l1 1-1 1-1-1zM-3 16l1 1-1 1-1-1zM12 17l1 1-1 1-1-1zM14 21l1 1-1 1-1-1zM16 21l1 1-1 1-1-1zM21 22l1 1-1 1-1-1zM23 22l1 1-1 1-1-1zM24 25l1 1-1 1-1-1zM11 26l1 1-1 1-1-1zM25 28l1 1-1 1-1-1zM44 49l1 1-1 1-1-1zM46 61l1 1-1 1-1-1zM10 69l1 1-1 1-1-1z"/><path fill="#141414" d="M9 -8l1 1-1 1-1-1zM15 -6l1 1-1 1-1-1zM35 -4l1 1-1 1-1-1zM28 -1l1 1-1 1-1-1zM19 0l1 1-1 1-1-1zM12 3l1 1-1 1-1-1zM16 3l1 1-1 1-1-1zM13 4l1 1-1 1-1-1zM8 7l1 1-1 1-1-1zM29 8l1 1-1 1-1-1zM6 9l1 1-1 1-1-1zM10 11l1 1-1 1-1-1zM9 12l1 1-1 1-1-1zM26 17l1 1-1 1-1-1zM18 19l1 1-1 1-1-1zM28 21l1 1-1 1-1-1zM18 23l1 1-1 1-1-1zM7 24l1 1-1 1-1-1zM15 24l1 1-1 1-1-1zM27 24l1 1-1 1-1-1zM16 25l1 1-1 1-1-1zM15 26l1 1-1 1-1-1zM21 28l1 1-1 1-1-1zM14 29l1 1-1 1-1-1zM16 29l1 1-1 1-1-1zM13 30l1 1-1 1-1-1zM17 30l1 1-1 1-1-1zM10 31l1 1-1 1-1-1zM10 33l1 1-1 1-1-1zM7 38l1 1-1 1-1-1zM16 39l1 1-1 1-1-1zM42 63l1 1-1 1-1-1z"/><path fill="#151515" d="M17 -8l1 1-1 1-1-1zM26 -7l1 1-1 1-1-1zM25 -6l1 1-1 1-1-1zM8 -5l1 1-1 1-1-1zM9 -4l1 1-1 1-1-1zM11 -2l1 1-1 1-1-1zM25 -2l1 1-1 1-1-1zM32 -1l1 1-1 1-1-1zM34 -1l1 1-1 1-1-1zM29 2l1 1-1 1-1-1zM25 4l1 1-1 1-1-1zM25 6l1 1-1 1-1-1zM5 10l1 1-1 1-1-1zM6 11l1 1-1 1-1-1zM12 11l1 1-1 1-1-1zM30 11l1 1-1 1-1-1zM5 14l1 1-1 1-1-1zM27 14l1 1-1 1-1-1zM29 16l1 1-1 1-1-1zM15 20l1 1-1 1-1-1zM18 21l1 1-1 1-1-1zM10 23l1 1-1 1-1-1zM25 26l1 1-1 1-1-1zM28 27l1 1-1 1-1-1zM13 28l1 1-1 1-1-1zM15 28l1 1-1 1-1-1zM26 29l1 1-1 1-1-1zM9 30l1 1-1 1-1-1zM14 35l1 1-1 1-1-1zM20 35l1 1-1 1-1-1zM5 38l1 1-1 1-1-1zM11 38l1 1-1 1-1-1zM21 38l1 1-1 1-1-1zM8 49l1 1-1 1-1-1zM0 59l1 1-1 1-1-1zM20 69l1 1-1 1-1-1z"/><path fill="#161616" d="M11 -8l1 1-1 1-1-1zM18 -7l1 1-1 1-1-1zM24 -3l1 1-1 1-1-1zM30 -3l1 1-1 1-1-1zM27 -2l1 1-1 1-1-1zM27 0l1 1-1 1-1-1zM4 3l1 1-1 1-1-1zM33 4l1 1-1 1-1-1zM6 7l1 1-1 1-1-1zM25 12l1 1-1 1-1-1zM8 13l1 1-1 1-1-1zM7 14l1 1-1 1-1-1zM24 17l1 1-1 1-1-1zM14 19l1 1-1 1-1-1zM17 22l1 1-1 1-1-1zM25 22l1 1-1 1-1-1zM24 23l1 1-1 1-1-1zM28 23l1 1-1 1-1-1zM13 24l1 1-1 1-1-1zM14 25l1 1-1 1-1-1zM22 25l1 1-1 1-1-1zM9 26l1 1-1 1-1-1zM27 26l1 1-1 1-1-1zM12 27l1 1-1 1-1-1zM24 27l1 1-1 1-1-1zM10 29l1 1-1 1-1-1zM18 29l1 1-1 1-1-1zM22 29l1 1-1 1-1-1zM24 31l1 1-1 1-1-1zM14 33l1 1-1 1-1-1zM18 33l1 1-1 1-1-1zM20 33l1 1-1 1-1-1zM43 38l1 1-1 1-1-1zM47 40l1 1-1 1-1-1zM16 53l1 1-1 1-1-1zM20 55l1 1-1 1-1-1zM47 58l1 1-1 1-1-1zM11 70l1 1-1 1-1-1z"/><path fill="#171717" d="M29 -6l1 1-1 1-1-1zM26 -5l1 1-1 1-1-1zM30 -5l1 1-1 1-1-1zM34 -5l1 1-1 1-1-1zM29 -2l1 1-1 1-1-1zM30 -1l1 1-1 1-1-1zM5 0l1 1-1 1-1-1zM4 5l1 1-1 1-1-1zM7 8l1 1-1 1-1-1zM2 11l1 1-1 1-1-1zM-3 18l1 1-1 1-1-1zM27 18l1 1-1 1-1-1zM13 20l1 1-1 1-1-1zM17 20l1 1-1 1-1-1zM29 20l1 1-1 1-1-1zM24 21l1 1-1 1-1-1zM26 21l1 1-1 1-1-1zM9 22l1 1-1 1-1-1zM27 22l1 1-1 1-1-1zM12 23l1 1-1 1-1-1zM16 23l1 1-1 1-1-1zM20 31l1 1-1 1-1-1zM19 32l1 1-1 1-1-1zM21 32l1 1-1 1-1-1zM24 33l1 1-1 1-1-1zM17 34l1 1-1 1-1-1zM10 37l1 1-1 1-1-1zM12 45l1 1-1 1-1-1zM20 45l1 1-1 1-1-1zM47 46l1 1-1 1-1-1zM10 61l1 1-1 1-1-1zM40 63l1 1-1 1-1-1zM42 65l1 1-1 1-1-1zM12 67l1 1-1 1-1-1zM18 67l1 1-1 1-1-1z"/><path fill="#181818" d="M31 -6l1 1-1 1-1-1zM9 -2l1 1-1 1-1-1zM35 -2l1 1-1 1-1-1zM39 -2l1 1-1 1-1-1zM31 0l1 1-1 1-1-1zM30 5l1 1-1 1-1-1zM5 6l1 1-1 1-1-1zM3 10l1 1-1 1-1-1zM8 11l1 1-1 1-1-1zM9 16l1 1-1 1-1-1zM14 17l1 1-1 1-1-1zM32 17l1 1-1 1-1-1zM1 22l1 1-1 1-1-1zM3 24l1 1-1 1-1-1zM19 24l1 1-1 1-1-1zM21 24l1 1-1 1-1-1zM6 25l1 1-1 1-1-1zM12 25l1 1-1 1-1-1zM17 26l1 1-1 1-1-1zM10 27l1 1-1 1-1-1zM14 27l1 1-1 1-1-1zM22 27l1 1-1 1-1-1zM30 27l1 1-1 1-1-1zM7 28l1 1-1 1-1-1zM31 28l1 1-1 1-1-1zM6 29l1 1-1 1-1-1zM28 29l1 1-1 1-1-1zM30 29l1 1-1 1-1-1zM12 31l1 1-1 1-1-1zM11 32l1 1-1 1-1-1zM23 32l1 1-1 1-1-1zM16 33l1 1-1 1-1-1zM21 36l1 1-1 1-1-1zM43 36l1 1-1 1-1-1zM18 37l1 1-1 1-1-1zM30 37l1 1-1 1-1-1zM28 39l1 1-1 1-1-1zM-3 40l1 1-1 1-1-1zM28 41l1 1-1 1-1-1zM26 45l1 1-1 1-1-1zM19 46l1 1-1 1-1-1zM46 53l1 1-1 1-1-1zM3 54l1 1-1 1-1-1zM39 56l1 1-1 1-1-1zM41 58l1 1-1 1-1-1zM0 61l1 1-1 1-1-1zM43 64l1 1-1 1-1-1zM12 65l1 1-1 1-1-1zM10 67l1 1-1 1-1-1zM46 67l1 1-1 1-1-1z"/><path fill="#191919" d="M27 -8l1 1-1 1-1-1zM8 -7l1 1-1 1-1-1zM7 0l1 1-1 1-1-1zM34 1l1 1-1 1-1-1zM0 3l1 1-1 1-1-1zM35 8l1 1-1 1-1-1zM32 15l1 1-1 1-1-1zM13 22l1 1-1 1-1-1zM7 30l1 1-1 1-1-1zM14 31l1 1-1 1-1-1zM11 34l1 1-1 1-1-1zM27 34l1 1-1 1-1-1zM33 34l1 1-1 1-1-1zM30 35l1 1-1 1-1-1zM13 36l1 1-1 1-1-1zM28 37l1 1-1 1-1-1zM17 40l1 1-1 1-1-1zM42 41l1 1-1 1-1-1zM12 49l1 1-1 1-1-1zM38 49l1 1-1 1-1-1zM22 51l1 1-1 1-1-1zM4 53l1 1-1 1-1-1zM21 58l1 1-1 1-1-1zM18 59l1 1-1 1-1-1zM43 60l1 1-1 1-1-1zM47 60l1 1-1 1-1-1zM-1 64l1 1-1 1-1-1zM-1 66l1 1-1 1-1-1zM11 66l1 1-1 1-1-1zM14 67l1 1-1 1-1-1zM37 74l1 1-1 1-1-1z"/><path fill="#1a1a1a" d="M32 -7l1 1-1 1-1-1zM9 -6l1 1-1 1-1-1zM38 -3l1 1-1 1-1-1zM8 1l1 1-1 1-1-1zM8 3l1 1-1 1-1-1zM31 4l1 1-1 1-1-1zM31 10l1 1-1 1-1-1zM4 11l1 1-1 1-1-1zM22 13l1 1-1 1-1-1zM3 16l1 1-1 1-1-1zM5 16l1 1-1 1-1-1zM10 17l1 1-1 1-1-1zM30 17l1 1-1 1-1-1zM5 20l1 1-1 1-1-1zM0 21l1 1-1 1-1-1zM22 23l1 1-1 1-1-1zM26 23l1 1-1 1-1-1zM31 26l1 1-1 1-1-1zM6 27l1 1-1 1-1-1zM33 28l1 1-1 1-1-1zM12 29l1 1-1 1-1-1zM20 29l1 1-1 1-1-1zM46 29l1 1-1 1-1-1zM11 30l1 1-1 1-1-1zM25 32l1 1-1 1-1-1zM26 33l1 1-1 1-1-1zM21 34l1 1-1 1-1-1zM45 34l1 1-1 1-1-1zM5 36l1 1-1 1-1-1zM11 36l1 1-1 1-1-1zM29 36l1 1-1 1-1-1zM41 40l1 1-1 1-1-1zM18 43l1 1-1 1-1-1zM2 47l1 1-1 1-1-1zM-3 50l1 1-1 1-1-1zM17 50l1 1-1 1-1-1zM6 55l1 1-1 1-1-1zM37 56l1 1-1 1-1-1zM45 56l1 1-1 1-1-1zM30 57l1 1-1 1-1-1zM15 60l1 1-1 1-1-1zM44 67l1 1-1 1-1-1zM3 68l1 1-1 1-1-1zM7 68l1 1-1 1-1-1zM19 68l1 1-1 1-1-1zM14 69l1 1-1 1-1-1zM43 70l1 1-1 1-1-1zM28 71l1 1-1 1-1-1zM39 72l1 1-1 1-1-1zM43 72l1 1-1 1-1-1zM28 73l1 1-1 1-1-1zM39 74l1 1-1 1-1-1zM43 74l1 1-1 1-1-1z"/><path fill="#1b1b1b" d="M32 -5l1 1-1 1-1-1zM31 -4l1 1-1 1-1-1zM33 -4l1 1-1 1-1-1zM12 -3l1 1-1 1-1-1zM34 -3l1 1-1 1-1-1zM9 0l1 1-1 1-1-1zM3 2l1 1-1 1-1-1zM5 2l1 1-1 1-1-1zM9 4l1 1-1 1-1-1zM5 12l1 1-1 1-1-1zM8 19l1 1-1 1-1-1zM12 19l1 1-1 1-1-1zM24 19l1 1-1 1-1-1zM30 19l1 1-1 1-1-1zM-2 23l1 1-1 1-1-1zM29 26l1 1-1 1-1-1zM24 29l1 1-1 1-1-1zM19 30l1 1-1 1-1-1zM18 31l1 1-1 1-1-1zM22 31l1 1-1 1-1-1zM17 32l1 1-1 1-1-1zM9 34l1 1-1 1-1-1zM25 34l1 1-1 1-1-1zM16 35l1 1-1 1-1-1zM38 37l1 1-1 1-1-1zM13 38l1 1-1 1-1-1zM27 38l1 1-1 1-1-1zM29 38l1 1-1 1-1-1zM47 38l1 1-1 1-1-1zM42 39l1 1-1 1-1-1zM19 40l1 1-1 1-1-1zM21 40l1 1-1 1-1-1zM47 44l1 1-1 1-1-1zM6 45l1 1-1 1-1-1zM16 45l1 1-1 1-1-1zM-3 46l1 1-1 1-1-1zM15 46l1 1-1 1-1-1zM6 47l1 1-1 1-1-1zM8 47l1 1-1 1-1-1zM39 48l1 1-1 1-1-1zM11 50l1 1-1 1-1-1zM45 50l1 1-1 1-1-1zM38 53l1 1-1 1-1-1zM4 55l1 1-1 1-1-1zM32 55l1 1-1 1-1-1zM25 56l1 1-1 1-1-1zM44 57l1 1-1 1-1-1zM-3 58l1 1-1 1-1-1zM29 58l1 1-1 1-1-1zM40 59l1 1-1 1-1-1zM1 60l1 1-1 1-1-1zM17 60l1 1-1 1-1-1zM14 61l1 1-1 1-1-1zM40 61l1 1-1 1-1-1zM25 64l1 1-1 1-1-1zM4 65l1 1-1 1-1-1zM18 65l1 1-1 1-1-1zM45 66l1 1-1 1-1-1zM40 69l1 1-1 1-1-1zM6 73l1 1-1 1-1-1zM26 73l1 1-1 1-1-1zM36 73l1 1-1 1-1-1zM40 73l1 1-1 1-1-1zM17 74l1 1-1 1-1-1z"/><path fill="#1c1c1c" d="M31 -8l1 1-1 1-1-1zM35 -8l1 1-1 1-1-1zM35 0l1 1-1 1-1-1zM32 1l1 1-1 1-1-1zM7 4l1 1-1 1-1-1zM-1 8l1 1-1 1-1-1zM32 9l1 1-1 1-1-1zM6 13l1 1-1 1-1-1zM35 14l1 1-1 1-1-1zM26 15l1 1-1 1-1-1zM30 15l1 1-1 1-1-1zM8 17l1 1-1 1-1-1zM-1 18l1 1-1 1-1-1zM5 18l1 1-1 1-1-1zM7 20l1 1-1 1-1-1zM5 22l1 1-1 1-1-1zM7 22l1 1-1 1-1-1zM29 22l1 1-1 1-1-1zM6 23l1 1-1 1-1-1zM17 24l1 1-1 1-1-1zM29 24l1 1-1 1-1-1zM26 25l1 1-1 1-1-1zM26 27l1 1-1 1-1-1zM32 27l1 1-1 1-1-1zM46 31l1 1-1 1-1-1zM9 32l1 1-1 1-1-1zM13 32l1 1-1 1-1-1zM0 33l1 1-1 1-1-1zM28 33l1 1-1 1-1-1zM10 35l1 1-1 1-1-1zM35 36l1 1-1 1-1-1zM6 37l1 1-1 1-1-1zM8 37l1 1-1 1-1-1zM1 38l1 1-1 1-1-1zM3 42l1 1-1 1-1-1zM17 42l1 1-1 1-1-1zM43 42l1 1-1 1-1-1zM16 43l1 1-1 1-1-1zM40 43l1 1-1 1-1-1zM25 44l1 1-1 1-1-1zM39 46l1 1-1 1-1-1zM45 46l1 1-1 1-1-1zM-2 47l1 1-1 1-1-1zM9 48l1 1-1 1-1-1zM19 48l1 1-1 1-1-1zM-2 49l1 1-1 1-1-1zM16 49l1 1-1 1-1-1zM34 49l1 1-1 1-1-1zM-1 50l1 1-1 1-1-1zM29 50l1 1-1 1-1-1zM47 50l1 1-1 1-1-1zM-2 51l1 1-1 1-1-1zM44 51l1 1-1 1-1-1zM11 52l1 1-1 1-1-1zM17 52l1 1-1 1-1-1zM6 53l1 1-1 1-1-1zM30 53l1 1-1 1-1-1zM-1 54l1 1-1 1-1-1zM39 54l1 1-1 1-1-1zM2 55l1 1-1 1-1-1zM43 56l1 1-1 1-1-1zM10 57l1 1-1 1-1-1zM36 57l1 1-1 1-1-1zM35 60l1 1-1 1-1-1zM26 61l1 1-1 1-1-1zM42 61l1 1-1 1-1-1zM3 62l1 1-1 1-1-1zM41 62l1 1-1 1-1-1zM35 64l1 1-1 1-1-1zM31 66l1 1-1 1-1-1zM43 66l1 1-1 1-1-1zM8 69l1 1-1 1-1-1zM32 69l1 1-1 1-1-1zM42 69l1 1-1 1-1-1zM39 70l1 1-1 1-1-1zM47 70l1 1-1 1-1-1zM6 71l1 1-1 1-1-1zM24 71l1 1-1 1-1-1zM19 72l1 1-1 1-1-1zM32 73l1 1-1 1-1-1zM47 74l1 1-1 1-1-1z"/><path fill="#1d1d1d" d="M5 -8l1 1-1 1-1-1zM33 -8l1 1-1 1-1-1zM-3 -6l1 1-1 1-1-1zM1 -6l1 1-1 1-1-1zM28 -3l1 1-1 1-1-1zM31 -2l1 1-1 1-1-1zM2 -1l1 1-1 1-1-1zM6 1l1 1-1 1-1-1zM7 2l1 1-1 1-1-1zM-2 5l1 1-1 1-1-1zM34 5l1 1-1 1-1-1zM3 6l1 1-1 1-1-1zM31 6l1 1-1 1-1-1zM34 7l1 1-1 1-1-1zM7 10l1 1-1 1-1-1zM-3 12l1 1-1 1-1-1zM4 13l1 1-1 1-1-1zM4 15l1 1-1 1-1-1zM2 19l1 1-1 1-1-1zM4 21l1 1-1 1-1-1zM8 21l1 1-1 1-1-1zM28 25l1 1-1 1-1-1zM7 26l1 1-1 1-1-1zM16 27l1 1-1 1-1-1zM20 27l1 1-1 1-1-1zM5 28l1 1-1 1-1-1zM9 28l1 1-1 1-1-1zM11 28l1 1-1 1-1-1zM23 28l1 1-1 1-1-1zM0 29l1 1-1 1-1-1zM25 30l1 1-1 1-1-1zM45 30l1 1-1 1-1-1zM-2 31l1 1-1 1-1-1zM15 32l1 1-1 1-1-1zM-1 34l1 1-1 1-1-1zM1 34l1 1-1 1-1-1zM7 34l1 1-1 1-1-1zM36 35l1 1-1 1-1-1zM38 35l1 1-1 1-1-1zM44 35l1 1-1 1-1-1zM23 36l1 1-1 1-1-1zM2 37l1 1-1 1-1-1zM17 38l1 1-1 1-1-1zM18 39l1 1-1 1-1-1zM20 39l1 1-1 1-1-1zM24 39l1 1-1 1-1-1zM11 40l1 1-1 1-1-1zM13 40l1 1-1 1-1-1zM18 41l1 1-1 1-1-1zM9 42l1 1-1 1-1-1zM25 42l1 1-1 1-1-1zM20 43l1 1-1 1-1-1zM11 44l1 1-1 1-1-1zM5 46l1 1-1 1-1-1zM7 46l1 1-1 1-1-1zM10 47l1 1-1 1-1-1zM22 47l1 1-1 1-1-1zM3 48l1 1-1 1-1-1zM17 48l1 1-1 1-1-1zM21 48l1 1-1 1-1-1zM45 48l1 1-1 1-1-1zM18 49l1 1-1 1-1-1zM18 51l1 1-1 1-1-1zM42 51l1 1-1 1-1-1zM46 51l1 1-1 1-1-1zM15 52l1 1-1 1-1-1zM45 52l1 1-1 1-1-1zM32 53l1 1-1 1-1-1zM-3 54l1 1-1 1-1-1zM7 54l1 1-1 1-1-1zM24 55l1 1-1 1-1-1zM47 56l1 1-1 1-1-1zM4 57l1 1-1 1-1-1zM32 57l1 1-1 1-1-1zM38 57l1 1-1 1-1-1zM44 59l1 1-1 1-1-1zM38 61l1 1-1 1-1-1zM5 62l1 1-1 1-1-1zM2 63l1 1-1 1-1-1zM20 63l1 1-1 1-1-1zM19 64l1 1-1 1-1-1zM16 65l1 1-1 1-1-1zM3 66l1 1-1 1-1-1zM35 70l1 1-1 1-1-1zM1 72l1 1-1 1-1-1zM7 72l1 1-1 1-1-1z"/><path fill="#1e1e1e" d="M1 -8l1 1-1 1-1-1zM36 -7l1 1-1 1-1-1zM7 -6l1 1-1 1-1-1zM-1 -4l1 1-1 1-1-1zM4 1l1 1-1 1-1-1zM5 4l1 1-1 1-1-1zM7 6l1 1-1 1-1-1zM0 7l1 1-1 1-1-1zM6 15l1 1-1 1-1-1zM3 18l1 1-1 1-1-1zM6 19l1 1-1 1-1-1zM6 21l1 1-1 1-1-1zM12 21l1 1-1 1-1-1zM1 24l1 1-1 1-1-1zM25 24l1 1-1 1-1-1zM-3 26l1 1-1 1-1-1zM3 28l1 1-1 1-1-1zM27 28l1 1-1 1-1-1zM34 29l1 1-1 1-1-1zM39 30l1 1-1 1-1-1zM4 31l1 1-1 1-1-1zM8 31l1 1-1 1-1-1zM32 31l1 1-1 1-1-1zM12 33l1 1-1 1-1-1zM44 33l1 1-1 1-1-1zM13 34l1 1-1 1-1-1zM31 34l1 1-1 1-1-1zM37 34l1 1-1 1-1-1zM26 35l1 1-1 1-1-1zM19 36l1 1-1 1-1-1zM45 36l1 1-1 1-1-1zM32 37l1 1-1 1-1-1zM40 37l1 1-1 1-1-1zM42 37l1 1-1 1-1-1zM35 38l1 1-1 1-1-1zM33 40l1 1-1 1-1-1zM16 41l1 1-1 1-1-1zM22 41l1 1-1 1-1-1zM1 42l1 1-1 1-1-1zM5 44l1 1-1 1-1-1zM7 44l1 1-1 1-1-1zM23 44l1 1-1 1-1-1zM22 45l1 1-1 1-1-1zM24 45l1 1-1 1-1-1zM37 46l1 1-1 1-1-1zM14 47l1 1-1 1-1-1zM14 49l1 1-1 1-1-1zM1 50l1 1-1 1-1-1zM21 50l1 1-1 1-1-1zM39 50l1 1-1 1-1-1zM29 52l1 1-1 1-1-1zM37 52l1 1-1 1-1-1zM8 53l1 1-1 1-1-1zM26 53l1 1-1 1-1-1zM34 53l1 1-1 1-1-1zM13 54l1 1-1 1-1-1zM8 55l1 1-1 1-1-1zM22 55l1 1-1 1-1-1zM33 56l1 1-1 1-1-1zM0 57l1 1-1 1-1-1zM46 57l1 1-1 1-1-1zM3 58l1 1-1 1-1-1zM-2 59l1 1-1 1-1-1zM2 59l1 1-1 1-1-1zM30 59l1 1-1 1-1-1zM5 60l1 1-1 1-1-1zM7 60l1 1-1 1-1-1zM13 60l1 1-1 1-1-1zM34 61l1 1-1 1-1-1zM39 62l1 1-1 1-1-1zM43 62l1 1-1 1-1-1zM24 63l1 1-1 1-1-1zM46 63l1 1-1 1-1-1zM27 64l1 1-1 1-1-1zM25 66l1 1-1 1-1-1zM47 66l1 1-1 1-1-1zM22 67l1 1-1 1-1-1zM26 67l1 1-1 1-1-1zM38 67l1 1-1 1-1-1zM29 72l1 1-1 1-1-1zM35 72l1 1-1 1-1-1zM47 72l1 1-1 1-1-1zM44 73l1 1-1 1-1-1z"/><path fill="#1f1f1f" d="M4 -7l1 1-1 1-1-1zM34 -7l1 1-1 1-1-1zM38 -7l1 1-1 1-1-1zM5 -2l1 1-1 1-1-1zM33 0l1 1-1 1-1-1zM33 2l1 1-1 1-1-1zM-2 3l1 1-1 1-1-1zM33 6l1 1-1 1-1-1zM2 7l1 1-1 1-1-1zM3 8l1 1-1 1-1-1zM1 12l1 1-1 1-1-1zM-2 17l1 1-1 1-1-1zM34 17l1 1-1 1-1-1zM-2 19l1 1-1 1-1-1zM0 19l1 1-1 1-1-1zM4 19l1 1-1 1-1-1zM5 24l1 1-1 1-1-1zM33 24l1 1-1 1-1-1zM30 25l1 1-1 1-1-1zM4 27l1 1-1 1-1-1zM19 28l1 1-1 1-1-1zM8 29l1 1-1 1-1-1zM5 30l1 1-1 1-1-1zM37 30l1 1-1 1-1-1zM0 31l1 1-1 1-1-1zM27 32l1 1-1 1-1-1zM35 32l1 1-1 1-1-1zM37 32l1 1-1 1-1-1zM22 33l1 1-1 1-1-1zM23 34l1 1-1 1-1-1zM29 34l1 1-1 1-1-1zM46 35l1 1-1 1-1-1zM16 37l1 1-1 1-1-1zM26 37l1 1-1 1-1-1zM46 37l1 1-1 1-1-1zM41 38l1 1-1 1-1-1zM12 41l1 1-1 1-1-1zM15 42l1 1-1 1-1-1zM39 42l1 1-1 1-1-1zM22 43l1 1-1 1-1-1zM24 43l1 1-1 1-1-1zM26 43l1 1-1 1-1-1zM42 43l1 1-1 1-1-1zM36 45l1 1-1 1-1-1zM43 46l1 1-1 1-1-1zM0 47l1 1-1 1-1-1zM-1 48l1 1-1 1-1-1zM11 48l1 1-1 1-1-1zM29 48l1 1-1 1-1-1zM47 48l1 1-1 1-1-1zM0 49l1 1-1 1-1-1zM2 49l1 1-1 1-1-1zM42 49l1 1-1 1-1-1zM46 49l1 1-1 1-1-1zM9 50l1 1-1 1-1-1zM13 50l1 1-1 1-1-1zM6 51l1 1-1 1-1-1zM14 51l1 1-1 1-1-1zM16 51l1 1-1 1-1-1zM19 52l1 1-1 1-1-1zM43 52l1 1-1 1-1-1zM12 53l1 1-1 1-1-1zM24 53l1 1-1 1-1-1zM15 54l1 1-1 1-1-1zM17 54l1 1-1 1-1-1zM21 54l1 1-1 1-1-1zM37 54l1 1-1 1-1-1zM40 55l1 1-1 1-1-1zM11 56l1 1-1 1-1-1zM12 57l1 1-1 1-1-1zM39 58l1 1-1 1-1-1zM43 58l1 1-1 1-1-1zM45 58l1 1-1 1-1-1zM42 59l1 1-1 1-1-1zM3 60l1 1-1 1-1-1zM19 60l1 1-1 1-1-1zM25 60l1 1-1 1-1-1zM29 60l1 1-1 1-1-1zM2 61l1 1-1 1-1-1zM16 61l1 1-1 1-1-1zM20 61l1 1-1 1-1-1zM22 61l1 1-1 1-1-1zM30 61l1 1-1 1-1-1zM-1 62l1 1-1 1-1-1zM13 62l1 1-1 1-1-1zM17 62l1 1-1 1-1-1zM47 62l1 1-1 1-1-1zM-2 63l1 1-1 1-1-1zM30 63l1 1-1 1-1-1zM11 64l1 1-1 1-1-1zM21 64l1 1-1 1-1-1zM41 64l1 1-1 1-1-1zM14 65l1 1-1 1-1-1zM40 65l1 1-1 1-1-1zM-3 66l1 1-1 1-1-1zM1 66l1 1-1 1-1-1zM19 66l1 1-1 1-1-1zM23 66l1 1-1 1-1-1zM20 67l1 1-1 1-1-1zM13 68l1 1-1 1-1-1zM15 68l1 1-1 1-1-1zM27 68l1 1-1 1-1-1zM47 68l1 1-1 1-1-1zM7 70l1 1-1 1-1-1zM15 70l1 1-1 1-1-1zM17 70l1 1-1 1-1-1zM20 71l1 1-1 1-1-1zM46 71l1 1-1 1-1-1zM33 72l1 1-1 1-1-1zM0 73l1 1-1 1-1-1zM42 73l1 1-1 1-1-1zM1 74l1 1-1 1-1-1zM9 74l1 1-1 1-1-1zM25 74l1 1-1 1-1-1z"/><path fill="#202020" d="M2 -7l1 1-1 1-1-1zM39 -4l1 1-1 1-1-1zM41 -4l1 1-1 1-1-1zM33 -2l1 1-1 1-1-1zM44 -1l1 1-1 1-1-1zM2 3l1 1-1 1-1-1zM32 3l1 1-1 1-1-1zM3 4l1 1-1 1-1-1zM6 5l1 1-1 1-1-1zM8 5l1 1-1 1-1-1zM32 7l1 1-1 1-1-1zM-3 10l1 1-1 1-1-1zM7 12l1 1-1 1-1-1zM4 17l1 1-1 1-1-1zM7 18l1 1-1 1-1-1zM25 18l1 1-1 1-1-1zM-3 20l1 1-1 1-1-1zM2 21l1 1-1 1-1-1zM9 24l1 1-1 1-1-1zM-2 25l1 1-1 1-1-1zM29 28l1 1-1 1-1-1zM47 28l1 1-1 1-1-1zM-2 29l1 1-1 1-1-1zM23 30l1 1-1 1-1-1zM43 30l1 1-1 1-1-1zM6 31l1 1-1 1-1-1zM28 31l1 1-1 1-1-1zM3 32l1 1-1 1-1-1zM8 33l1 1-1 1-1-1zM46 33l1 1-1 1-1-1zM5 34l1 1-1 1-1-1zM15 34l1 1-1 1-1-1zM4 35l1 1-1 1-1-1zM7 36l1 1-1 1-1-1zM9 36l1 1-1 1-1-1zM27 36l1 1-1 1-1-1zM31 36l1 1-1 1-1-1zM12 37l1 1-1 1-1-1zM24 37l1 1-1 1-1-1zM-1 38l1 1-1 1-1-1zM23 38l1 1-1 1-1-1zM31 38l1 1-1 1-1-1zM2 39l1 1-1 1-1-1zM6 39l1 1-1 1-1-1zM14 39l1 1-1 1-1-1zM26 39l1 1-1 1-1-1zM5 40l1 1-1 1-1-1zM9 40l1 1-1 1-1-1zM15 40l1 1-1 1-1-1zM25 40l1 1-1 1-1-1zM27 40l1 1-1 1-1-1zM-2 41l1 1-1 1-1-1zM21 42l1 1-1 1-1-1zM47 42l1 1-1 1-1-1zM14 43l1 1-1 1-1-1zM29 44l1 1-1 1-1-1zM46 45l1 1-1 1-1-1zM13 46l1 1-1 1-1-1zM21 46l1 1-1 1-1-1zM20 47l1 1-1 1-1-1zM28 47l1 1-1 1-1-1zM15 48l1 1-1 1-1-1zM23 48l1 1-1 1-1-1zM27 48l1 1-1 1-1-1zM41 48l1 1-1 1-1-1zM22 49l1 1-1 1-1-1zM7 50l1 1-1 1-1-1zM0 51l1 1-1 1-1-1zM20 51l1 1-1 1-1-1zM-3 52l1 1-1 1-1-1zM20 53l1 1-1 1-1-1zM28 53l1 1-1 1-1-1zM19 54l1 1-1 1-1-1zM-2 55l1 1-1 1-1-1zM46 55l1 1-1 1-1-1zM19 56l1 1-1 1-1-1zM6 57l1 1-1 1-1-1zM1 58l1 1-1 1-1-1zM9 60l1 1-1 1-1-1zM21 60l1 1-1 1-1-1zM1 62l1 1-1 1-1-1zM23 62l1 1-1 1-1-1zM25 62l1 1-1 1-1-1zM33 62l1 1-1 1-1-1zM14 63l1 1-1 1-1-1zM16 63l1 1-1 1-1-1zM38 63l1 1-1 1-1-1zM15 64l1 1-1 1-1-1zM46 65l1 1-1 1-1-1zM7 66l1 1-1 1-1-1zM2 67l1 1-1 1-1-1zM8 67l1 1-1 1-1-1zM40 67l1 1-1 1-1-1zM1 68l1 1-1 1-1-1zM33 68l1 1-1 1-1-1zM37 68l1 1-1 1-1-1zM2 69l1 1-1 1-1-1zM30 69l1 1-1 1-1-1zM31 70l1 1-1 1-1-1zM34 71l1 1-1 1-1-1zM31 72l1 1-1 1-1-1zM37 72l1 1-1 1-1-1zM2 73l1 1-1 1-1-1zM8 73l1 1-1 1-1-1zM16 73l1 1-1 1-1-1zM27 74l1 1-1 1-1-1z"/><path fill="#212121" d="M3 -8l1 1-1 1-1-1zM7 -8l1 1-1 1-1-1zM33 -6l1 1-1 1-1-1zM4 -5l1 1-1 1-1-1zM40 -5l1 1-1 1-1-1zM44 -5l1 1-1 1-1-1zM2 -3l1 1-1 1-1-1zM32 -3l1 1-1 1-1-1zM8 -1l1 1-1 1-1-1zM-1 2l1 1-1 1-1-1zM41 2l1 1-1 1-1-1zM34 3l1 1-1 1-1-1zM2 5l1 1-1 1-1-1zM-1 6l1 1-1 1-1-1zM4 7l1 1-1 1-1-1zM31 8l1 1-1 1-1-1zM33 10l1 1-1 1-1-1zM0 11l1 1-1 1-1-1zM0 15l1 1-1 1-1-1zM2 15l1 1-1 1-1-1zM36 15l1 1-1 1-1-1zM1 16l1 1-1 1-1-1zM31 16l1 1-1 1-1-1zM2 17l1 1-1 1-1-1zM3 22l1 1-1 1-1-1zM-3 24l1 1-1 1-1-1zM45 24l1 1-1 1-1-1zM0 27l1 1-1 1-1-1zM44 29l1 1-1 1-1-1zM21 30l1 1-1 1-1-1zM31 30l1 1-1 1-1-1zM35 30l1 1-1 1-1-1zM26 31l1 1-1 1-1-1zM36 31l1 1-1 1-1-1zM42 31l1 1-1 1-1-1zM45 32l1 1-1 1-1-1zM42 33l1 1-1 1-1-1zM19 34l1 1-1 1-1-1zM6 35l1 1-1 1-1-1zM1 36l1 1-1 1-1-1zM17 36l1 1-1 1-1-1zM14 37l1 1-1 1-1-1zM9 38l1 1-1 1-1-1zM19 38l1 1-1 1-1-1zM-2 39l1 1-1 1-1-1zM0 39l1 1-1 1-1-1zM12 39l1 1-1 1-1-1zM22 39l1 1-1 1-1-1zM1 40l1 1-1 1-1-1zM43 40l1 1-1 1-1-1zM2 41l1 1-1 1-1-1zM46 41l1 1-1 1-1-1zM29 42l1 1-1 1-1-1zM41 42l1 1-1 1-1-1zM32 43l1 1-1 1-1-1zM10 45l1 1-1 1-1-1zM1 46l1 1-1 1-1-1zM34 47l1 1-1 1-1-1zM42 47l1 1-1 1-1-1zM46 47l1 1-1 1-1-1zM37 48l1 1-1 1-1-1zM40 49l1 1-1 1-1-1zM35 50l1 1-1 1-1-1zM36 51l1 1-1 1-1-1zM38 51l1 1-1 1-1-1zM9 52l1 1-1 1-1-1zM21 52l1 1-1 1-1-1zM23 52l1 1-1 1-1-1zM35 52l1 1-1 1-1-1zM41 52l1 1-1 1-1-1zM10 53l1 1-1 1-1-1zM11 54l1 1-1 1-1-1zM35 54l1 1-1 1-1-1zM43 54l1 1-1 1-1-1zM16 55l1 1-1 1-1-1zM18 55l1 1-1 1-1-1zM26 55l1 1-1 1-1-1zM3 56l1 1-1 1-1-1zM9 56l1 1-1 1-1-1zM15 56l1 1-1 1-1-1zM29 56l1 1-1 1-1-1zM14 57l1 1-1 1-1-1zM17 58l1 1-1 1-1-1zM10 59l1 1-1 1-1-1zM26 59l1 1-1 1-1-1zM33 60l1 1-1 1-1-1zM39 60l1 1-1 1-1-1zM19 62l1 1-1 1-1-1zM29 62l1 1-1 1-1-1zM45 62l1 1-1 1-1-1zM13 64l1 1-1 1-1-1zM45 64l1 1-1 1-1-1zM47 64l1 1-1 1-1-1zM22 65l1 1-1 1-1-1zM36 65l1 1-1 1-1-1zM21 66l1 1-1 1-1-1zM-2 67l1 1-1 1-1-1zM0 67l1 1-1 1-1-1zM32 67l1 1-1 1-1-1zM42 67l1 1-1 1-1-1zM17 68l1 1-1 1-1-1zM16 69l1 1-1 1-1-1zM28 69l1 1-1 1-1-1zM36 69l1 1-1 1-1-1zM5 70l1 1-1 1-1-1zM41 70l1 1-1 1-1-1zM2 71l1 1-1 1-1-1zM10 71l1 1-1 1-1-1zM40 71l1 1-1 1-1-1zM44 71l1 1-1 1-1-1zM-3 72l1 1-1 1-1-1zM5 72l1 1-1 1-1-1zM38 73l1 1-1 1-1-1zM31 74l1 1-1 1-1-1z"/><path fill="#222222" d="M37 -8l1 1-1 1-1-1zM40 -7l1 1-1 1-1-1zM2 -5l1 1-1 1-1-1zM-3 -4l1 1-1 1-1-1zM7 -4l1 1-1 1-1-1zM3 0l1 1-1 1-1-1zM40 1l1 1-1 1-1-1zM32 5l1 1-1 1-1-1zM1 8l1 1-1 1-1-1zM33 8l1 1-1 1-1-1zM35 12l1 1-1 1-1-1zM0 13l1 1-1 1-1-1zM-3 14l1 1-1 1-1-1zM3 14l1 1-1 1-1-1zM7 16l1 1-1 1-1-1zM31 18l1 1-1 1-1-1zM1 20l1 1-1 1-1-1zM3 20l1 1-1 1-1-1zM0 23l1 1-1 1-1-1zM8 23l1 1-1 1-1-1zM-1 26l1 1-1 1-1-1zM3 26l1 1-1 1-1-1zM5 26l1 1-1 1-1-1zM21 26l1 1-1 1-1-1zM-3 28l1 1-1 1-1-1zM37 28l1 1-1 1-1-1zM4 29l1 1-1 1-1-1zM-3 30l1 1-1 1-1-1zM16 31l1 1-1 1-1-1zM36 33l1 1-1 1-1-1zM0 35l1 1-1 1-1-1zM0 37l1 1-1 1-1-1zM20 37l1 1-1 1-1-1zM34 37l1 1-1 1-1-1zM33 38l1 1-1 1-1-1zM8 39l1 1-1 1-1-1zM30 39l1 1-1 1-1-1zM32 39l1 1-1 1-1-1zM38 39l1 1-1 1-1-1zM40 39l1 1-1 1-1-1zM46 39l1 1-1 1-1-1zM39 40l1 1-1 1-1-1zM20 41l1 1-1 1-1-1zM5 42l1 1-1 1-1-1zM19 42l1 1-1 1-1-1zM0 43l1 1-1 1-1-1zM8 43l1 1-1 1-1-1zM34 43l1 1-1 1-1-1zM1 44l1 1-1 1-1-1zM13 44l1 1-1 1-1-1zM0 45l1 1-1 1-1-1zM8 45l1 1-1 1-1-1zM14 45l1 1-1 1-1-1zM18 45l1 1-1 1-1-1zM28 45l1 1-1 1-1-1zM32 45l1 1-1 1-1-1zM34 45l1 1-1 1-1-1zM44 45l1 1-1 1-1-1zM16 47l1 1-1 1-1-1zM32 47l1 1-1 1-1-1zM25 48l1 1-1 1-1-1zM43 48l1 1-1 1-1-1zM25 50l1 1-1 1-1-1zM26 51l1 1-1 1-1-1zM1 52l1 1-1 1-1-1zM25 52l1 1-1 1-1-1zM31 52l1 1-1 1-1-1zM39 52l1 1-1 1-1-1zM2 53l1 1-1 1-1-1zM18 53l1 1-1 1-1-1zM5 54l1 1-1 1-1-1zM27 54l1 1-1 1-1-1zM41 54l1 1-1 1-1-1zM45 54l1 1-1 1-1-1zM10 55l1 1-1 1-1-1zM12 55l1 1-1 1-1-1zM14 55l1 1-1 1-1-1zM-3 56l1 1-1 1-1-1zM5 56l1 1-1 1-1-1zM13 56l1 1-1 1-1-1zM23 56l1 1-1 1-1-1zM27 56l1 1-1 1-1-1zM31 56l1 1-1 1-1-1zM8 57l1 1-1 1-1-1zM26 57l1 1-1 1-1-1zM31 58l1 1-1 1-1-1zM14 59l1 1-1 1-1-1zM38 59l1 1-1 1-1-1zM-3 60l1 1-1 1-1-1zM11 60l1 1-1 1-1-1zM36 61l1 1-1 1-1-1zM27 62l1 1-1 1-1-1zM31 62l1 1-1 1-1-1zM18 63l1 1-1 1-1-1zM26 63l1 1-1 1-1-1zM34 63l1 1-1 1-1-1zM36 63l1 1-1 1-1-1zM23 64l1 1-1 1-1-1zM33 64l1 1-1 1-1-1zM37 64l1 1-1 1-1-1zM2 65l1 1-1 1-1-1zM20 65l1 1-1 1-1-1zM30 65l1 1-1 1-1-1zM34 65l1 1-1 1-1-1zM17 66l1 1-1 1-1-1zM39 66l1 1-1 1-1-1zM34 67l1 1-1 1-1-1zM23 68l1 1-1 1-1-1zM4 69l1 1-1 1-1-1zM12 69l1 1-1 1-1-1zM13 70l1 1-1 1-1-1zM29 70l1 1-1 1-1-1zM37 70l1 1-1 1-1-1zM45 70l1 1-1 1-1-1zM0 71l1 1-1 1-1-1zM23 72l1 1-1 1-1-1zM10 73l1 1-1 1-1-1zM24 73l1 1-1 1-1-1zM33 74l1 1-1 1-1-1z"/><path fill="#232323" d="M44 -7l1 1-1 1-1-1zM5 -6l1 1-1 1-1-1zM5 -4l1 1-1 1-1-1zM7 -2l1 1-1 1-1-1zM1 0l1 1-1 1-1-1zM-2 1l1 1-1 1-1-1zM0 1l1 1-1 1-1-1zM-2 9l1 1-1 1-1-1zM3 12l1 1-1 1-1-1zM-2 13l1 1-1 1-1-1zM2 13l1 1-1 1-1-1zM-1 16l1 1-1 1-1-1zM33 18l1 1-1 1-1-1zM35 20l1 1-1 1-1-1zM0 25l1 1-1 1-1-1zM4 25l1 1-1 1-1-1zM32 25l1 1-1 1-1-1zM42 29l1 1-1 1-1-1zM29 30l1 1-1 1-1-1zM34 31l1 1-1 1-1-1zM-3 32l1 1-1 1-1-1zM7 32l1 1-1 1-1-1zM29 32l1 1-1 1-1-1zM4 33l1 1-1 1-1-1zM30 33l1 1-1 1-1-1zM32 33l1 1-1 1-1-1zM8 35l1 1-1 1-1-1zM34 35l1 1-1 1-1-1zM-1 36l1 1-1 1-1-1zM15 36l1 1-1 1-1-1zM15 38l1 1-1 1-1-1zM25 38l1 1-1 1-1-1zM37 38l1 1-1 1-1-1zM7 40l1 1-1 1-1-1zM29 40l1 1-1 1-1-1zM26 41l1 1-1 1-1-1zM40 41l1 1-1 1-1-1zM44 41l1 1-1 1-1-1zM28 43l1 1-1 1-1-1zM15 44l1 1-1 1-1-1zM37 44l1 1-1 1-1-1zM3 46l1 1-1 1-1-1zM9 46l1 1-1 1-1-1zM17 46l1 1-1 1-1-1zM29 46l1 1-1 1-1-1zM31 46l1 1-1 1-1-1zM24 47l1 1-1 1-1-1zM38 47l1 1-1 1-1-1zM7 48l1 1-1 1-1-1zM13 48l1 1-1 1-1-1zM33 48l1 1-1 1-1-1zM6 49l1 1-1 1-1-1zM20 49l1 1-1 1-1-1zM5 50l1 1-1 1-1-1zM4 51l1 1-1 1-1-1zM12 51l1 1-1 1-1-1zM34 51l1 1-1 1-1-1zM0 53l1 1-1 1-1-1zM30 55l1 1-1 1-1-1zM38 55l1 1-1 1-1-1zM34 57l1 1-1 1-1-1zM-1 58l1 1-1 1-1-1zM8 59l1 1-1 1-1-1zM16 59l1 1-1 1-1-1zM46 59l1 1-1 1-1-1zM-1 60l1 1-1 1-1-1zM8 61l1 1-1 1-1-1zM18 61l1 1-1 1-1-1zM15 62l1 1-1 1-1-1zM4 63l1 1-1 1-1-1zM7 64l1 1-1 1-1-1zM24 65l1 1-1 1-1-1zM33 66l1 1-1 1-1-1zM4 67l1 1-1 1-1-1zM25 68l1 1-1 1-1-1zM39 68l1 1-1 1-1-1zM41 68l1 1-1 1-1-1zM43 68l1 1-1 1-1-1zM9 70l1 1-1 1-1-1zM8 71l1 1-1 1-1-1zM12 71l1 1-1 1-1-1zM16 71l1 1-1 1-1-1zM42 71l1 1-1 1-1-1zM11 72l1 1-1 1-1-1zM17 72l1 1-1 1-1-1zM4 73l1 1-1 1-1-1zM5 74l1 1-1 1-1-1zM41 74l1 1-1 1-1-1z"/><path fill="#242424" d="M39 -8l1 1-1 1-1-1zM6 -7l1 1-1 1-1-1zM41 -6l1 1-1 1-1-1zM8 -3l1 1-1 1-1-1zM3 -2l1 1-1 1-1-1zM41 -2l1 1-1 1-1-1zM43 -2l1 1-1 1-1-1zM6 -1l1 1-1 1-1-1zM34 11l1 1-1 1-1-1zM1 18l1 1-1 1-1-1zM-2 21l1 1-1 1-1-1zM-3 22l1 1-1 1-1-1zM4 23l1 1-1 1-1-1zM44 23l1 1-1 1-1-1zM-1 28l1 1-1 1-1-1zM1 28l1 1-1 1-1-1zM2 29l1 1-1 1-1-1zM36 29l1 1-1 1-1-1zM33 30l1 1-1 1-1-1zM30 31l1 1-1 1-1-1zM3 34l1 1-1 1-1-1zM35 34l1 1-1 1-1-1zM12 35l1 1-1 1-1-1zM-3 36l1 1-1 1-1-1zM3 36l1 1-1 1-1-1zM37 36l1 1-1 1-1-1zM22 37l1 1-1 1-1-1zM-3 38l1 1-1 1-1-1zM45 38l1 1-1 1-1-1zM4 39l1 1-1 1-1-1zM36 39l1 1-1 1-1-1zM11 42l1 1-1 1-1-1zM23 42l1 1-1 1-1-1zM37 42l1 1-1 1-1-1zM17 44l1 1-1 1-1-1zM19 44l1 1-1 1-1-1zM43 44l1 1-1 1-1-1zM42 45l1 1-1 1-1-1zM-1 46l1 1-1 1-1-1zM23 46l1 1-1 1-1-1zM12 47l1 1-1 1-1-1zM36 47l1 1-1 1-1-1zM40 47l1 1-1 1-1-1zM31 48l1 1-1 1-1-1zM10 49l1 1-1 1-1-1zM36 49l1 1-1 1-1-1zM3 50l1 1-1 1-1-1zM43 50l1 1-1 1-1-1zM24 51l1 1-1 1-1-1zM40 51l1 1-1 1-1-1zM47 52l1 1-1 1-1-1zM14 53l1 1-1 1-1-1zM40 53l1 1-1 1-1-1zM42 53l1 1-1 1-1-1zM29 54l1 1-1 1-1-1zM47 54l1 1-1 1-1-1zM42 55l1 1-1 1-1-1zM-1 56l1 1-1 1-1-1zM1 56l1 1-1 1-1-1zM7 56l1 1-1 1-1-1zM17 56l1 1-1 1-1-1zM21 56l1 1-1 1-1-1zM-2 57l1 1-1 1-1-1zM42 57l1 1-1 1-1-1zM5 58l1 1-1 1-1-1zM7 58l1 1-1 1-1-1zM25 58l1 1-1 1-1-1zM34 59l1 1-1 1-1-1zM41 60l1 1-1 1-1-1zM7 62l1 1-1 1-1-1zM21 62l1 1-1 1-1-1zM37 62l1 1-1 1-1-1zM0 63l1 1-1 1-1-1zM6 63l1 1-1 1-1-1zM12 63l1 1-1 1-1-1zM44 63l1 1-1 1-1-1zM-3 64l1 1-1 1-1-1zM1 64l1 1-1 1-1-1zM3 64l1 1-1 1-1-1zM31 64l1 1-1 1-1-1zM39 64l1 1-1 1-1-1zM10 65l1 1-1 1-1-1zM37 66l1 1-1 1-1-1zM36 67l1 1-1 1-1-1zM21 68l1 1-1 1-1-1zM6 69l1 1-1 1-1-1zM24 69l1 1-1 1-1-1zM38 69l1 1-1 1-1-1zM-3 70l1 1-1 1-1-1zM27 70l1 1-1 1-1-1zM4 71l1 1-1 1-1-1zM30 71l1 1-1 1-1-1zM32 71l1 1-1 1-1-1zM45 72l1 1-1 1-1-1zM20 73l1 1-1 1-1-1zM46 73l1 1-1 1-1-1zM-3 74l1 1-1 1-1-1zM11 74l1 1-1 1-1-1zM29 74l1 1-1 1-1-1z"/><path fill="#252525" d="M3 -6l1 1-1 1-1-1zM1 -4l1 1-1 1-1-1zM-2 -3l1 1-1 1-1-1zM0 -3l1 1-1 1-1-1zM-2 -1l1 1-1 1-1-1zM0 -1l1 1-1 1-1-1zM36 -1l1 1-1 1-1-1zM38 -1l1 1-1 1-1-1zM-3 2l1 1-1 1-1-1zM1 2l1 1-1 1-1-1zM6 3l1 1-1 1-1-1zM1 6l1 1-1 1-1-1zM-2 7l1 1-1 1-1-1zM33 12l1 1-1 1-1-1zM0 17l1 1-1 1-1-1zM32 19l1 1-1 1-1-1zM34 19l1 1-1 1-1-1zM42 19l1 1-1 1-1-1zM2 23l1 1-1 1-1-1zM43 24l1 1-1 1-1-1zM-2 27l1 1-1 1-1-1zM2 27l1 1-1 1-1-1zM38 29l1 1-1 1-1-1zM3 30l1 1-1 1-1-1zM27 30l1 1-1 1-1-1zM41 30l1 1-1 1-1-1zM44 31l1 1-1 1-1-1zM31 32l1 1-1 1-1-1zM33 32l1 1-1 1-1-1zM2 33l1 1-1 1-1-1zM38 33l1 1-1 1-1-1zM-3 34l1 1-1 1-1-1zM43 34l1 1-1 1-1-1zM-2 35l1 1-1 1-1-1zM42 35l1 1-1 1-1-1zM39 36l1 1-1 1-1-1zM41 36l1 1-1 1-1-1zM47 36l1 1-1 1-1-1zM-2 37l1 1-1 1-1-1zM3 38l1 1-1 1-1-1zM10 39l1 1-1 1-1-1zM44 39l1 1-1 1-1-1zM3 40l1 1-1 1-1-1zM23 40l1 1-1 1-1-1zM4 41l1 1-1 1-1-1zM24 41l1 1-1 1-1-1zM32 41l1 1-1 1-1-1zM-1 42l1 1-1 1-1-1zM13 42l1 1-1 1-1-1zM33 42l1 1-1 1-1-1zM-2 43l1 1-1 1-1-1zM6 43l1 1-1 1-1-1zM33 44l1 1-1 1-1-1zM39 44l1 1-1 1-1-1zM-2 45l1 1-1 1-1-1zM40 45l1 1-1 1-1-1zM11 46l1 1-1 1-1-1zM27 46l1 1-1 1-1-1zM41 46l1 1-1 1-1-1zM44 47l1 1-1 1-1-1zM-3 48l1 1-1 1-1-1zM5 48l1 1-1 1-1-1zM4 49l1 1-1 1-1-1zM24 49l1 1-1 1-1-1zM15 50l1 1-1 1-1-1zM19 50l1 1-1 1-1-1zM27 50l1 1-1 1-1-1zM31 50l1 1-1 1-1-1zM33 50l1 1-1 1-1-1zM37 50l1 1-1 1-1-1zM41 50l1 1-1 1-1-1zM30 51l1 1-1 1-1-1zM-1 52l1 1-1 1-1-1zM-2 53l1 1-1 1-1-1zM36 53l1 1-1 1-1-1zM1 54l1 1-1 1-1-1zM36 55l1 1-1 1-1-1zM16 57l1 1-1 1-1-1zM20 57l1 1-1 1-1-1zM28 57l1 1-1 1-1-1zM11 58l1 1-1 1-1-1zM15 58l1 1-1 1-1-1zM4 59l1 1-1 1-1-1zM28 59l1 1-1 1-1-1zM45 60l1 1-1 1-1-1zM32 61l1 1-1 1-1-1zM-3 62l1 1-1 1-1-1zM8 63l1 1-1 1-1-1zM22 63l1 1-1 1-1-1zM32 63l1 1-1 1-1-1zM5 64l1 1-1 1-1-1zM17 64l1 1-1 1-1-1zM28 65l1 1-1 1-1-1zM32 65l1 1-1 1-1-1zM5 66l1 1-1 1-1-1zM9 66l1 1-1 1-1-1zM27 66l1 1-1 1-1-1zM35 66l1 1-1 1-1-1zM6 67l1 1-1 1-1-1zM-3 68l1 1-1 1-1-1zM18 69l1 1-1 1-1-1zM44 69l1 1-1 1-1-1zM19 70l1 1-1 1-1-1zM23 70l1 1-1 1-1-1zM33 70l1 1-1 1-1-1zM18 71l1 1-1 1-1-1zM26 71l1 1-1 1-1-1zM9 72l1 1-1 1-1-1zM22 73l1 1-1 1-1-1zM34 73l1 1-1 1-1-1zM-1 74l1 1-1 1-1-1zM3 74l1 1-1 1-1-1z"/><path fill="#262626" d="M47 -8l1 1-1 1-1-1zM42 -5l1 1-1 1-1-1zM37 -4l1 1-1 1-1-1zM36 -3l1 1-1 1-1-1zM-1 4l1 1-1 1-1-1zM35 4l1 1-1 1-1-1zM34 9l1 1-1 1-1-1zM1 10l1 1-1 1-1-1zM35 10l1 1-1 1-1-1zM32 11l1 1-1 1-1-1zM35 16l1 1-1 1-1-1zM38 19l1 1-1 1-1-1zM47 24l1 1-1 1-1-1zM33 26l1 1-1 1-1-1zM35 26l1 1-1 1-1-1zM47 26l1 1-1 1-1-1zM-1 30l1 1-1 1-1-1zM1 32l1 1-1 1-1-1zM5 32l1 1-1 1-1-1zM40 33l1 1-1 1-1-1zM28 35l1 1-1 1-1-1zM32 35l1 1-1 1-1-1zM40 35l1 1-1 1-1-1zM25 36l1 1-1 1-1-1zM33 36l1 1-1 1-1-1zM4 37l1 1-1 1-1-1zM36 37l1 1-1 1-1-1zM37 40l1 1-1 1-1-1zM0 41l1 1-1 1-1-1zM10 41l1 1-1 1-1-1zM36 41l1 1-1 1-1-1zM-3 42l1 1-1 1-1-1zM7 42l1 1-1 1-1-1zM27 42l1 1-1 1-1-1zM31 42l1 1-1 1-1-1zM4 43l1 1-1 1-1-1zM38 43l1 1-1 1-1-1zM46 43l1 1-1 1-1-1zM-1 44l1 1-1 1-1-1zM45 44l1 1-1 1-1-1zM25 46l1 1-1 1-1-1zM26 49l1 1-1 1-1-1zM23 50l1 1-1 1-1-1zM5 52l1 1-1 1-1-1zM22 53l1 1-1 1-1-1zM23 54l1 1-1 1-1-1zM28 55l1 1-1 1-1-1zM2 57l1 1-1 1-1-1zM22 57l1 1-1 1-1-1zM13 58l1 1-1 1-1-1zM35 58l1 1-1 1-1-1zM24 59l1 1-1 1-1-1zM31 60l1 1-1 1-1-1zM37 60l1 1-1 1-1-1zM4 61l1 1-1 1-1-1zM9 62l1 1-1 1-1-1zM35 62l1 1-1 1-1-1zM28 63l1 1-1 1-1-1zM9 64l1 1-1 1-1-1zM-2 65l1 1-1 1-1-1zM26 65l1 1-1 1-1-1zM24 67l1 1-1 1-1-1zM-1 68l1 1-1 1-1-1zM5 68l1 1-1 1-1-1zM35 68l1 1-1 1-1-1zM-2 69l1 1-1 1-1-1zM21 70l1 1-1 1-1-1zM14 71l1 1-1 1-1-1zM22 71l1 1-1 1-1-1zM-1 72l1 1-1 1-1-1zM3 72l1 1-1 1-1-1zM7 74l1 1-1 1-1-1zM21 74l1 1-1 1-1-1zM23 74l1 1-1 1-1-1zM35 74l1 1-1 1-1-1z"/><path fill="#272727" d="M-1 -8l1 1-1 1-1-1zM43 -6l1 1-1 1-1-1zM0 -5l1 1-1 1-1-1zM1 -2l1 1-1 1-1-1zM45 -2l1 1-1 1-1-1zM40 -1l1 1-1 1-1-1zM-1 0l1 1-1 1-1-1zM47 2l1 1-1 1-1-1zM36 5l1 1-1 1-1-1zM-3 6l1 1-1 1-1-1zM35 6l1 1-1 1-1-1zM0 9l1 1-1 1-1-1zM2 9l1 1-1 1-1-1zM-1 10l1 1-1 1-1-1zM-1 14l1 1-1 1-1-1zM35 18l1 1-1 1-1-1zM34 21l1 1-1 1-1-1zM-1 22l1 1-1 1-1-1zM33 22l1 1-1 1-1-1zM37 22l1 1-1 1-1-1zM-1 24l1 1-1 1-1-1zM34 25l1 1-1 1-1-1zM1 26l1 1-1 1-1-1zM8 27l1 1-1 1-1-1zM46 27l1 1-1 1-1-1zM1 30l1 1-1 1-1-1zM38 31l1 1-1 1-1-1zM6 33l1 1-1 1-1-1zM2 35l1 1-1 1-1-1zM22 35l1 1-1 1-1-1zM45 40l1 1-1 1-1-1zM8 41l1 1-1 1-1-1zM14 41l1 1-1 1-1-1zM38 41l1 1-1 1-1-1zM2 43l1 1-1 1-1-1zM-3 44l1 1-1 1-1-1zM9 44l1 1-1 1-1-1zM2 45l1 1-1 1-1-1zM26 47l1 1-1 1-1-1zM30 49l1 1-1 1-1-1zM8 51l1 1-1 1-1-1zM28 51l1 1-1 1-1-1zM33 54l1 1-1 1-1-1zM0 55l1 1-1 1-1-1zM41 56l1 1-1 1-1-1zM18 57l1 1-1 1-1-1zM22 59l1 1-1 1-1-1zM27 60l1 1-1 1-1-1zM28 61l1 1-1 1-1-1zM11 62l1 1-1 1-1-1zM38 65l1 1-1 1-1-1zM44 65l1 1-1 1-1-1zM30 67l1 1-1 1-1-1zM29 68l1 1-1 1-1-1zM22 69l1 1-1 1-1-1zM-1 70l1 1-1 1-1-1zM25 70l1 1-1 1-1-1zM38 71l1 1-1 1-1-1zM13 72l1 1-1 1-1-1zM25 72l1 1-1 1-1-1zM14 73l1 1-1 1-1-1zM30 73l1 1-1 1-1-1zM15 74l1 1-1 1-1-1z"/><path fill="#282828" d="M43 -8l1 1-1 1-1-1zM0 -7l1 1-1 1-1-1zM35 -6l1 1-1 1-1-1zM37 -6l1 1-1 1-1-1zM39 -6l1 1-1 1-1-1zM6 -5l1 1-1 1-1-1zM46 -5l1 1-1 1-1-1zM-3 -2l1 1-1 1-1-1zM-1 -2l1 1-1 1-1-1zM4 -1l1 1-1 1-1-1zM-3 0l1 1-1 1-1-1zM37 0l1 1-1 1-1-1zM43 0l1 1-1 1-1-1zM-3 4l1 1-1 1-1-1zM1 4l1 1-1 1-1-1zM-3 8l1 1-1 1-1-1zM36 9l1 1-1 1-1-1zM32 13l1 1-1 1-1-1zM-2 15l1 1-1 1-1-1zM37 16l1 1-1 1-1-1zM6 17l1 1-1 1-1-1zM38 23l1 1-1 1-1-1zM42 23l1 1-1 1-1-1zM44 25l1 1-1 1-1-1zM35 28l1 1-1 1-1-1zM32 29l1 1-1 1-1-1zM47 32l1 1-1 1-1-1zM-2 33l1 1-1 1-1-1zM44 37l1 1-1 1-1-1zM-1 40l1 1-1 1-1-1zM31 40l1 1-1 1-1-1zM36 43l1 1-1 1-1-1zM3 44l1 1-1 1-1-1zM21 44l1 1-1 1-1-1zM27 44l1 1-1 1-1-1zM41 44l1 1-1 1-1-1zM4 45l1 1-1 1-1-1zM30 45l1 1-1 1-1-1zM30 47l1 1-1 1-1-1zM28 49l1 1-1 1-1-1zM33 52l1 1-1 1-1-1zM44 53l1 1-1 1-1-1zM31 54l1 1-1 1-1-1zM35 56l1 1-1 1-1-1zM24 57l1 1-1 1-1-1zM23 58l1 1-1 1-1-1zM33 58l1 1-1 1-1-1zM37 58l1 1-1 1-1-1zM23 60l1 1-1 1-1-1zM-2 61l1 1-1 1-1-1zM6 61l1 1-1 1-1-1zM24 61l1 1-1 1-1-1zM0 65l1 1-1 1-1-1zM8 65l1 1-1 1-1-1zM15 66l1 1-1 1-1-1zM29 66l1 1-1 1-1-1zM41 66l1 1-1 1-1-1zM9 68l1 1-1 1-1-1zM45 68l1 1-1 1-1-1zM46 69l1 1-1 1-1-1zM3 70l1 1-1 1-1-1zM36 71l1 1-1 1-1-1zM41 72l1 1-1 1-1-1zM12 73l1 1-1 1-1-1z"/><path fill="#292929" d="M41 -8l1 1-1 1-1-1zM-2 -7l1 1-1 1-1-1zM36 -5l1 1-1 1-1-1zM3 -4l1 1-1 1-1-1zM40 -3l1 1-1 1-1-1zM42 -3l1 1-1 1-1-1zM2 1l1 1-1 1-1-1zM37 2l1 1-1 1-1-1zM40 3l1 1-1 1-1-1zM37 12l1 1-1 1-1-1zM34 13l1 1-1 1-1-1zM36 13l1 1-1 1-1-1zM33 16l1 1-1 1-1-1zM37 20l1 1-1 1-1-1zM30 21l1 1-1 1-1-1zM44 21l1 1-1 1-1-1zM35 22l1 1-1 1-1-1zM30 23l1 1-1 1-1-1zM8 25l1 1-1 1-1-1zM43 26l1 1-1 1-1-1zM42 27l1 1-1 1-1-1zM47 34l1 1-1 1-1-1zM24 35l1 1-1 1-1-1zM39 38l1 1-1 1-1-1zM31 44l1 1-1 1-1-1zM35 46l1 1-1 1-1-1zM1 48l1 1-1 1-1-1zM32 51l1 1-1 1-1-1zM7 52l1 1-1 1-1-1zM13 52l1 1-1 1-1-1zM9 54l1 1-1 1-1-1zM34 55l1 1-1 1-1-1zM44 55l1 1-1 1-1-1zM40 57l1 1-1 1-1-1zM19 58l1 1-1 1-1-1zM27 58l1 1-1 1-1-1zM20 59l1 1-1 1-1-1zM32 59l1 1-1 1-1-1zM16 67l1 1-1 1-1-1zM28 67l1 1-1 1-1-1zM26 69l1 1-1 1-1-1zM19 74l1 1-1 1-1-1z"/><path fill="#2a2a2a" d="M45 -8l1 1-1 1-1-1zM45 -6l1 1-1 1-1-1zM38 -5l1 1-1 1-1-1zM45 -4l1 1-1 1-1-1zM37 -2l1 1-1 1-1-1zM41 0l1 1-1 1-1-1zM45 0l1 1-1 1-1-1zM1 14l1 1-1 1-1-1zM34 15l1 1-1 1-1-1zM36 17l1 1-1 1-1-1zM38 17l1 1-1 1-1-1zM39 18l1 1-1 1-1-1zM41 24l1 1-1 1-1-1zM2 25l1 1-1 1-1-1zM36 25l1 1-1 1-1-1zM42 25l1 1-1 1-1-1zM41 26l1 1-1 1-1-1zM40 27l1 1-1 1-1-1zM39 28l1 1-1 1-1-1zM40 29l1 1-1 1-1-1zM2 31l1 1-1 1-1-1zM43 32l1 1-1 1-1-1zM39 34l1 1-1 1-1-1zM6 41l1 1-1 1-1-1zM45 42l1 1-1 1-1-1zM12 43l1 1-1 1-1-1zM44 43l1 1-1 1-1-1zM27 52l1 1-1 1-1-1zM6 59l1 1-1 1-1-1zM12 59l1 1-1 1-1-1zM12 61l1 1-1 1-1-1zM21 72l1 1-1 1-1-1z"/><path fill="#2b2b2b" d="M46 -7l1 1-1 1-1-1zM-1 -6l1 1-1 1-1-1zM-2 -5l1 1-1 1-1-1zM44 1l1 1-1 1-1-1zM36 3l1 1-1 1-1-1zM38 3l1 1-1 1-1-1zM37 4l1 1-1 1-1-1zM0 5l1 1-1 1-1-1zM-1 20l1 1-1 1-1-1zM47 20l1 1-1 1-1-1zM41 22l1 1-1 1-1-1zM40 23l1 1-1 1-1-1zM34 33l1 1-1 1-1-1zM30 41l1 1-1 1-1-1zM10 43l1 1-1 1-1-1zM4 47l1 1-1 1-1-1zM32 49l1 1-1 1-1-1zM2 51l1 1-1 1-1-1zM3 52l1 1-1 1-1-1zM25 54l1 1-1 1-1-1zM36 59l1 1-1 1-1-1zM10 63l1 1-1 1-1-1zM6 65l1 1-1 1-1-1zM31 68l1 1-1 1-1-1zM1 70l1 1-1 1-1-1zM-2 71l1 1-1 1-1-1z"/><path fill="#2c2c2c" d="M43 -4l1 1-1 1-1-1zM4 -3l1 1-1 1-1-1zM44 -3l1 1-1 1-1-1zM36 1l1 1-1 1-1-1zM35 2l1 1-1 1-1-1zM37 8l1 1-1 1-1-1zM-2 11l1 1-1 1-1-1zM33 14l1 1-1 1-1-1zM46 15l1 1-1 1-1-1zM37 18l1 1-1 1-1-1zM33 20l1 1-1 1-1-1zM37 24l1 1-1 1-1-1zM46 25l1 1-1 1-1-1zM37 26l1 1-1 1-1-1zM41 28l1 1-1 1-1-1zM43 28l1 1-1 1-1-1zM-1 32l1 1-1 1-1-1zM39 32l1 1-1 1-1-1zM34 39l1 1-1 1-1-1zM38 45l1 1-1 1-1-1zM18 47l1 1-1 1-1-1zM9 58l1 1-1 1-1-1zM0 69l1 1-1 1-1-1zM27 72l1 1-1 1-1-1z"/><path fill="#2d2d2d" d="M-3 -8l1 1-1 1-1-1zM42 -7l1 1-1 1-1-1zM47 -6l1 1-1 1-1-1zM46 -3l1 1-1 1-1-1zM39 0l1 1-1 1-1-1zM38 1l1 1-1 1-1-1zM39 2l1 1-1 1-1-1zM41 4l1 1-1 1-1-1zM37 10l1 1-1 1-1-1zM42 21l1 1-1 1-1-1zM46 21l1 1-1 1-1-1zM34 23l1 1-1 1-1-1zM38 27l1 1-1 1-1-1zM47 30l1 1-1 1-1-1zM40 31l1 1-1 1-1-1zM41 34l1 1-1 1-1-1zM30 43l1 1-1 1-1-1zM13 66l1 1-1 1-1-1zM34 69l1 1-1 1-1-1zM15 72l1 1-1 1-1-1z"/><path fill="#2e2e2e" d="M6 -3l1 1-1 1-1-1zM42 3l1 1-1 1-1-1zM-1 12l1 1-1 1-1-1zM38 13l1 1-1 1-1-1zM40 17l1 1-1 1-1-1zM31 20l1 1-1 1-1-1zM45 22l1 1-1 1-1-1zM36 23l1 1-1 1-1-1zM35 24l1 1-1 1-1-1zM34 41l1 1-1 1-1-1zM35 48l1 1-1 1-1-1zM29 64l1 1-1 1-1-1zM-2 73l1 1-1 1-1-1z"/><path fill="#2f2f2f" d="M43 2l1 1-1 1-1-1zM41 18l1 1-1 1-1-1zM45 18l1 1-1 1-1-1zM39 20l1 1-1 1-1-1zM40 21l1 1-1 1-1-1zM40 25l1 1-1 1-1-1zM39 26l1 1-1 1-1-1zM45 28l1 1-1 1-1-1zM35 40l1 1-1 1-1-1zM18 73l1 1-1 1-1-1zM13 74l1 1-1 1-1-1z"/><path fill="#303030" d="M47 -2l1 1-1 1-1-1zM46 -1l1 1-1 1-1-1zM45 2l1 1-1 1-1-1zM40 5l1 1-1 1-1-1zM45 12l1 1-1 1-1-1zM41 20l1 1-1 1-1-1zM32 21l1 1-1 1-1-1zM36 21l1 1-1 1-1-1zM38 21l1 1-1 1-1-1zM43 22l1 1-1 1-1-1zM31 24l1 1-1 1-1-1zM39 24l1 1-1 1-1-1zM45 26l1 1-1 1-1-1zM34 27l1 1-1 1-1-1zM36 27l1 1-1 1-1-1zM41 32l1 1-1 1-1-1zM10 51l1 1-1 1-1-1z"/><path fill="#313131" d="M47 0l1 1-1 1-1-1zM42 1l1 1-1 1-1-1zM46 1l1 1-1 1-1-1zM47 4l1 1-1 1-1-1zM46 13l1 1-1 1-1-1zM37 14l1 1-1 1-1-1zM38 15l1 1-1 1-1-1zM44 19l1 1-1 1-1-1zM46 23l1 1-1 1-1-1zM44 27l1 1-1 1-1-1zM33 46l1 1-1 1-1-1z"/><path fill="#323232" d="M39 4l1 1-1 1-1-1zM36 7l1 1-1 1-1-1zM36 11l1 1-1 1-1-1zM39 16l1 1-1 1-1-1zM43 20l1 1-1 1-1-1zM39 22l1 1-1 1-1-1zM32 23l1 1-1 1-1-1z"/><path fill="#333333" d="M46 3l1 1-1 1-1-1zM37 6l1 1-1 1-1-1zM45 16l1 1-1 1-1-1zM43 18l1 1-1 1-1-1zM36 19l1 1-1 1-1-1zM40 19l1 1-1 1-1-1z"/><path fill="#343434" d="M44 3l1 1-1 1-1-1zM45 4l1 1-1 1-1-1zM43 8l1 1-1 1-1-1zM38 9l1 1-1 1-1-1zM40 15l1 1-1 1-1-1zM44 15l1 1-1 1-1-1zM46 17l1 1-1 1-1-1zM46 19l1 1-1 1-1-1z"/><path fill="#353535" d="M47 -4l1 1-1 1-1-1zM46 7l1 1-1 1-1-1zM39 10l1 1-1 1-1-1zM45 10l1 1-1 1-1-1zM39 14l1 1-1 1-1-1zM43 14l1 1-1 1-1-1zM47 14l1 1-1 1-1-1zM42 15l1 1-1 1-1-1zM42 17l1 1-1 1-1-1zM47 22l1 1-1 1-1-1zM35 44l1 1-1 1-1-1z"/><path fill="#363636" d="M42 -1l1 1-1 1-1-1zM42 5l1 1-1 1-1-1zM47 6l1 1-1 1-1-1zM43 16l1 1-1 1-1-1z"/><path fill="#373737" d="M47 12l1 1-1 1-1-1zM44 13l1 1-1 1-1-1zM45 20l1 1-1 1-1-1zM38 25l1 1-1 1-1-1z"/><path fill="#383838" d="M46 5l1 1-1 1-1-1zM38 11l1 1-1 1-1-1z"/><path fill="#393939" d="M38 5l1 1-1 1-1-1zM44 5l1 1-1 1-1-1zM42 9l1 1-1 1-1-1zM45 14l1 1-1 1-1-1zM41 16l1 1-1 1-1-1zM47 16l1 1-1 1-1-1z"/><path fill="#3a3a3a" d="M39 12l1 1-1 1-1-1z"/><path fill="#3b3b3b" d="M38 7l1 1-1 1-1-1zM42 7l1 1-1 1-1-1zM47 8l1 1-1 1-1-1zM40 11l1 1-1 1-1-1zM47 18l1 1-1 1-1-1z"/><path fill="#3c3c3c" d="M39 6l1 1-1 1-1-1zM45 8l1 1-1 1-1-1zM44 11l1 1-1 1-1-1z"/><path fill="#3d3d3d" d="M29 0l1 1-1 1-1-1zM41 6l1 1-1 1-1-1zM40 7l1 1-1 1-1-1zM44 7l1 1-1 1-1-1zM47 10l1 1-1 1-1-1zM31 22l1 1-1 1-1-1z"/><path fill="#3e3e3e" d="M43 4l1 1-1 1-1-1zM45 6l1 1-1 1-1-1zM39 8l1 1-1 1-1-1zM40 9l1 1-1 1-1-1zM46 11l1 1-1 1-1-1zM41 12l1 1-1 1-1-1zM41 14l1 1-1 1-1-1z"/><path fill="#3f3f3f" d="M41 10l1 1-1 1-1-1zM44 17l1 1-1 1-1-1z"/><path fill="#404040" d="M41 8l1 1-1 1-1-1zM40 13l1 1-1 1-1-1zM42 13l1 1-1 1-1-1zM35 42l1 1-1 1-1-1z"/><path fill="#414141" d="M43 6l1 1-1 1-1-1zM42 11l1 1-1 1-1-1z"/><path fill="#434343" d="M46 9l1 1-1 1-1-1z"/><path fill="#444444" d="M44 9l1 1-1 1-1-1z"/><path fill="#464646" d="M43 12l1 1-1 1-1-1z"/><path fill="#494949" d="M43 10l1 1-1 1-1-1z"/><path fill="#5c5c5c" d="M29 12l1 1-1 1-1-1z"/><path fill="#5f5f5f" d="M29 14l1 1-1 1-1-1z"/><path fill="#656565" d="M31 12l1 1-1 1-1-1zM31 14l1 1-1 1-1-1z"/><path fill="#c7c7c7" d="M30 13l1 1-1 1-1-1z"/></g>
</g>

</g>
<rect x="121.6" y="715.0" width="538.9" height="472.4" fill="none" stroke="#222" stroke-width="1.1"/>
<path d="M119.0 1166.3h2.6M116.6 1124.6h5.0M119.0 1082.9h2.6M116.6 1041.2h5.0M119.0 999.5h2.6M116.6 957.8h5.0M119.0 916.0h2.6M116.6 874.3h5.0M119.0 832.6h2.6M116.6 790.9h5.0M119.0 749.2h2.6M148.5 1187.4v2.6M183.7 1187.4v5.0M219.0 1187.4v2.6M254.3 1187.4v5.0M289.6 1187.4v2.6M324.8 1187.4v5.0M360.1 1187.4v2.6M395.4 1187.4v5.0M430.7 1187.4v2.6M465.9 1187.4v5.0M501.2 1187.4v2.6M536.5 1187.4v5.0M571.8 1187.4v2.6M607.0 1187.4v5.0M642.3 1187.4v2.6" stroke="#222" stroke-width="1.1" fill="none"/>
<text class="tk" transform="translate(112.0 1134.0) scale(1.000 1.040)" text-anchor="end">-1000</text>
<text class="tk" transform="translate(112.0 1050.6) scale(1.000 1.040)" text-anchor="end">-500</text>
<text class="tk" transform="translate(112.0 967.1) scale(1.000 1.040)" text-anchor="end">0</text>
<text class="tk" transform="translate(112.0 883.7) scale(1.000 1.040)" text-anchor="end">500</text>
<text class="tk" transform="translate(112.0 800.3) scale(1.000 1.040)" text-anchor="end">1000</text>
<text class="tk" transform="translate(254.0 1219.8) scale(1.000 1.040)" text-anchor="middle">-1000</text>
<text class="tk" transform="translate(395.1 1219.8) scale(1.000 1.040)" text-anchor="middle">0</text>
<text class="tk" transform="translate(536.2 1219.8) scale(1.000 1.040)" text-anchor="middle">1000</text>
<text class="ax" transform="translate(391.4 1267.8) scale(1.048 1.040)" text-anchor="middle">Distance along X axis/µm</text>
<text class="ax" transform="translate(23.5 951.7) rotate(-90) scale(1.048 1.040)" text-anchor="middle">Distance along Y axis/µm</text>
<text class="tt" transform="translate(129.8 705.2) scale(1.000 1.012)">c<tspan font-weight="normal">)</tspan> 1 min</text>
<text class="jz" transform="translate(667.6 693.8) scale(1.070 1.040)"><tspan font-style="italic">j</tspan><tspan font-size="26px" dx="-0.3" dy="6.6">Z</tspan><tspan dx="0" dy="-6.6"> (µA cm</tspan><tspan font-size="23px" dx="1.2" dy="-9.6">−2</tspan><tspan dx="0.8" dy="9.6">)</tspan></text>
<rect x="747.4" y="714.5" width="22.9" height="4.6" fill="#808080"/>
<rect x="747.4" y="719.0" width="22.9" height="463.6" fill="url(#cbg)"/>
<rect x="747.4" y="1182.5" width="22.9" height="4.5" fill="#000"/>
<path d="M770.3 714.5V1187.0" stroke="#666" stroke-width="0.8" fill="none"/>
<text class="cb" transform="translate(787.5 772.4) scale(1.020 1.040)">4</text>
<text class="cb" transform="translate(787.5 871.7) scale(1.020 1.040)">2</text>
<text class="cb" transform="translate(787.5 967.6) scale(1.020 1.040)">0</text>
<text class="cb" transform="translate(787.5 1065.0) scale(1.020 1.040)">-2</text>
<text class="cb" transform="translate(787.5 1162.2) scale(1.020 1.040)">-4</text>
<path d="M770.3 761.1h5M770.3 860.4h5M770.3 956.3h5M770.3 1053.7h5M770.3 1150.9h5" stroke="#333" stroke-width="1" fill="none"/>
</g>
<g id="panel-d">
<g clip-path="url(#cld)"><g filter="url(#fd)">
<g transform="translate(1018.40 715.30) scale(12.0318 6.9544)"><rect x="-4" y="-8" width="52" height="84" fill="#2d2d2d"/><path fill="#060606" d="M10 27l1 1-1 1-1-1z"/><path fill="#070707" d="M14 51l1 1-1 1-1-1z"/><path fill="#090909" d="M14 23l1 1-1 1-1-1zM17 28l1 1-1 1-1-1zM30 43l1 1-1 1-1-1z"/><path fill="#0a0a0a" d="M25 6l1 1-1 1-1-1zM22 7l1 1-1 1-1-1z"/><path fill="#0b0b0b" d="M23 0l1 1-1 1-1-1zM21 50l1 1-1 1-1-1z"/><path fill="#0c0c0c" d="M23 4l1 1-1 1-1-1zM1 22l1 1-1 1-1-1zM14 55l1 1-1 1-1-1z"/><path fill="#0d0d0d" d="M10 -5l1 1-1 1-1-1zM42 19l1 1-1 1-1-1zM18 55l1 1-1 1-1-1z"/><path fill="#0e0e0e" d="M31 36l1 1-1 1-1-1zM27 42l1 1-1 1-1-1zM8 47l1 1-1 1-1-1z"/><path fill="#0f0f0f" d="M15 -6l1 1-1 1-1-1zM34 -5l1 1-1 1-1-1zM14 15l1 1-1 1-1-1zM30 15l1 1-1 1-1-1z"/><path fill="#101010" d="M32 -7l1 1-1 1-1-1zM7 2l1 1-1 1-1-1zM10 9l1 1-1 1-1-1zM16 9l1 1-1 1-1-1zM31 18l1 1-1 1-1-1zM14 25l1 1-1 1-1-1zM5 26l1 1-1 1-1-1zM13 26l1 1-1 1-1-1zM30 37l1 1-1 1-1-1zM4 45l1 1-1 1-1-1zM41 48l1 1-1 1-1-1zM-3 72l1 1-1 1-1-1z"/><path fill="#111111" d="M14 -7l1 1-1 1-1-1zM24 -3l1 1-1 1-1-1zM17 -2l1 1-1 1-1-1zM-1 4l1 1-1 1-1-1zM41 38l1 1-1 1-1-1zM15 46l1 1-1 1-1-1zM21 52l1 1-1 1-1-1z"/><path fill="#121212" d="M21 8l1 1-1 1-1-1zM44 31l1 1-1 1-1-1zM45 42l1 1-1 1-1-1zM44 45l1 1-1 1-1-1zM28 47l1 1-1 1-1-1z"/><path fill="#131313" d="M4 -1l1 1-1 1-1-1zM40 7l1 1-1 1-1-1zM20 11l1 1-1 1-1-1zM15 18l1 1-1 1-1-1zM3 22l1 1-1 1-1-1zM21 32l1 1-1 1-1-1zM12 43l1 1-1 1-1-1zM18 47l1 1-1 1-1-1z"/><path fill="#141414" d="M14 3l1 1-1 1-1-1zM4 17l1 1-1 1-1-1zM17 20l1 1-1 1-1-1zM27 24l1 1-1 1-1-1zM21 34l1 1-1 1-1-1zM18 35l1 1-1 1-1-1zM44 43l1 1-1 1-1-1zM9 48l1 1-1 1-1-1zM15 70l1 1-1 1-1-1z"/><path fill="#151515" d="M41 -2l1 1-1 1-1-1zM18 -1l1 1-1 1-1-1zM21 4l1 1-1 1-1-1zM20 13l1 1-1 1-1-1zM17 32l1 1-1 1-1-1zM39 34l1 1-1 1-1-1zM15 40l1 1-1 1-1-1zM2 49l1 1-1 1-1-1zM19 74l1 1-1 1-1-1z"/><path fill="#161616" d="M11 -6l1 1-1 1-1-1zM46 -5l1 1-1 1-1-1zM33 -4l1 1-1 1-1-1zM41 -4l1 1-1 1-1-1zM23 2l1 1-1 1-1-1zM22 9l1 1-1 1-1-1zM44 9l1 1-1 1-1-1zM21 14l1 1-1 1-1-1zM47 18l1 1-1 1-1-1zM23 26l1 1-1 1-1-1zM11 28l1 1-1 1-1-1zM9 56l1 1-1 1-1-1z"/><path fill="#171717" d="M32 -5l1 1-1 1-1-1zM7 -4l1 1-1 1-1-1zM4 -3l1 1-1 1-1-1zM14 1l1 1-1 1-1-1zM10 7l1 1-1 1-1-1zM9 8l1 1-1 1-1-1zM0 9l1 1-1 1-1-1zM12 11l1 1-1 1-1-1zM46 13l1 1-1 1-1-1zM25 14l1 1-1 1-1-1zM7 16l1 1-1 1-1-1zM39 32l1 1-1 1-1-1zM32 39l1 1-1 1-1-1zM33 40l1 1-1 1-1-1zM45 40l1 1-1 1-1-1zM45 50l1 1-1 1-1-1zM4 51l1 1-1 1-1-1zM11 62l1 1-1 1-1-1zM42 69l1 1-1 1-1-1z"/><path fill="#181818" d="M1 -6l1 1-1 1-1-1zM40 -1l1 1-1 1-1-1zM25 0l1 1-1 1-1-1zM45 2l1 1-1 1-1-1zM17 8l1 1-1 1-1-1zM1 14l1 1-1 1-1-1zM16 33l1 1-1 1-1-1zM20 33l1 1-1 1-1-1zM4 41l1 1-1 1-1-1zM8 49l1 1-1 1-1-1zM18 53l1 1-1 1-1-1zM32 53l1 1-1 1-1-1zM41 60l1 1-1 1-1-1z"/><path fill="#191919" d="M41 -6l1 1-1 1-1-1zM9 2l1 1-1 1-1-1zM-2 3l1 1-1 1-1-1zM6 5l1 1-1 1-1-1zM9 10l1 1-1 1-1-1zM23 10l1 1-1 1-1-1zM15 16l1 1-1 1-1-1zM22 25l1 1-1 1-1-1zM25 26l1 1-1 1-1-1zM29 34l1 1-1 1-1-1zM31 34l1 1-1 1-1-1zM10 37l1 1-1 1-1-1zM7 44l1 1-1 1-1-1zM15 48l1 1-1 1-1-1zM12 51l1 1-1 1-1-1zM13 52l1 1-1 1-1-1zM12 67l1 1-1 1-1-1zM20 73l1 1-1 1-1-1z"/><path fill="#1a1a1a" d="M14 -1l1 1-1 1-1-1zM32 -1l1 1-1 1-1-1zM40 1l1 1-1 1-1-1zM44 1l1 1-1 1-1-1zM47 4l1 1-1 1-1-1zM13 14l1 1-1 1-1-1zM29 14l1 1-1 1-1-1zM33 18l1 1-1 1-1-1zM22 21l1 1-1 1-1-1zM12 23l1 1-1 1-1-1zM6 27l1 1-1 1-1-1zM16 29l1 1-1 1-1-1zM15 30l1 1-1 1-1-1zM26 31l1 1-1 1-1-1zM9 34l1 1-1 1-1-1zM23 34l1 1-1 1-1-1zM37 34l1 1-1 1-1-1zM-2 35l1 1-1 1-1-1zM27 38l1 1-1 1-1-1zM12 39l1 1-1 1-1-1zM7 40l1 1-1 1-1-1zM38 47l1 1-1 1-1-1zM44 47l1 1-1 1-1-1zM19 50l1 1-1 1-1-1zM28 59l1 1-1 1-1-1zM19 60l1 1-1 1-1-1zM17 62l1 1-1 1-1-1zM7 74l1 1-1 1-1-1z"/><path fill="#1b1b1b" d="M16 -1l1 1-1 1-1-1zM17 0l1 1-1 1-1-1zM19 6l1 1-1 1-1-1zM12 7l1 1-1 1-1-1zM47 8l1 1-1 1-1-1zM33 10l1 1-1 1-1-1zM22 11l1 1-1 1-1-1zM29 12l1 1-1 1-1-1zM35 14l1 1-1 1-1-1zM10 15l1 1-1 1-1-1zM34 15l1 1-1 1-1-1zM40 17l1 1-1 1-1-1zM13 22l1 1-1 1-1-1zM31 22l1 1-1 1-1-1zM8 23l1 1-1 1-1-1zM12 25l1 1-1 1-1-1zM38 25l1 1-1 1-1-1zM39 26l1 1-1 1-1-1zM18 31l1 1-1 1-1-1zM0 33l1 1-1 1-1-1zM37 42l1 1-1 1-1-1zM42 49l1 1-1 1-1-1zM13 54l1 1-1 1-1-1zM46 59l1 1-1 1-1-1zM18 63l1 1-1 1-1-1zM14 65l1 1-1 1-1-1zM11 68l1 1-1 1-1-1zM43 68l1 1-1 1-1-1zM23 70l1 1-1 1-1-1z"/><path fill="#1c1c1c" d="M46 -7l1 1-1 1-1-1zM21 -6l1 1-1 1-1-1zM32 -3l1 1-1 1-1-1zM37 0l1 1-1 1-1-1zM-1 6l1 1-1 1-1-1zM24 9l1 1-1 1-1-1zM13 10l1 1-1 1-1-1zM21 10l1 1-1 1-1-1zM34 11l1 1-1 1-1-1zM-3 12l1 1-1 1-1-1zM19 12l1 1-1 1-1-1zM23 12l1 1-1 1-1-1zM20 15l1 1-1 1-1-1zM17 16l1 1-1 1-1-1zM4 19l1 1-1 1-1-1zM29 20l1 1-1 1-1-1zM18 21l1 1-1 1-1-1zM17 22l1 1-1 1-1-1zM16 27l1 1-1 1-1-1zM26 27l1 1-1 1-1-1zM18 29l1 1-1 1-1-1zM42 31l1 1-1 1-1-1zM7 38l1 1-1 1-1-1zM10 41l1 1-1 1-1-1zM9 46l1 1-1 1-1-1zM16 49l1 1-1 1-1-1zM40 49l1 1-1 1-1-1zM26 51l1 1-1 1-1-1zM-3 52l1 1-1 1-1-1zM3 62l1 1-1 1-1-1zM31 64l1 1-1 1-1-1zM47 68l1 1-1 1-1-1zM14 69l1 1-1 1-1-1zM25 70l1 1-1 1-1-1z"/><path fill="#1d1d1d" d="M9 -8l1 1-1 1-1-1zM13 -8l1 1-1 1-1-1zM40 -7l1 1-1 1-1-1zM2 -5l1 1-1 1-1-1zM10 -3l1 1-1 1-1-1zM32 1l1 1-1 1-1-1zM-1 2l1 1-1 1-1-1zM21 6l1 1-1 1-1-1zM25 12l1 1-1 1-1-1zM27 14l1 1-1 1-1-1zM25 20l1 1-1 1-1-1zM38 21l1 1-1 1-1-1zM17 24l1 1-1 1-1-1zM29 24l1 1-1 1-1-1zM10 25l1 1-1 1-1-1zM24 29l1 1-1 1-1-1zM5 30l1 1-1 1-1-1zM45 32l1 1-1 1-1-1zM7 34l1 1-1 1-1-1zM22 39l1 1-1 1-1-1zM23 40l1 1-1 1-1-1zM4 43l1 1-1 1-1-1zM22 49l1 1-1 1-1-1zM1 54l1 1-1 1-1-1z"/><path fill="#1e1e1e" d="M24 -1l1 1-1 1-1-1zM37 8l1 1-1 1-1-1zM7 10l1 1-1 1-1-1zM25 10l1 1-1 1-1-1zM28 11l1 1-1 1-1-1zM42 11l1 1-1 1-1-1zM12 13l1 1-1 1-1-1zM5 14l1 1-1 1-1-1zM15 14l1 1-1 1-1-1zM16 15l1 1-1 1-1-1zM5 16l1 1-1 1-1-1zM7 18l1 1-1 1-1-1zM17 18l1 1-1 1-1-1zM47 22l1 1-1 1-1-1zM18 23l1 1-1 1-1-1zM-2 31l1 1-1 1-1-1zM11 32l1 1-1 1-1-1zM20 35l1 1-1 1-1-1zM47 36l1 1-1 1-1-1zM44 37l1 1-1 1-1-1zM6 39l1 1-1 1-1-1zM13 40l1 1-1 1-1-1zM19 40l1 1-1 1-1-1zM43 40l1 1-1 1-1-1zM0 49l1 1-1 1-1-1zM6 51l1 1-1 1-1-1zM22 51l1 1-1 1-1-1zM10 53l1 1-1 1-1-1zM37 56l1 1-1 1-1-1zM30 57l1 1-1 1-1-1zM9 58l1 1-1 1-1-1zM8 61l1 1-1 1-1-1zM20 65l1 1-1 1-1-1zM13 66l1 1-1 1-1-1zM24 67l1 1-1 1-1-1zM27 70l1 1-1 1-1-1zM10 71l1 1-1 1-1-1z"/><path fill="#1f1f1f" d="M13 -6l1 1-1 1-1-1zM45 -6l1 1-1 1-1-1zM15 -4l1 1-1 1-1-1zM16 -3l1 1-1 1-1-1zM27 -2l1 1-1 1-1-1zM29 0l1 1-1 1-1-1zM22 1l1 1-1 1-1-1zM43 10l1 1-1 1-1-1zM6 11l1 1-1 1-1-1zM44 11l1 1-1 1-1-1zM28 15l1 1-1 1-1-1zM6 19l1 1-1 1-1-1zM2 21l1 1-1 1-1-1zM4 21l1 1-1 1-1-1zM40 21l1 1-1 1-1-1zM21 22l1 1-1 1-1-1zM21 24l1 1-1 1-1-1zM20 29l1 1-1 1-1-1zM11 30l1 1-1 1-1-1zM17 30l1 1-1 1-1-1zM35 34l1 1-1 1-1-1zM8 35l1 1-1 1-1-1zM21 36l1 1-1 1-1-1zM14 37l1 1-1 1-1-1zM1 38l1 1-1 1-1-1zM17 38l1 1-1 1-1-1zM44 39l1 1-1 1-1-1zM39 44l1 1-1 1-1-1zM12 47l1 1-1 1-1-1zM5 48l1 1-1 1-1-1zM37 50l1 1-1 1-1-1zM6 53l1 1-1 1-1-1zM10 55l1 1-1 1-1-1zM8 63l1 1-1 1-1-1zM22 63l1 1-1 1-1-1zM34 63l1 1-1 1-1-1zM16 71l1 1-1 1-1-1zM19 72l1 1-1 1-1-1z"/><path fill="#202020" d="M47 -2l1 1-1 1-1-1zM7 0l1 1-1 1-1-1zM12 1l1 1-1 1-1-1zM32 5l1 1-1 1-1-1zM13 6l1 1-1 1-1-1zM36 11l1 1-1 1-1-1zM5 18l1 1-1 1-1-1zM9 26l1 1-1 1-1-1zM7 30l1 1-1 1-1-1zM47 32l1 1-1 1-1-1zM24 33l1 1-1 1-1-1zM6 35l1 1-1 1-1-1zM9 36l1 1-1 1-1-1zM18 37l1 1-1 1-1-1zM21 38l1 1-1 1-1-1zM40 39l1 1-1 1-1-1zM18 41l1 1-1 1-1-1zM19 42l1 1-1 1-1-1zM8 43l1 1-1 1-1-1zM47 44l1 1-1 1-1-1zM34 45l1 1-1 1-1-1zM40 47l1 1-1 1-1-1zM46 47l1 1-1 1-1-1zM29 48l1 1-1 1-1-1zM13 50l1 1-1 1-1-1zM15 56l1 1-1 1-1-1zM6 57l1 1-1 1-1-1zM19 58l1 1-1 1-1-1zM2 59l1 1-1 1-1-1zM4 63l1 1-1 1-1-1zM13 70l1 1-1 1-1-1zM17 70l1 1-1 1-1-1z"/><path fill="#212121" d="M25 -8l1 1-1 1-1-1zM28 -3l1 1-1 1-1-1zM28 -1l1 1-1 1-1-1zM17 2l1 1-1 1-1-1zM32 3l1 1-1 1-1-1zM3 4l1 1-1 1-1-1zM35 6l1 1-1 1-1-1zM29 8l1 1-1 1-1-1zM35 10l1 1-1 1-1-1zM46 11l1 1-1 1-1-1zM13 12l1 1-1 1-1-1zM21 16l1 1-1 1-1-1zM25 24l1 1-1 1-1-1zM11 26l1 1-1 1-1-1zM3 32l1 1-1 1-1-1zM24 35l1 1-1 1-1-1zM-1 36l1 1-1 1-1-1zM1 36l1 1-1 1-1-1zM39 38l1 1-1 1-1-1zM43 38l1 1-1 1-1-1zM45 44l1 1-1 1-1-1zM28 45l1 1-1 1-1-1zM5 46l1 1-1 1-1-1zM7 46l1 1-1 1-1-1zM17 46l1 1-1 1-1-1zM6 47l1 1-1 1-1-1zM32 47l1 1-1 1-1-1zM21 48l1 1-1 1-1-1zM-3 50l1 1-1 1-1-1zM7 50l1 1-1 1-1-1zM1 52l1 1-1 1-1-1zM-1 54l1 1-1 1-1-1zM4 57l1 1-1 1-1-1zM9 60l1 1-1 1-1-1zM14 63l1 1-1 1-1-1zM35 66l1 1-1 1-1-1zM14 71l1 1-1 1-1-1zM29 74l1 1-1 1-1-1z"/><path fill="#222222" d="M15 -8l1 1-1 1-1-1zM25 -6l1 1-1 1-1-1zM12 -5l1 1-1 1-1-1zM11 -2l1 1-1 1-1-1zM13 -2l1 1-1 1-1-1zM21 0l1 1-1 1-1-1zM14 5l1 1-1 1-1-1zM22 5l1 1-1 1-1-1zM28 5l1 1-1 1-1-1zM-2 9l1 1-1 1-1-1zM2 9l1 1-1 1-1-1zM15 12l1 1-1 1-1-1zM21 12l1 1-1 1-1-1zM0 13l1 1-1 1-1-1zM-1 20l1 1-1 1-1-1zM7 22l1 1-1 1-1-1zM13 24l1 1-1 1-1-1zM18 25l1 1-1 1-1-1zM20 27l1 1-1 1-1-1zM7 28l1 1-1 1-1-1zM22 29l1 1-1 1-1-1zM44 35l1 1-1 1-1-1zM12 37l1 1-1 1-1-1zM42 37l1 1-1 1-1-1zM37 38l1 1-1 1-1-1zM17 40l1 1-1 1-1-1zM3 42l1 1-1 1-1-1zM15 42l1 1-1 1-1-1zM17 42l1 1-1 1-1-1zM30 45l1 1-1 1-1-1zM19 46l1 1-1 1-1-1zM14 49l1 1-1 1-1-1zM5 50l1 1-1 1-1-1zM15 50l1 1-1 1-1-1zM45 52l1 1-1 1-1-1zM47 54l1 1-1 1-1-1zM25 58l1 1-1 1-1-1zM14 59l1 1-1 1-1-1zM18 59l1 1-1 1-1-1zM23 60l1 1-1 1-1-1zM13 64l1 1-1 1-1-1zM35 64l1 1-1 1-1-1zM16 65l1 1-1 1-1-1zM40 65l1 1-1 1-1-1zM19 66l1 1-1 1-1-1zM-3 70l1 1-1 1-1-1zM-2 73l1 1-1 1-1-1zM10 73l1 1-1 1-1-1z"/><path fill="#232323" d="M29 -8l1 1-1 1-1-1zM22 -7l1 1-1 1-1-1zM36 -7l1 1-1 1-1-1zM17 -6l1 1-1 1-1-1zM31 -4l1 1-1 1-1-1zM26 -3l1 1-1 1-1-1zM3 0l1 1-1 1-1-1zM18 1l1 1-1 1-1-1zM34 1l1 1-1 1-1-1zM3 6l1 1-1 1-1-1zM31 8l1 1-1 1-1-1zM29 10l1 1-1 1-1-1zM28 13l1 1-1 1-1-1zM37 14l1 1-1 1-1-1zM32 15l1 1-1 1-1-1zM14 17l1 1-1 1-1-1zM29 30l1 1-1 1-1-1zM41 34l1 1-1 1-1-1zM2 35l1 1-1 1-1-1zM14 35l1 1-1 1-1-1zM43 36l1 1-1 1-1-1zM5 40l1 1-1 1-1-1zM2 43l1 1-1 1-1-1zM13 44l1 1-1 1-1-1zM19 48l1 1-1 1-1-1zM31 48l1 1-1 1-1-1zM4 53l1 1-1 1-1-1zM22 53l1 1-1 1-1-1zM35 54l1 1-1 1-1-1zM1 56l1 1-1 1-1-1zM-2 57l1 1-1 1-1-1zM32 65l1 1-1 1-1-1zM42 67l1 1-1 1-1-1zM-2 69l1 1-1 1-1-1zM8 69l1 1-1 1-1-1zM15 72l1 1-1 1-1-1z"/><path fill="#242424" d="M1 -8l1 1-1 1-1-1zM27 -8l1 1-1 1-1-1zM35 -8l1 1-1 1-1-1zM37 -6l1 1-1 1-1-1zM0 -5l1 1-1 1-1-1zM44 -5l1 1-1 1-1-1zM17 -4l1 1-1 1-1-1zM21 -4l1 1-1 1-1-1zM31 -2l1 1-1 1-1-1zM12 -1l1 1-1 1-1-1zM20 -1l1 1-1 1-1-1zM2 1l1 1-1 1-1-1zM30 5l1 1-1 1-1-1zM15 8l1 1-1 1-1-1zM23 8l1 1-1 1-1-1zM16 11l1 1-1 1-1-1zM24 11l1 1-1 1-1-1zM11 12l1 1-1 1-1-1zM10 17l1 1-1 1-1-1zM21 18l1 1-1 1-1-1zM14 19l1 1-1 1-1-1zM13 20l1 1-1 1-1-1zM19 20l1 1-1 1-1-1zM32 21l1 1-1 1-1-1zM30 23l1 1-1 1-1-1zM7 24l1 1-1 1-1-1zM9 24l1 1-1 1-1-1zM26 25l1 1-1 1-1-1zM-2 27l1 1-1 1-1-1zM10 29l1 1-1 1-1-1zM13 32l1 1-1 1-1-1zM40 33l1 1-1 1-1-1zM42 33l1 1-1 1-1-1zM1 34l1 1-1 1-1-1zM-3 38l1 1-1 1-1-1zM2 39l1 1-1 1-1-1zM21 40l1 1-1 1-1-1zM39 40l1 1-1 1-1-1zM43 42l1 1-1 1-1-1zM21 44l1 1-1 1-1-1zM17 48l1 1-1 1-1-1zM12 49l1 1-1 1-1-1zM12 55l1 1-1 1-1-1zM25 56l1 1-1 1-1-1zM30 59l1 1-1 1-1-1zM25 60l1 1-1 1-1-1zM6 61l1 1-1 1-1-1zM40 63l1 1-1 1-1-1zM6 69l1 1-1 1-1-1zM21 70l1 1-1 1-1-1zM41 70l1 1-1 1-1-1z"/><path fill="#252525" d="M10 -7l1 1-1 1-1-1zM30 -7l1 1-1 1-1-1zM16 -5l1 1-1 1-1-1zM24 -5l1 1-1 1-1-1zM42 -5l1 1-1 1-1-1zM29 -2l1 1-1 1-1-1zM10 -1l1 1-1 1-1-1zM22 -1l1 1-1 1-1-1zM45 0l1 1-1 1-1-1zM1 2l1 1-1 1-1-1zM22 3l1 1-1 1-1-1zM11 4l1 1-1 1-1-1zM20 5l1 1-1 1-1-1zM-3 6l1 1-1 1-1-1zM23 6l1 1-1 1-1-1zM4 7l1 1-1 1-1-1zM8 9l1 1-1 1-1-1zM12 9l1 1-1 1-1-1zM15 10l1 1-1 1-1-1zM10 11l1 1-1 1-1-1zM22 15l1 1-1 1-1-1zM25 16l1 1-1 1-1-1zM35 18l1 1-1 1-1-1zM16 19l1 1-1 1-1-1zM28 19l1 1-1 1-1-1zM23 22l1 1-1 1-1-1zM24 25l1 1-1 1-1-1zM17 26l1 1-1 1-1-1zM47 26l1 1-1 1-1-1zM24 27l1 1-1 1-1-1zM42 27l1 1-1 1-1-1zM31 28l1 1-1 1-1-1zM6 29l1 1-1 1-1-1zM-1 30l1 1-1 1-1-1zM9 30l1 1-1 1-1-1zM37 30l1 1-1 1-1-1zM16 31l1 1-1 1-1-1zM-2 33l1 1-1 1-1-1zM4 33l1 1-1 1-1-1zM28 33l1 1-1 1-1-1zM46 33l1 1-1 1-1-1zM45 34l1 1-1 1-1-1zM47 34l1 1-1 1-1-1zM47 38l1 1-1 1-1-1zM10 39l1 1-1 1-1-1zM14 39l1 1-1 1-1-1zM8 41l1 1-1 1-1-1zM26 41l1 1-1 1-1-1zM33 44l1 1-1 1-1-1zM10 51l1 1-1 1-1-1zM18 51l1 1-1 1-1-1zM20 53l1 1-1 1-1-1zM46 53l1 1-1 1-1-1zM-1 56l1 1-1 1-1-1zM29 56l1 1-1 1-1-1zM40 57l1 1-1 1-1-1zM1 60l1 1-1 1-1-1zM9 62l1 1-1 1-1-1zM1 72l1 1-1 1-1-1z"/><path fill="#262626" d="M39 -8l1 1-1 1-1-1zM44 -7l1 1-1 1-1-1zM9 -6l1 1-1 1-1-1zM-1 -4l1 1-1 1-1-1zM5 -4l1 1-1 1-1-1zM38 -1l1 1-1 1-1-1zM5 0l1 1-1 1-1-1zM24 1l1 1-1 1-1-1zM38 3l1 1-1 1-1-1zM-2 5l1 1-1 1-1-1zM4 5l1 1-1 1-1-1zM10 5l1 1-1 1-1-1zM17 6l1 1-1 1-1-1zM41 6l1 1-1 1-1-1zM43 6l1 1-1 1-1-1zM-3 8l1 1-1 1-1-1zM33 8l1 1-1 1-1-1zM46 9l1 1-1 1-1-1zM-3 10l1 1-1 1-1-1zM17 10l1 1-1 1-1-1zM37 10l1 1-1 1-1-1zM1 12l1 1-1 1-1-1zM2 13l1 1-1 1-1-1zM18 13l1 1-1 1-1-1zM40 15l1 1-1 1-1-1zM18 17l1 1-1 1-1-1zM13 18l1 1-1 1-1-1zM24 23l1 1-1 1-1-1zM4 25l1 1-1 1-1-1zM46 25l1 1-1 1-1-1zM19 26l1 1-1 1-1-1zM22 27l1 1-1 1-1-1zM-3 28l1 1-1 1-1-1zM9 28l1 1-1 1-1-1zM6 31l1 1-1 1-1-1zM22 31l1 1-1 1-1-1zM24 31l1 1-1 1-1-1zM5 32l1 1-1 1-1-1zM6 33l1 1-1 1-1-1zM10 35l1 1-1 1-1-1zM45 36l1 1-1 1-1-1zM24 37l1 1-1 1-1-1zM3 40l1 1-1 1-1-1zM11 40l1 1-1 1-1-1zM14 41l1 1-1 1-1-1zM28 41l1 1-1 1-1-1zM44 41l1 1-1 1-1-1zM31 42l1 1-1 1-1-1zM28 43l1 1-1 1-1-1zM12 45l1 1-1 1-1-1zM42 51l1 1-1 1-1-1zM38 53l1 1-1 1-1-1zM5 54l1 1-1 1-1-1zM36 59l1 1-1 1-1-1zM7 60l1 1-1 1-1-1zM41 62l1 1-1 1-1-1zM9 64l1 1-1 1-1-1zM25 64l1 1-1 1-1-1zM42 65l1 1-1 1-1-1zM9 66l1 1-1 1-1-1zM9 70l1 1-1 1-1-1z"/><path fill="#272727" d="M30 -5l1 1-1 1-1-1zM22 -3l1 1-1 1-1-1zM42 -3l1 1-1 1-1-1zM41 4l1 1-1 1-1-1zM32 7l1 1-1 1-1-1zM36 7l1 1-1 1-1-1zM19 8l1 1-1 1-1-1zM25 8l1 1-1 1-1-1zM34 9l1 1-1 1-1-1zM18 11l1 1-1 1-1-1zM27 12l1 1-1 1-1-1zM42 13l1 1-1 1-1-1zM11 14l1 1-1 1-1-1zM9 16l1 1-1 1-1-1zM33 16l1 1-1 1-1-1zM0 19l1 1-1 1-1-1zM24 19l1 1-1 1-1-1zM4 23l1 1-1 1-1-1zM15 24l1 1-1 1-1-1zM31 26l1 1-1 1-1-1zM8 27l1 1-1 1-1-1zM15 28l1 1-1 1-1-1zM14 29l1 1-1 1-1-1zM30 29l1 1-1 1-1-1zM20 31l1 1-1 1-1-1zM8 33l1 1-1 1-1-1zM0 35l1 1-1 1-1-1zM5 36l1 1-1 1-1-1zM46 37l1 1-1 1-1-1zM26 39l1 1-1 1-1-1zM31 40l1 1-1 1-1-1zM16 41l1 1-1 1-1-1zM25 44l1 1-1 1-1-1zM32 45l1 1-1 1-1-1zM11 46l1 1-1 1-1-1zM20 47l1 1-1 1-1-1zM47 48l1 1-1 1-1-1zM30 49l1 1-1 1-1-1zM8 51l1 1-1 1-1-1zM25 52l1 1-1 1-1-1zM41 52l1 1-1 1-1-1zM19 54l1 1-1 1-1-1zM22 57l1 1-1 1-1-1zM1 58l1 1-1 1-1-1zM3 58l1 1-1 1-1-1zM31 58l1 1-1 1-1-1zM42 59l1 1-1 1-1-1zM31 60l1 1-1 1-1-1zM20 61l1 1-1 1-1-1zM15 62l1 1-1 1-1-1zM36 63l1 1-1 1-1-1zM17 64l1 1-1 1-1-1zM43 64l1 1-1 1-1-1zM45 66l1 1-1 1-1-1zM4 67l1 1-1 1-1-1zM14 67l1 1-1 1-1-1zM7 68l1 1-1 1-1-1zM15 68l1 1-1 1-1-1zM21 72l1 1-1 1-1-1z"/><path fill="#282828" d="M26 -7l1 1-1 1-1-1zM23 -4l1 1-1 1-1-1zM27 -4l1 1-1 1-1-1zM46 -3l1 1-1 1-1-1zM33 -2l1 1-1 1-1-1zM29 2l1 1-1 1-1-1zM2 5l1 1-1 1-1-1zM18 5l1 1-1 1-1-1zM26 5l1 1-1 1-1-1zM16 7l1 1-1 1-1-1zM38 7l1 1-1 1-1-1zM11 8l1 1-1 1-1-1zM11 10l1 1-1 1-1-1zM-2 11l1 1-1 1-1-1zM9 12l1 1-1 1-1-1zM7 14l1 1-1 1-1-1zM31 14l1 1-1 1-1-1zM30 17l1 1-1 1-1-1zM46 19l1 1-1 1-1-1zM27 20l1 1-1 1-1-1zM30 21l1 1-1 1-1-1zM1 24l1 1-1 1-1-1zM6 25l1 1-1 1-1-1zM14 27l1 1-1 1-1-1zM47 28l1 1-1 1-1-1zM-3 30l1 1-1 1-1-1zM38 31l1 1-1 1-1-1zM9 32l1 1-1 1-1-1zM23 32l1 1-1 1-1-1zM33 32l1 1-1 1-1-1zM2 33l1 1-1 1-1-1zM11 34l1 1-1 1-1-1zM30 35l1 1-1 1-1-1zM3 36l1 1-1 1-1-1zM28 37l1 1-1 1-1-1zM32 37l1 1-1 1-1-1zM40 37l1 1-1 1-1-1zM3 38l1 1-1 1-1-1zM33 38l1 1-1 1-1-1zM46 39l1 1-1 1-1-1zM12 41l1 1-1 1-1-1zM11 42l1 1-1 1-1-1zM13 42l1 1-1 1-1-1zM35 42l1 1-1 1-1-1zM8 45l1 1-1 1-1-1zM26 47l1 1-1 1-1-1zM34 47l1 1-1 1-1-1zM20 49l1 1-1 1-1-1zM27 50l1 1-1 1-1-1zM0 51l1 1-1 1-1-1zM36 51l1 1-1 1-1-1zM17 54l1 1-1 1-1-1zM29 54l1 1-1 1-1-1zM2 55l1 1-1 1-1-1zM6 55l1 1-1 1-1-1zM22 55l1 1-1 1-1-1zM16 57l1 1-1 1-1-1zM6 59l1 1-1 1-1-1zM10 59l1 1-1 1-1-1zM17 60l1 1-1 1-1-1zM29 60l1 1-1 1-1-1zM45 60l1 1-1 1-1-1zM12 61l1 1-1 1-1-1zM31 62l1 1-1 1-1-1zM11 64l1 1-1 1-1-1zM21 64l1 1-1 1-1-1zM33 64l1 1-1 1-1-1zM39 64l1 1-1 1-1-1zM3 68l1 1-1 1-1-1zM37 70l1 1-1 1-1-1zM34 71l1 1-1 1-1-1zM46 71l1 1-1 1-1-1z"/><path fill="#292929" d="M-3 -8l1 1-1 1-1-1zM37 -8l1 1-1 1-1-1zM12 -7l1 1-1 1-1-1zM31 -6l1 1-1 1-1-1zM14 -5l1 1-1 1-1-1zM11 -4l1 1-1 1-1-1zM18 -3l1 1-1 1-1-1zM23 -2l1 1-1 1-1-1zM37 -2l1 1-1 1-1-1zM46 -1l1 1-1 1-1-1zM11 0l1 1-1 1-1-1zM15 0l1 1-1 1-1-1zM46 3l1 1-1 1-1-1zM1 4l1 1-1 1-1-1zM7 4l1 1-1 1-1-1zM39 8l1 1-1 1-1-1zM4 9l1 1-1 1-1-1zM0 11l1 1-1 1-1-1zM2 11l1 1-1 1-1-1zM8 11l1 1-1 1-1-1zM6 13l1 1-1 1-1-1zM8 13l1 1-1 1-1-1zM22 13l1 1-1 1-1-1zM30 13l1 1-1 1-1-1zM8 15l1 1-1 1-1-1zM46 15l1 1-1 1-1-1zM23 16l1 1-1 1-1-1zM43 16l1 1-1 1-1-1zM25 18l1 1-1 1-1-1zM30 19l1 1-1 1-1-1zM7 20l1 1-1 1-1-1zM10 21l1 1-1 1-1-1zM16 21l1 1-1 1-1-1zM20 21l1 1-1 1-1-1zM-2 23l1 1-1 1-1-1zM22 23l1 1-1 1-1-1zM0 29l1 1-1 1-1-1zM34 29l1 1-1 1-1-1zM40 29l1 1-1 1-1-1zM29 32l1 1-1 1-1-1zM-1 34l1 1-1 1-1-1zM15 34l1 1-1 1-1-1zM19 36l1 1-1 1-1-1zM20 39l1 1-1 1-1-1zM-3 42l1 1-1 1-1-1zM23 42l1 1-1 1-1-1zM14 43l1 1-1 1-1-1zM18 43l1 1-1 1-1-1zM11 44l1 1-1 1-1-1zM17 44l1 1-1 1-1-1zM10 45l1 1-1 1-1-1zM38 45l1 1-1 1-1-1zM16 47l1 1-1 1-1-1zM37 48l1 1-1 1-1-1zM17 50l1 1-1 1-1-1zM2 51l1 1-1 1-1-1zM14 53l1 1-1 1-1-1zM21 54l1 1-1 1-1-1zM45 56l1 1-1 1-1-1zM26 61l1 1-1 1-1-1zM5 62l1 1-1 1-1-1zM45 64l1 1-1 1-1-1zM5 66l1 1-1 1-1-1zM8 67l1 1-1 1-1-1zM22 69l1 1-1 1-1-1zM12 71l1 1-1 1-1-1zM41 72l1 1-1 1-1-1zM16 73l1 1-1 1-1-1zM34 73l1 1-1 1-1-1zM-3 74l1 1-1 1-1-1zM9 74l1 1-1 1-1-1z"/><path fill="#2a2a2a" d="M3 -8l1 1-1 1-1-1zM-1 -6l1 1-1 1-1-1zM33 -6l1 1-1 1-1-1zM3 -4l1 1-1 1-1-1zM0 -3l1 1-1 1-1-1zM-2 -1l1 1-1 1-1-1zM30 1l1 1-1 1-1-1zM36 1l1 1-1 1-1-1zM46 1l1 1-1 1-1-1zM37 2l1 1-1 1-1-1zM13 4l1 1-1 1-1-1zM25 4l1 1-1 1-1-1zM1 6l1 1-1 1-1-1zM5 8l1 1-1 1-1-1zM20 9l1 1-1 1-1-1zM32 9l1 1-1 1-1-1zM7 12l1 1-1 1-1-1zM17 12l1 1-1 1-1-1zM14 13l1 1-1 1-1-1zM3 14l1 1-1 1-1-1zM39 14l1 1-1 1-1-1zM0 15l1 1-1 1-1-1zM36 15l1 1-1 1-1-1zM31 16l1 1-1 1-1-1zM16 17l1 1-1 1-1-1zM22 17l1 1-1 1-1-1zM36 19l1 1-1 1-1-1zM-3 20l1 1-1 1-1-1zM9 20l1 1-1 1-1-1zM2 23l1 1-1 1-1-1zM31 24l1 1-1 1-1-1zM45 24l1 1-1 1-1-1zM-2 25l1 1-1 1-1-1zM35 28l1 1-1 1-1-1zM4 29l1 1-1 1-1-1zM21 30l1 1-1 1-1-1zM22 33l1 1-1 1-1-1zM-3 34l1 1-1 1-1-1zM46 35l1 1-1 1-1-1zM17 36l1 1-1 1-1-1zM39 36l1 1-1 1-1-1zM38 39l1 1-1 1-1-1zM27 40l1 1-1 1-1-1zM37 40l1 1-1 1-1-1zM24 41l1 1-1 1-1-1zM7 42l1 1-1 1-1-1zM29 44l1 1-1 1-1-1zM4 47l1 1-1 1-1-1zM11 48l1 1-1 1-1-1zM13 48l1 1-1 1-1-1zM43 48l1 1-1 1-1-1zM32 49l1 1-1 1-1-1zM-2 53l1 1-1 1-1-1zM8 53l1 1-1 1-1-1zM36 53l1 1-1 1-1-1zM11 54l1 1-1 1-1-1zM25 54l1 1-1 1-1-1zM8 55l1 1-1 1-1-1zM16 55l1 1-1 1-1-1zM30 55l1 1-1 1-1-1zM13 56l1 1-1 1-1-1zM15 58l1 1-1 1-1-1zM35 60l1 1-1 1-1-1zM24 61l1 1-1 1-1-1zM12 63l1 1-1 1-1-1zM26 65l1 1-1 1-1-1zM36 65l1 1-1 1-1-1zM15 66l1 1-1 1-1-1zM31 66l1 1-1 1-1-1zM41 66l1 1-1 1-1-1zM45 68l1 1-1 1-1-1zM45 70l1 1-1 1-1-1zM7 72l1 1-1 1-1-1zM25 72l1 1-1 1-1-1zM0 73l1 1-1 1-1-1zM45 74l1 1-1 1-1-1z"/><path fill="#2b2b2b" d="M23 -6l1 1-1 1-1-1zM13 -4l1 1-1 1-1-1zM35 -4l1 1-1 1-1-1zM-2 1l1 1-1 1-1-1zM47 2l1 1-1 1-1-1zM5 4l1 1-1 1-1-1zM5 6l1 1-1 1-1-1zM31 6l1 1-1 1-1-1zM-2 7l1 1-1 1-1-1zM43 8l1 1-1 1-1-1zM27 10l1 1-1 1-1-1zM31 10l1 1-1 1-1-1zM4 13l1 1-1 1-1-1zM44 15l1 1-1 1-1-1zM-2 17l1 1-1 1-1-1zM12 17l1 1-1 1-1-1zM3 20l1 1-1 1-1-1zM14 21l1 1-1 1-1-1zM26 21l1 1-1 1-1-1zM6 23l1 1-1 1-1-1zM16 23l1 1-1 1-1-1zM5 24l1 1-1 1-1-1zM33 24l1 1-1 1-1-1zM42 25l1 1-1 1-1-1zM33 26l1 1-1 1-1-1zM2 27l1 1-1 1-1-1zM18 27l1 1-1 1-1-1zM46 29l1 1-1 1-1-1zM19 30l1 1-1 1-1-1zM43 30l1 1-1 1-1-1zM14 31l1 1-1 1-1-1zM25 34l1 1-1 1-1-1zM7 36l1 1-1 1-1-1zM2 37l1 1-1 1-1-1zM2 41l1 1-1 1-1-1zM30 41l1 1-1 1-1-1zM25 42l1 1-1 1-1-1zM-3 44l1 1-1 1-1-1zM16 45l1 1-1 1-1-1zM18 45l1 1-1 1-1-1zM20 45l1 1-1 1-1-1zM35 46l1 1-1 1-1-1zM10 47l1 1-1 1-1-1zM46 49l1 1-1 1-1-1zM45 54l1 1-1 1-1-1zM10 57l1 1-1 1-1-1zM35 58l1 1-1 1-1-1zM37 58l1 1-1 1-1-1zM16 59l1 1-1 1-1-1zM11 60l1 1-1 1-1-1zM1 64l1 1-1 1-1-1zM10 65l1 1-1 1-1-1zM1 66l1 1-1 1-1-1zM7 66l1 1-1 1-1-1zM27 66l1 1-1 1-1-1zM5 70l1 1-1 1-1-1zM6 71l1 1-1 1-1-1zM22 73l1 1-1 1-1-1zM26 73l1 1-1 1-1-1zM13 74l1 1-1 1-1-1zM41 74l1 1-1 1-1-1z"/><path fill="#2c2c2c" d="M31 -8l1 1-1 1-1-1zM-2 -7l1 1-1 1-1-1zM2 -7l1 1-1 1-1-1zM43 -4l1 1-1 1-1-1zM14 -3l1 1-1 1-1-1zM-1 -2l1 1-1 1-1-1zM9 -2l1 1-1 1-1-1zM39 -2l1 1-1 1-1-1zM34 -1l1 1-1 1-1-1zM6 1l1 1-1 1-1-1zM-3 2l1 1-1 1-1-1zM9 4l1 1-1 1-1-1zM45 4l1 1-1 1-1-1zM38 5l1 1-1 1-1-1zM15 6l1 1-1 1-1-1zM18 7l1 1-1 1-1-1zM40 9l1 1-1 1-1-1zM6 17l1 1-1 1-1-1zM24 17l1 1-1 1-1-1zM34 17l1 1-1 1-1-1zM1 26l1 1-1 1-1-1zM36 31l1 1-1 1-1-1zM13 34l1 1-1 1-1-1zM0 37l1 1-1 1-1-1zM-1 38l1 1-1 1-1-1zM23 38l1 1-1 1-1-1zM36 39l1 1-1 1-1-1zM-1 40l1 1-1 1-1-1zM9 40l1 1-1 1-1-1zM35 40l1 1-1 1-1-1zM3 44l1 1-1 1-1-1zM35 44l1 1-1 1-1-1zM6 45l1 1-1 1-1-1zM39 46l1 1-1 1-1-1zM24 47l1 1-1 1-1-1zM-1 48l1 1-1 1-1-1zM27 48l1 1-1 1-1-1zM23 50l1 1-1 1-1-1zM25 50l1 1-1 1-1-1zM39 50l1 1-1 1-1-1zM32 51l1 1-1 1-1-1zM39 52l1 1-1 1-1-1zM2 53l1 1-1 1-1-1zM12 53l1 1-1 1-1-1zM-2 63l1 1-1 1-1-1zM8 65l1 1-1 1-1-1zM28 65l1 1-1 1-1-1zM25 66l1 1-1 1-1-1zM33 66l1 1-1 1-1-1zM22 67l1 1-1 1-1-1zM24 69l1 1-1 1-1-1zM30 73l1 1-1 1-1-1zM33 74l1 1-1 1-1-1z"/><path fill="#2d2d2d" d="M22 -5l1 1-1 1-1-1zM36 -3l1 1-1 1-1-1zM38 -3l1 1-1 1-1-1zM5 -2l1 1-1 1-1-1zM44 -1l1 1-1 1-1-1zM39 0l1 1-1 1-1-1zM12 3l1 1-1 1-1-1zM24 3l1 1-1 1-1-1zM30 3l1 1-1 1-1-1zM37 4l1 1-1 1-1-1zM6 7l1 1-1 1-1-1zM35 8l1 1-1 1-1-1zM42 9l1 1-1 1-1-1zM47 10l1 1-1 1-1-1zM30 11l1 1-1 1-1-1zM41 12l1 1-1 1-1-1zM43 12l1 1-1 1-1-1zM9 14l1 1-1 1-1-1zM19 14l1 1-1 1-1-1zM43 14l1 1-1 1-1-1zM-3 16l1 1-1 1-1-1zM26 17l1 1-1 1-1-1zM23 18l1 1-1 1-1-1zM40 19l1 1-1 1-1-1zM1 20l1 1-1 1-1-1zM39 22l1 1-1 1-1-1zM10 23l1 1-1 1-1-1zM20 23l1 1-1 1-1-1zM34 23l1 1-1 1-1-1zM-1 26l1 1-1 1-1-1zM41 26l1 1-1 1-1-1zM4 27l1 1-1 1-1-1zM27 28l1 1-1 1-1-1zM2 31l1 1-1 1-1-1zM5 34l1 1-1 1-1-1zM11 36l1 1-1 1-1-1zM22 37l1 1-1 1-1-1zM9 38l1 1-1 1-1-1zM31 38l1 1-1 1-1-1zM20 43l1 1-1 1-1-1zM24 43l1 1-1 1-1-1zM31 44l1 1-1 1-1-1zM46 45l1 1-1 1-1-1zM21 46l1 1-1 1-1-1zM47 46l1 1-1 1-1-1zM-3 48l1 1-1 1-1-1zM-1 52l1 1-1 1-1-1zM0 55l1 1-1 1-1-1zM23 56l1 1-1 1-1-1zM43 58l1 1-1 1-1-1zM4 59l1 1-1 1-1-1zM22 59l1 1-1 1-1-1zM5 60l1 1-1 1-1-1zM10 61l1 1-1 1-1-1zM27 62l1 1-1 1-1-1zM15 64l1 1-1 1-1-1zM44 65l1 1-1 1-1-1zM17 66l1 1-1 1-1-1zM10 67l1 1-1 1-1-1zM9 68l1 1-1 1-1-1zM21 68l1 1-1 1-1-1zM4 69l1 1-1 1-1-1zM16 69l1 1-1 1-1-1zM20 69l1 1-1 1-1-1zM47 70l1 1-1 1-1-1zM40 71l1 1-1 1-1-1zM9 72l1 1-1 1-1-1zM23 72l1 1-1 1-1-1zM14 73l1 1-1 1-1-1zM-1 74l1 1-1 1-1-1z"/><path fill="#2e2e2e" d="M11 -8l1 1-1 1-1-1zM6 -7l1 1-1 1-1-1zM-3 -6l1 1-1 1-1-1zM19 -6l1 1-1 1-1-1zM6 -1l1 1-1 1-1-1zM33 0l1 1-1 1-1-1zM35 0l1 1-1 1-1-1zM41 0l1 1-1 1-1-1zM20 1l1 1-1 1-1-1zM25 2l1 1-1 1-1-1zM4 3l1 1-1 1-1-1zM18 3l1 1-1 1-1-1zM26 3l1 1-1 1-1-1zM24 5l1 1-1 1-1-1zM36 5l1 1-1 1-1-1zM11 6l1 1-1 1-1-1zM39 6l1 1-1 1-1-1zM24 7l1 1-1 1-1-1zM32 11l1 1-1 1-1-1zM34 13l1 1-1 1-1-1zM38 13l1 1-1 1-1-1zM42 17l1 1-1 1-1-1zM44 17l1 1-1 1-1-1zM11 18l1 1-1 1-1-1zM43 18l1 1-1 1-1-1zM2 19l1 1-1 1-1-1zM28 21l1 1-1 1-1-1zM37 22l1 1-1 1-1-1zM23 24l1 1-1 1-1-1zM47 24l1 1-1 1-1-1zM16 25l1 1-1 1-1-1zM20 25l1 1-1 1-1-1zM15 26l1 1-1 1-1-1zM27 26l1 1-1 1-1-1zM0 27l1 1-1 1-1-1zM12 27l1 1-1 1-1-1zM46 27l1 1-1 1-1-1zM41 30l1 1-1 1-1-1zM12 31l1 1-1 1-1-1zM40 31l1 1-1 1-1-1zM14 33l1 1-1 1-1-1zM18 33l1 1-1 1-1-1zM38 33l1 1-1 1-1-1zM16 35l1 1-1 1-1-1zM45 38l1 1-1 1-1-1zM34 39l1 1-1 1-1-1zM47 40l1 1-1 1-1-1zM16 43l1 1-1 1-1-1zM42 43l1 1-1 1-1-1zM27 44l1 1-1 1-1-1zM-1 46l1 1-1 1-1-1zM18 49l1 1-1 1-1-1zM11 50l1 1-1 1-1-1zM41 50l1 1-1 1-1-1zM23 52l1 1-1 1-1-1zM30 53l1 1-1 1-1-1zM2 57l1 1-1 1-1-1zM11 58l1 1-1 1-1-1zM7 64l1 1-1 1-1-1zM41 64l1 1-1 1-1-1zM30 65l1 1-1 1-1-1zM37 66l1 1-1 1-1-1zM43 66l1 1-1 1-1-1zM41 68l1 1-1 1-1-1zM26 71l1 1-1 1-1-1zM32 71l1 1-1 1-1-1zM5 72l1 1-1 1-1-1zM2 73l1 1-1 1-1-1zM1 74l1 1-1 1-1-1zM15 74l1 1-1 1-1-1zM39 74l1 1-1 1-1-1z"/><path fill="#2f2f2f" d="M19 -8l1 1-1 1-1-1zM41 -8l1 1-1 1-1-1zM16 -7l1 1-1 1-1-1zM27 -6l1 1-1 1-1-1zM20 -5l1 1-1 1-1-1zM2 -3l1 1-1 1-1-1zM3 -2l1 1-1 1-1-1zM25 -2l1 1-1 1-1-1zM43 -2l1 1-1 1-1-1zM26 -1l1 1-1 1-1-1zM13 0l1 1-1 1-1-1zM38 1l1 1-1 1-1-1zM2 3l1 1-1 1-1-1zM44 3l1 1-1 1-1-1zM27 4l1 1-1 1-1-1zM0 5l1 1-1 1-1-1zM5 12l1 1-1 1-1-1zM24 13l1 1-1 1-1-1zM40 13l1 1-1 1-1-1zM47 14l1 1-1 1-1-1zM11 16l1 1-1 1-1-1zM47 16l1 1-1 1-1-1zM32 19l1 1-1 1-1-1zM-1 22l1 1-1 1-1-1zM26 23l1 1-1 1-1-1zM28 23l1 1-1 1-1-1zM42 23l1 1-1 1-1-1zM3 26l1 1-1 1-1-1zM7 26l1 1-1 1-1-1zM21 26l1 1-1 1-1-1zM1 28l1 1-1 1-1-1zM5 28l1 1-1 1-1-1zM38 29l1 1-1 1-1-1zM4 31l1 1-1 1-1-1zM34 33l1 1-1 1-1-1zM44 33l1 1-1 1-1-1zM43 34l1 1-1 1-1-1zM12 35l1 1-1 1-1-1zM20 37l1 1-1 1-1-1zM29 38l1 1-1 1-1-1zM29 42l1 1-1 1-1-1zM39 42l1 1-1 1-1-1zM10 43l1 1-1 1-1-1zM19 44l1 1-1 1-1-1zM43 44l1 1-1 1-1-1zM-2 45l1 1-1 1-1-1zM24 45l1 1-1 1-1-1zM29 46l1 1-1 1-1-1zM2 47l1 1-1 1-1-1zM3 50l1 1-1 1-1-1zM15 52l1 1-1 1-1-1zM0 53l1 1-1 1-1-1zM9 54l1 1-1 1-1-1zM27 54l1 1-1 1-1-1zM41 54l1 1-1 1-1-1zM17 56l1 1-1 1-1-1zM14 57l1 1-1 1-1-1zM7 58l1 1-1 1-1-1zM24 59l1 1-1 1-1-1zM40 59l1 1-1 1-1-1zM13 60l1 1-1 1-1-1zM21 60l1 1-1 1-1-1zM22 61l1 1-1 1-1-1zM21 62l1 1-1 1-1-1zM25 62l1 1-1 1-1-1zM10 63l1 1-1 1-1-1zM-3 64l1 1-1 1-1-1zM22 65l1 1-1 1-1-1zM6 67l1 1-1 1-1-1zM-3 68l1 1-1 1-1-1zM31 68l1 1-1 1-1-1zM3 70l1 1-1 1-1-1zM7 70l1 1-1 1-1-1zM11 70l1 1-1 1-1-1zM2 71l1 1-1 1-1-1zM13 72l1 1-1 1-1-1zM39 72l1 1-1 1-1-1zM43 72l1 1-1 1-1-1zM3 74l1 1-1 1-1-1zM5 74l1 1-1 1-1-1z"/><path fill="#303030" d="M5 -8l1 1-1 1-1-1zM47 -8l1 1-1 1-1-1zM4 -7l1 1-1 1-1-1zM9 -4l1 1-1 1-1-1zM39 -4l1 1-1 1-1-1zM35 -2l1 1-1 1-1-1zM2 -1l1 1-1 1-1-1zM8 -1l1 1-1 1-1-1zM47 0l1 1-1 1-1-1zM16 1l1 1-1 1-1-1zM3 2l1 1-1 1-1-1zM16 3l1 1-1 1-1-1zM29 4l1 1-1 1-1-1zM39 4l1 1-1 1-1-1zM28 7l1 1-1 1-1-1zM34 7l1 1-1 1-1-1zM13 8l1 1-1 1-1-1zM26 9l1 1-1 1-1-1zM5 10l1 1-1 1-1-1zM39 10l1 1-1 1-1-1zM45 10l1 1-1 1-1-1zM2 15l1 1-1 1-1-1zM1 16l1 1-1 1-1-1zM0 25l1 1-1 1-1-1zM40 25l1 1-1 1-1-1zM41 32l1 1-1 1-1-1zM34 35l1 1-1 1-1-1zM38 35l1 1-1 1-1-1zM13 36l1 1-1 1-1-1zM33 36l1 1-1 1-1-1zM1 44l1 1-1 1-1-1zM37 44l1 1-1 1-1-1zM26 45l1 1-1 1-1-1zM3 46l1 1-1 1-1-1zM25 46l1 1-1 1-1-1zM1 48l1 1-1 1-1-1zM23 48l1 1-1 1-1-1zM9 50l1 1-1 1-1-1zM19 52l1 1-1 1-1-1zM27 52l1 1-1 1-1-1zM33 52l1 1-1 1-1-1zM36 55l1 1-1 1-1-1zM27 56l1 1-1 1-1-1zM35 56l1 1-1 1-1-1zM26 57l1 1-1 1-1-1zM5 58l1 1-1 1-1-1zM0 61l1 1-1 1-1-1zM13 62l1 1-1 1-1-1zM45 62l1 1-1 1-1-1zM-2 65l1 1-1 1-1-1zM3 66l1 1-1 1-1-1zM21 66l1 1-1 1-1-1zM2 67l1 1-1 1-1-1zM20 67l1 1-1 1-1-1zM18 73l1 1-1 1-1-1zM36 73l1 1-1 1-1-1zM43 74l1 1-1 1-1-1z"/><path fill="#313131" d="M17 -8l1 1-1 1-1-1zM38 -7l1 1-1 1-1-1zM3 -6l1 1-1 1-1-1zM4 -5l1 1-1 1-1-1zM8 -5l1 1-1 1-1-1zM6 -3l1 1-1 1-1-1zM45 -2l1 1-1 1-1-1zM-3 0l1 1-1 1-1-1zM9 0l1 1-1 1-1-1zM11 2l1 1-1 1-1-1zM15 4l1 1-1 1-1-1zM8 5l1 1-1 1-1-1zM26 7l1 1-1 1-1-1zM46 7l1 1-1 1-1-1zM7 8l1 1-1 1-1-1zM3 10l1 1-1 1-1-1zM33 12l1 1-1 1-1-1zM45 14l1 1-1 1-1-1zM3 16l1 1-1 1-1-1zM37 16l1 1-1 1-1-1zM2 17l1 1-1 1-1-1zM29 18l1 1-1 1-1-1zM10 19l1 1-1 1-1-1zM23 20l1 1-1 1-1-1zM32 23l1 1-1 1-1-1zM38 23l1 1-1 1-1-1zM35 26l1 1-1 1-1-1zM38 27l1 1-1 1-1-1zM46 31l1 1-1 1-1-1zM7 32l1 1-1 1-1-1zM31 32l1 1-1 1-1-1zM26 33l1 1-1 1-1-1zM17 34l1 1-1 1-1-1zM19 34l1 1-1 1-1-1zM26 35l1 1-1 1-1-1zM42 35l1 1-1 1-1-1zM29 36l1 1-1 1-1-1zM34 37l1 1-1 1-1-1zM19 38l1 1-1 1-1-1zM4 39l1 1-1 1-1-1zM30 39l1 1-1 1-1-1zM25 40l1 1-1 1-1-1zM34 41l1 1-1 1-1-1zM9 42l1 1-1 1-1-1zM22 43l1 1-1 1-1-1zM41 44l1 1-1 1-1-1zM0 45l1 1-1 1-1-1zM24 49l1 1-1 1-1-1zM28 49l1 1-1 1-1-1zM34 49l1 1-1 1-1-1zM20 51l1 1-1 1-1-1zM18 57l1 1-1 1-1-1zM4 61l1 1-1 1-1-1zM18 61l1 1-1 1-1-1zM16 63l1 1-1 1-1-1zM29 66l1 1-1 1-1-1zM47 66l1 1-1 1-1-1zM38 67l1 1-1 1-1-1zM23 68l1 1-1 1-1-1zM0 69l1 1-1 1-1-1zM18 69l1 1-1 1-1-1zM4 71l1 1-1 1-1-1zM18 71l1 1-1 1-1-1zM20 71l1 1-1 1-1-1zM40 73l1 1-1 1-1-1zM42 73l1 1-1 1-1-1zM17 74l1 1-1 1-1-1zM47 74l1 1-1 1-1-1z"/><path fill="#323232" d="M-1 -8l1 1-1 1-1-1zM-2 -5l1 1-1 1-1-1zM18 -5l1 1-1 1-1-1zM-3 -4l1 1-1 1-1-1zM27 0l1 1-1 1-1-1zM4 1l1 1-1 1-1-1zM42 1l1 1-1 1-1-1zM41 2l1 1-1 1-1-1zM40 3l1 1-1 1-1-1zM31 4l1 1-1 1-1-1zM12 5l1 1-1 1-1-1zM44 5l1 1-1 1-1-1zM30 7l1 1-1 1-1-1zM39 12l1 1-1 1-1-1zM26 15l1 1-1 1-1-1zM38 15l1 1-1 1-1-1zM42 15l1 1-1 1-1-1zM18 19l1 1-1 1-1-1zM22 19l1 1-1 1-1-1zM35 20l1 1-1 1-1-1zM46 23l1 1-1 1-1-1zM37 24l1 1-1 1-1-1zM44 25l1 1-1 1-1-1zM19 28l1 1-1 1-1-1zM30 33l1 1-1 1-1-1zM25 36l1 1-1 1-1-1zM11 38l1 1-1 1-1-1zM25 38l1 1-1 1-1-1zM0 39l1 1-1 1-1-1zM16 39l1 1-1 1-1-1zM46 41l1 1-1 1-1-1zM47 42l1 1-1 1-1-1zM-2 43l1 1-1 1-1-1zM15 44l1 1-1 1-1-1zM40 45l1 1-1 1-1-1zM22 47l1 1-1 1-1-1zM33 48l1 1-1 1-1-1zM3 52l1 1-1 1-1-1zM17 52l1 1-1 1-1-1zM31 52l1 1-1 1-1-1zM26 53l1 1-1 1-1-1zM33 54l1 1-1 1-1-1zM19 56l1 1-1 1-1-1zM47 56l1 1-1 1-1-1zM0 57l1 1-1 1-1-1zM-1 58l1 1-1 1-1-1zM8 59l1 1-1 1-1-1zM43 62l1 1-1 1-1-1zM46 63l1 1-1 1-1-1zM46 65l1 1-1 1-1-1zM-2 67l1 1-1 1-1-1zM33 68l1 1-1 1-1-1zM-2 71l1 1-1 1-1-1zM33 72l1 1-1 1-1-1zM47 72l1 1-1 1-1-1zM12 73l1 1-1 1-1-1zM38 73l1 1-1 1-1-1z"/><path fill="#333333" d="M0 -7l1 1-1 1-1-1zM43 -6l1 1-1 1-1-1zM1 -4l1 1-1 1-1-1zM20 -3l1 1-1 1-1-1zM21 -2l1 1-1 1-1-1zM28 1l1 1-1 1-1-1zM37 6l1 1-1 1-1-1zM6 9l1 1-1 1-1-1zM4 11l1 1-1 1-1-1zM40 11l1 1-1 1-1-1zM45 12l1 1-1 1-1-1zM-2 13l1 1-1 1-1-1zM6 15l1 1-1 1-1-1zM27 16l1 1-1 1-1-1zM45 16l1 1-1 1-1-1zM27 18l1 1-1 1-1-1zM37 20l1 1-1 1-1-1zM0 21l1 1-1 1-1-1zM46 21l1 1-1 1-1-1zM29 26l1 1-1 1-1-1zM29 28l1 1-1 1-1-1zM1 30l1 1-1 1-1-1zM23 30l1 1-1 1-1-1zM39 30l1 1-1 1-1-1zM32 35l1 1-1 1-1-1zM8 39l1 1-1 1-1-1zM33 42l1 1-1 1-1-1zM9 44l1 1-1 1-1-1zM42 45l1 1-1 1-1-1zM35 50l1 1-1 1-1-1zM47 50l1 1-1 1-1-1zM24 51l1 1-1 1-1-1zM47 52l1 1-1 1-1-1zM3 54l1 1-1 1-1-1zM11 56l1 1-1 1-1-1zM41 58l1 1-1 1-1-1zM34 59l1 1-1 1-1-1zM44 59l1 1-1 1-1-1zM24 63l1 1-1 1-1-1zM23 64l1 1-1 1-1-1zM34 65l1 1-1 1-1-1zM11 66l1 1-1 1-1-1zM5 68l1 1-1 1-1-1zM10 69l1 1-1 1-1-1zM43 70l1 1-1 1-1-1z"/><path fill="#343434" d="M33 -8l1 1-1 1-1-1zM5 -6l1 1-1 1-1-1zM7 -6l1 1-1 1-1-1zM45 -4l1 1-1 1-1-1zM19 -2l1 1-1 1-1-1zM42 -1l1 1-1 1-1-1zM26 1l1 1-1 1-1-1zM5 2l1 1-1 1-1-1zM15 2l1 1-1 1-1-1zM21 2l1 1-1 1-1-1zM39 2l1 1-1 1-1-1zM-3 4l1 1-1 1-1-1zM43 4l1 1-1 1-1-1zM46 5l1 1-1 1-1-1zM-1 8l1 1-1 1-1-1zM14 9l1 1-1 1-1-1zM28 9l1 1-1 1-1-1zM36 9l1 1-1 1-1-1zM3 12l1 1-1 1-1-1zM35 12l1 1-1 1-1-1zM18 15l1 1-1 1-1-1zM-3 18l1 1-1 1-1-1zM-2 19l1 1-1 1-1-1zM8 21l1 1-1 1-1-1zM33 22l1 1-1 1-1-1zM35 24l1 1-1 1-1-1zM45 26l1 1-1 1-1-1zM39 28l1 1-1 1-1-1zM25 30l1 1-1 1-1-1zM-3 32l1 1-1 1-1-1zM35 32l1 1-1 1-1-1zM10 33l1 1-1 1-1-1zM37 36l1 1-1 1-1-1zM8 37l1 1-1 1-1-1zM18 39l1 1-1 1-1-1zM36 41l1 1-1 1-1-1zM38 41l1 1-1 1-1-1zM40 41l1 1-1 1-1-1zM21 42l1 1-1 1-1-1zM0 43l1 1-1 1-1-1zM-1 44l1 1-1 1-1-1zM45 46l1 1-1 1-1-1zM0 47l1 1-1 1-1-1zM31 50l1 1-1 1-1-1zM-2 51l1 1-1 1-1-1zM16 51l1 1-1 1-1-1zM38 51l1 1-1 1-1-1zM46 51l1 1-1 1-1-1zM37 52l1 1-1 1-1-1zM26 59l1 1-1 1-1-1zM-3 60l1 1-1 1-1-1zM37 60l1 1-1 1-1-1zM47 60l1 1-1 1-1-1zM2 61l1 1-1 1-1-1zM16 61l1 1-1 1-1-1zM34 61l1 1-1 1-1-1zM39 62l1 1-1 1-1-1zM3 64l1 1-1 1-1-1zM5 64l1 1-1 1-1-1zM-1 66l1 1-1 1-1-1zM16 67l1 1-1 1-1-1zM18 67l1 1-1 1-1-1zM46 69l1 1-1 1-1-1zM35 70l1 1-1 1-1-1zM22 71l1 1-1 1-1-1zM3 72l1 1-1 1-1-1zM44 73l1 1-1 1-1-1zM25 74l1 1-1 1-1-1z"/><path fill="#353535" d="M21 -8l1 1-1 1-1-1zM6 -5l1 1-1 1-1-1zM12 -3l1 1-1 1-1-1zM44 -3l1 1-1 1-1-1zM-1 0l1 1-1 1-1-1zM1 0l1 1-1 1-1-1zM19 0l1 1-1 1-1-1zM35 2l1 1-1 1-1-1zM43 2l1 1-1 1-1-1zM19 4l1 1-1 1-1-1zM35 4l1 1-1 1-1-1zM14 7l1 1-1 1-1-1zM44 13l1 1-1 1-1-1zM41 14l1 1-1 1-1-1zM28 17l1 1-1 1-1-1zM46 17l1 1-1 1-1-1zM8 19l1 1-1 1-1-1zM5 20l1 1-1 1-1-1zM47 20l1 1-1 1-1-1zM34 21l1 1-1 1-1-1zM27 22l1 1-1 1-1-1zM-1 24l1 1-1 1-1-1zM44 27l1 1-1 1-1-1zM2 29l1 1-1 1-1-1zM43 32l1 1-1 1-1-1zM12 33l1 1-1 1-1-1zM40 35l1 1-1 1-1-1zM23 36l1 1-1 1-1-1zM-2 39l1 1-1 1-1-1zM-1 42l1 1-1 1-1-1zM38 43l1 1-1 1-1-1zM36 45l1 1-1 1-1-1zM23 46l1 1-1 1-1-1zM43 46l1 1-1 1-1-1zM3 48l1 1-1 1-1-1zM38 49l1 1-1 1-1-1zM29 50l1 1-1 1-1-1zM11 52l1 1-1 1-1-1zM35 52l1 1-1 1-1-1zM24 55l1 1-1 1-1-1zM32 55l1 1-1 1-1-1zM44 55l1 1-1 1-1-1zM13 58l1 1-1 1-1-1zM20 59l1 1-1 1-1-1zM33 60l1 1-1 1-1-1zM42 61l1 1-1 1-1-1zM29 62l1 1-1 1-1-1zM26 63l1 1-1 1-1-1zM25 68l1 1-1 1-1-1zM39 68l1 1-1 1-1-1zM-1 70l1 1-1 1-1-1zM31 70l1 1-1 1-1-1zM33 70l1 1-1 1-1-1zM39 70l1 1-1 1-1-1zM0 71l1 1-1 1-1-1zM11 72l1 1-1 1-1-1zM35 74l1 1-1 1-1-1z"/><path fill="#363636" d="M23 -8l1 1-1 1-1-1zM31 0l1 1-1 1-1-1zM10 1l1 1-1 1-1-1zM0 3l1 1-1 1-1-1zM36 3l1 1-1 1-1-1zM17 4l1 1-1 1-1-1zM33 4l1 1-1 1-1-1zM1 8l1 1-1 1-1-1zM12 15l1 1-1 1-1-1zM13 16l1 1-1 1-1-1zM1 18l1 1-1 1-1-1zM5 22l1 1-1 1-1-1zM25 28l1 1-1 1-1-1zM45 30l1 1-1 1-1-1zM47 30l1 1-1 1-1-1zM25 32l1 1-1 1-1-1zM28 35l1 1-1 1-1-1zM35 36l1 1-1 1-1-1zM26 37l1 1-1 1-1-1zM41 40l1 1-1 1-1-1zM22 41l1 1-1 1-1-1zM6 43l1 1-1 1-1-1zM26 43l1 1-1 1-1-1zM27 46l1 1-1 1-1-1zM31 46l1 1-1 1-1-1zM14 47l1 1-1 1-1-1zM26 49l1 1-1 1-1-1zM-1 50l1 1-1 1-1-1zM23 54l1 1-1 1-1-1zM3 56l1 1-1 1-1-1zM7 56l1 1-1 1-1-1zM28 57l1 1-1 1-1-1zM46 57l1 1-1 1-1-1zM45 58l1 1-1 1-1-1zM14 61l1 1-1 1-1-1zM36 61l1 1-1 1-1-1zM-3 62l1 1-1 1-1-1zM20 63l1 1-1 1-1-1zM30 63l1 1-1 1-1-1zM38 65l1 1-1 1-1-1zM34 67l1 1-1 1-1-1zM34 69l1 1-1 1-1-1zM36 69l1 1-1 1-1-1zM8 71l1 1-1 1-1-1z"/><path fill="#373737" d="M28 -7l1 1-1 1-1-1zM42 -7l1 1-1 1-1-1zM35 -6l1 1-1 1-1-1zM38 -5l1 1-1 1-1-1zM40 -3l1 1-1 1-1-1zM36 13l1 1-1 1-1-1zM-3 14l1 1-1 1-1-1zM-1 16l1 1-1 1-1-1zM29 16l1 1-1 1-1-1zM39 16l1 1-1 1-1-1zM32 17l1 1-1 1-1-1zM24 21l1 1-1 1-1-1zM-3 24l1 1-1 1-1-1zM11 24l1 1-1 1-1-1zM19 24l1 1-1 1-1-1zM28 25l1 1-1 1-1-1zM34 25l1 1-1 1-1-1zM37 26l1 1-1 1-1-1zM40 27l1 1-1 1-1-1zM-1 28l1 1-1 1-1-1zM3 28l1 1-1 1-1-1zM26 29l1 1-1 1-1-1zM36 29l1 1-1 1-1-1zM44 29l1 1-1 1-1-1zM15 36l1 1-1 1-1-1zM41 36l1 1-1 1-1-1zM38 37l1 1-1 1-1-1zM13 38l1 1-1 1-1-1zM15 38l1 1-1 1-1-1zM42 39l1 1-1 1-1-1zM20 41l1 1-1 1-1-1zM14 45l1 1-1 1-1-1zM1 46l1 1-1 1-1-1zM7 48l1 1-1 1-1-1zM28 51l1 1-1 1-1-1zM9 52l1 1-1 1-1-1zM4 55l1 1-1 1-1-1zM12 57l1 1-1 1-1-1zM39 58l1 1-1 1-1-1zM38 61l1 1-1 1-1-1zM44 63l1 1-1 1-1-1zM37 64l1 1-1 1-1-1zM0 65l1 1-1 1-1-1zM32 69l1 1-1 1-1-1zM35 72l1 1-1 1-1-1z"/><path fill="#383838" d="M24 -7l1 1-1 1-1-1zM47 -6l1 1-1 1-1-1zM8 -3l1 1-1 1-1-1zM33 2l1 1-1 1-1-1zM7 6l1 1-1 1-1-1zM45 6l1 1-1 1-1-1zM47 6l1 1-1 1-1-1zM20 7l1 1-1 1-1-1zM42 7l1 1-1 1-1-1zM14 11l1 1-1 1-1-1zM17 14l1 1-1 1-1-1zM24 15l1 1-1 1-1-1zM8 17l1 1-1 1-1-1zM39 18l1 1-1 1-1-1zM11 20l1 1-1 1-1-1zM43 24l1 1-1 1-1-1zM23 28l1 1-1 1-1-1zM42 29l1 1-1 1-1-1zM32 31l1 1-1 1-1-1zM37 32l1 1-1 1-1-1zM3 34l1 1-1 1-1-1zM4 35l1 1-1 1-1-1zM32 43l1 1-1 1-1-1zM46 43l1 1-1 1-1-1zM-3 46l1 1-1 1-1-1zM29 52l1 1-1 1-1-1zM-3 54l1 1-1 1-1-1zM31 54l1 1-1 1-1-1zM37 54l1 1-1 1-1-1zM29 58l1 1-1 1-1-1zM0 59l1 1-1 1-1-1zM43 60l1 1-1 1-1-1zM-1 62l1 1-1 1-1-1zM23 62l1 1-1 1-1-1zM2 63l1 1-1 1-1-1zM40 67l1 1-1 1-1-1zM46 67l1 1-1 1-1-1zM29 68l1 1-1 1-1-1zM35 68l1 1-1 1-1-1zM28 69l1 1-1 1-1-1zM24 73l1 1-1 1-1-1zM46 73l1 1-1 1-1-1zM11 74l1 1-1 1-1-1zM27 74l1 1-1 1-1-1z"/><path fill="#393939" d="M25 -4l1 1-1 1-1-1zM29 -4l1 1-1 1-1-1zM47 -4l1 1-1 1-1-1zM34 -3l1 1-1 1-1-1zM-3 -2l1 1-1 1-1-1zM1 -2l1 1-1 1-1-1zM36 -1l1 1-1 1-1-1zM31 2l1 1-1 1-1-1zM41 16l1 1-1 1-1-1zM37 18l1 1-1 1-1-1zM45 18l1 1-1 1-1-1zM6 21l1 1-1 1-1-1zM-3 26l1 1-1 1-1-1zM33 30l1 1-1 1-1-1zM1 32l1 1-1 1-1-1zM36 43l1 1-1 1-1-1zM45 48l1 1-1 1-1-1zM5 52l1 1-1 1-1-1zM7 52l1 1-1 1-1-1zM28 53l1 1-1 1-1-1zM-2 55l1 1-1 1-1-1zM20 55l1 1-1 1-1-1zM38 55l1 1-1 1-1-1zM36 57l1 1-1 1-1-1zM17 58l1 1-1 1-1-1zM23 58l1 1-1 1-1-1zM42 63l1 1-1 1-1-1zM19 68l1 1-1 1-1-1z"/><path fill="#3a3a3a" d="M18 -7l1 1-1 1-1-1zM20 -7l1 1-1 1-1-1zM39 -6l1 1-1 1-1-1zM40 -5l1 1-1 1-1-1zM-2 -3l1 1-1 1-1-1zM20 3l1 1-1 1-1-1zM28 3l1 1-1 1-1-1zM42 5l1 1-1 1-1-1zM9 6l1 1-1 1-1-1zM41 8l1 1-1 1-1-1zM38 9l1 1-1 1-1-1zM37 12l1 1-1 1-1-1zM47 12l1 1-1 1-1-1zM16 13l1 1-1 1-1-1zM26 13l1 1-1 1-1-1zM32 13l1 1-1 1-1-1zM15 22l1 1-1 1-1-1zM40 23l1 1-1 1-1-1zM43 26l1 1-1 1-1-1zM28 29l1 1-1 1-1-1zM30 31l1 1-1 1-1-1zM15 32l1 1-1 1-1-1zM-3 36l1 1-1 1-1-1zM27 36l1 1-1 1-1-1zM24 39l1 1-1 1-1-1zM-3 40l1 1-1 1-1-1zM42 41l1 1-1 1-1-1zM5 42l1 1-1 1-1-1zM37 46l1 1-1 1-1-1zM30 47l1 1-1 1-1-1zM42 47l1 1-1 1-1-1zM35 48l1 1-1 1-1-1zM39 48l1 1-1 1-1-1zM34 53l1 1-1 1-1-1zM34 55l1 1-1 1-1-1zM40 55l1 1-1 1-1-1zM-3 56l1 1-1 1-1-1zM43 56l1 1-1 1-1-1zM32 57l1 1-1 1-1-1zM15 60l1 1-1 1-1-1zM19 62l1 1-1 1-1-1zM19 64l1 1-1 1-1-1zM18 65l1 1-1 1-1-1zM36 67l1 1-1 1-1-1zM12 69l1 1-1 1-1-1zM40 69l1 1-1 1-1-1zM21 74l1 1-1 1-1-1zM23 74l1 1-1 1-1-1z"/><path fill="#3b3b3b" d="M7 -8l1 1-1 1-1-1zM43 -8l1 1-1 1-1-1zM8 3l1 1-1 1-1-1zM44 7l1 1-1 1-1-1zM41 10l1 1-1 1-1-1zM20 17l1 1-1 1-1-1zM-1 18l1 1-1 1-1-1zM9 18l1 1-1 1-1-1zM12 19l1 1-1 1-1-1zM15 20l1 1-1 1-1-1zM41 24l1 1-1 1-1-1zM8 25l1 1-1 1-1-1zM34 27l1 1-1 1-1-1zM13 28l1 1-1 1-1-1zM10 31l1 1-1 1-1-1zM22 35l1 1-1 1-1-1zM6 41l1 1-1 1-1-1zM23 44l1 1-1 1-1-1zM6 49l1 1-1 1-1-1zM44 49l1 1-1 1-1-1zM43 50l1 1-1 1-1-1zM43 52l1 1-1 1-1-1zM15 54l1 1-1 1-1-1zM20 57l1 1-1 1-1-1zM21 58l1 1-1 1-1-1zM47 58l1 1-1 1-1-1zM12 59l1 1-1 1-1-1zM32 59l1 1-1 1-1-1zM28 61l1 1-1 1-1-1zM6 63l1 1-1 1-1-1zM28 63l1 1-1 1-1-1zM2 65l1 1-1 1-1-1zM12 65l1 1-1 1-1-1zM44 69l1 1-1 1-1-1zM44 71l1 1-1 1-1-1zM29 72l1 1-1 1-1-1zM31 72l1 1-1 1-1-1zM4 73l1 1-1 1-1-1z"/><path fill="#3c3c3c" d="M2 7l1 1-1 1-1-1zM3 8l1 1-1 1-1-1zM45 8l1 1-1 1-1-1zM44 21l1 1-1 1-1-1zM41 22l1 1-1 1-1-1zM0 23l1 1-1 1-1-1zM39 24l1 1-1 1-1-1zM32 25l1 1-1 1-1-1zM36 27l1 1-1 1-1-1zM34 31l1 1-1 1-1-1zM-1 32l1 1-1 1-1-1zM5 38l1 1-1 1-1-1zM32 41l1 1-1 1-1-1zM34 43l1 1-1 1-1-1zM22 45l1 1-1 1-1-1zM36 47l1 1-1 1-1-1zM42 53l1 1-1 1-1-1zM44 53l1 1-1 1-1-1zM26 55l1 1-1 1-1-1zM38 59l1 1-1 1-1-1zM32 61l1 1-1 1-1-1zM26 67l1 1-1 1-1-1zM1 68l1 1-1 1-1-1zM38 69l1 1-1 1-1-1zM-1 72l1 1-1 1-1-1zM8 73l1 1-1 1-1-1z"/><path fill="#3d3d3d" d="M34 -7l1 1-1 1-1-1zM36 -5l1 1-1 1-1-1zM19 -4l1 1-1 1-1-1zM27 2l1 1-1 1-1-1zM18 9l1 1-1 1-1-1zM-1 14l1 1-1 1-1-1zM4 15l1 1-1 1-1-1zM34 19l1 1-1 1-1-1zM11 22l1 1-1 1-1-1zM3 24l1 1-1 1-1-1zM2 25l1 1-1 1-1-1zM30 25l1 1-1 1-1-1zM30 27l1 1-1 1-1-1zM41 28l1 1-1 1-1-1zM13 30l1 1-1 1-1-1zM27 32l1 1-1 1-1-1zM-2 37l1 1-1 1-1-1zM40 43l1 1-1 1-1-1zM13 46l1 1-1 1-1-1zM4 49l1 1-1 1-1-1zM33 50l1 1-1 1-1-1zM7 54l1 1-1 1-1-1zM28 55l1 1-1 1-1-1zM42 55l1 1-1 1-1-1zM-1 60l1 1-1 1-1-1zM3 60l1 1-1 1-1-1zM-2 61l1 1-1 1-1-1zM47 62l1 1-1 1-1-1zM4 65l1 1-1 1-1-1zM6 65l1 1-1 1-1-1zM30 71l1 1-1 1-1-1zM32 73l1 1-1 1-1-1zM37 74l1 1-1 1-1-1z"/><path fill="#3e3e3e" d="M8 -7l1 1-1 1-1-1zM37 -4l1 1-1 1-1-1zM13 2l1 1-1 1-1-1zM10 3l1 1-1 1-1-1zM27 6l1 1-1 1-1-1zM1 10l1 1-1 1-1-1zM31 12l1 1-1 1-1-1zM10 13l1 1-1 1-1-1zM-2 15l1 1-1 1-1-1zM0 17l1 1-1 1-1-1zM38 17l1 1-1 1-1-1zM26 19l1 1-1 1-1-1zM-2 21l1 1-1 1-1-1zM19 22l1 1-1 1-1-1zM33 28l1 1-1 1-1-1zM37 28l1 1-1 1-1-1zM45 28l1 1-1 1-1-1zM3 30l1 1-1 1-1-1zM31 30l1 1-1 1-1-1zM0 31l1 1-1 1-1-1zM28 31l1 1-1 1-1-1zM32 33l1 1-1 1-1-1zM16 37l1 1-1 1-1-1zM28 39l1 1-1 1-1-1zM1 40l1 1-1 1-1-1zM0 41l1 1-1 1-1-1zM2 45l1 1-1 1-1-1zM10 49l1 1-1 1-1-1zM36 49l1 1-1 1-1-1zM1 50l1 1-1 1-1-1zM43 54l1 1-1 1-1-1zM5 56l1 1-1 1-1-1zM41 56l1 1-1 1-1-1zM24 57l1 1-1 1-1-1zM44 57l1 1-1 1-1-1zM-2 59l1 1-1 1-1-1zM27 60l1 1-1 1-1-1zM44 61l1 1-1 1-1-1zM46 61l1 1-1 1-1-1zM1 62l1 1-1 1-1-1zM35 62l1 1-1 1-1-1zM32 63l1 1-1 1-1-1zM38 63l1 1-1 1-1-1zM27 64l1 1-1 1-1-1zM29 64l1 1-1 1-1-1zM17 68l1 1-1 1-1-1zM27 68l1 1-1 1-1-1zM1 70l1 1-1 1-1-1zM19 70l1 1-1 1-1-1zM36 71l1 1-1 1-1-1zM17 72l1 1-1 1-1-1zM27 72l1 1-1 1-1-1z"/><path fill="#3f3f3f" d="M29 -6l1 1-1 1-1-1zM26 -5l1 1-1 1-1-1zM28 -5l1 1-1 1-1-1zM30 -3l1 1-1 1-1-1zM19 2l1 1-1 1-1-1zM6 3l1 1-1 1-1-1zM42 3l1 1-1 1-1-1zM16 5l1 1-1 1-1-1zM26 11l1 1-1 1-1-1zM23 14l1 1-1 1-1-1zM36 17l1 1-1 1-1-1zM19 18l1 1-1 1-1-1zM41 18l1 1-1 1-1-1zM20 19l1 1-1 1-1-1zM41 20l1 1-1 1-1-1zM9 22l1 1-1 1-1-1zM25 22l1 1-1 1-1-1zM35 22l1 1-1 1-1-1zM36 23l1 1-1 1-1-1zM28 27l1 1-1 1-1-1zM32 27l1 1-1 1-1-1zM21 28l1 1-1 1-1-1zM8 29l1 1-1 1-1-1zM12 29l1 1-1 1-1-1zM32 29l1 1-1 1-1-1zM27 30l1 1-1 1-1-1zM8 31l1 1-1 1-1-1zM4 37l1 1-1 1-1-1zM6 37l1 1-1 1-1-1zM41 42l1 1-1 1-1-1zM33 46l1 1-1 1-1-1zM-2 49l1 1-1 1-1-1zM40 51l1 1-1 1-1-1zM34 57l1 1-1 1-1-1zM-3 58l1 1-1 1-1-1zM40 61l1 1-1 1-1-1zM0 63l1 1-1 1-1-1zM-1 64l1 1-1 1-1-1zM24 65l1 1-1 1-1-1zM44 67l1 1-1 1-1-1zM-1 68l1 1-1 1-1-1zM2 69l1 1-1 1-1-1zM28 73l1 1-1 1-1-1z"/><path fill="#404040" d="M0 -1l1 1-1 1-1-1zM0 1l1 1-1 1-1-1zM34 3l1 1-1 1-1-1zM0 7l1 1-1 1-1-1zM8 7l1 1-1 1-1-1zM-1 10l1 1-1 1-1-1zM-1 12l1 1-1 1-1-1zM35 16l1 1-1 1-1-1zM38 19l1 1-1 1-1-1zM-2 41l1 1-1 1-1-1zM41 46l1 1-1 1-1-1zM16 53l1 1-1 1-1-1zM33 56l1 1-1 1-1-1zM8 57l1 1-1 1-1-1zM7 62l1 1-1 1-1-1zM0 67l1 1-1 1-1-1zM30 67l1 1-1 1-1-1zM26 69l1 1-1 1-1-1zM29 70l1 1-1 1-1-1zM24 71l1 1-1 1-1-1zM37 72l1 1-1 1-1-1zM31 74l1 1-1 1-1-1z"/><path fill="#414141" d="M15 -2l1 1-1 1-1-1zM40 5l1 1-1 1-1-1zM27 8l1 1-1 1-1-1zM19 10l1 1-1 1-1-1zM38 11l1 1-1 1-1-1zM21 20l1 1-1 1-1-1zM12 21l1 1-1 1-1-1zM36 21l1 1-1 1-1-1zM43 22l1 1-1 1-1-1zM-2 29l1 1-1 1-1-1zM35 30l1 1-1 1-1-1zM35 38l1 1-1 1-1-1zM1 42l1 1-1 1-1-1zM-2 47l1 1-1 1-1-1zM25 48l1 1-1 1-1-1zM38 57l1 1-1 1-1-1zM42 57l1 1-1 1-1-1zM27 58l1 1-1 1-1-1zM30 61l1 1-1 1-1-1zM32 67l1 1-1 1-1-1zM13 68l1 1-1 1-1-1zM30 69l1 1-1 1-1-1zM38 71l1 1-1 1-1-1zM45 72l1 1-1 1-1-1z"/><path fill="#424242" d="M7 -2l1 1-1 1-1-1zM8 1l1 1-1 1-1-1zM34 5l1 1-1 1-1-1zM29 6l1 1-1 1-1-1zM30 9l1 1-1 1-1-1zM33 14l1 1-1 1-1-1zM45 20l1 1-1 1-1-1zM44 23l1 1-1 1-1-1zM33 34l1 1-1 1-1-1zM30 51l1 1-1 1-1-1zM24 53l1 1-1 1-1-1zM37 62l1 1-1 1-1-1zM47 64l1 1-1 1-1-1zM23 66l1 1-1 1-1-1zM42 71l1 1-1 1-1-1z"/><path fill="#434343" d="M45 -8l1 1-1 1-1-1zM3 18l1 1-1 1-1-1zM44 19l1 1-1 1-1-1zM33 20l1 1-1 1-1-1zM45 22l1 1-1 1-1-1zM36 25l1 1-1 1-1-1zM27 34l1 1-1 1-1-1zM36 35l1 1-1 1-1-1zM40 53l1 1-1 1-1-1zM46 55l1 1-1 1-1-1zM31 56l1 1-1 1-1-1zM39 56l1 1-1 1-1-1zM39 66l1 1-1 1-1-1zM28 67l1 1-1 1-1-1zM28 71l1 1-1 1-1-1z"/><path fill="#444444" d="M19 16l1 1-1 1-1-1zM31 20l1 1-1 1-1-1zM43 20l1 1-1 1-1-1zM42 21l1 1-1 1-1-1zM19 32l1 1-1 1-1-1zM5 44l1 1-1 1-1-1zM39 54l1 1-1 1-1-1zM21 56l1 1-1 1-1-1zM33 62l1 1-1 1-1-1zM37 68l1 1-1 1-1-1z"/><path fill="#454545" d="M29 40l1 1-1 1-1-1zM6 73l1 1-1 1-1-1z"/><path fill="#464646" d="M43 0l1 1-1 1-1-1zM33 6l1 1-1 1-1-1zM44 51l1 1-1 1-1-1zM39 60l1 1-1 1-1-1z"/><path fill="#474747" d="M-3 22l1 1-1 1-1-1z"/><path fill="#484848" d="M39 20l1 1-1 1-1-1zM36 37l1 1-1 1-1-1zM34 51l1 1-1 1-1-1zM33 58l1 1-1 1-1-1zM-3 66l1 1-1 1-1-1z"/><path fill="#747474" d="M43 28l1 1-1 1-1-1zM36 33l1 1-1 1-1-1z"/><path fill="#7d7d7d" d="M29 22l1 1-1 1-1-1z"/><path fill="#c7c7c7" d="M30 -1l1 1-1 1-1-1z"/></g>
</g>

</g>
<rect x="1018.4" y="715.3" width="539.3" height="472.9" fill="none" stroke="#222" stroke-width="1.1"/>
<path d="M1015.8 1166.7h2.6M1013.4 1125.0h5.0M1015.8 1083.2h2.6M1013.4 1041.5h5.0M1015.8 999.8h2.6M1013.4 958.1h5.0M1015.8 916.4h2.6M1013.4 874.7h5.0M1015.8 833.0h2.6M1013.4 791.2h5.0M1015.8 749.5h2.6M1045.7 1188.2v2.6M1080.9 1188.2v5.0M1116.1 1188.2v2.6M1151.3 1188.2v5.0M1186.5 1188.2v2.6M1221.7 1188.2v5.0M1256.9 1188.2v2.6M1292.1 1188.2v5.0M1327.3 1188.2v2.6M1362.5 1188.2v5.0M1397.7 1188.2v2.6M1432.9 1188.2v5.0M1468.1 1188.2v2.6M1503.3 1188.2v5.0M1538.5 1188.2v2.6" stroke="#222" stroke-width="1.1" fill="none"/>
<text class="tk" transform="translate(1008.8 1134.4) scale(1.000 1.040)" text-anchor="end">-1000</text>
<text class="tk" transform="translate(1008.8 1050.9) scale(1.000 1.040)" text-anchor="end">-500</text>
<text class="tk" transform="translate(1008.8 967.5) scale(1.000 1.040)" text-anchor="end">0</text>
<text class="tk" transform="translate(1008.8 884.1) scale(1.000 1.040)" text-anchor="end">500</text>
<text class="tk" transform="translate(1008.8 800.6) scale(1.000 1.040)" text-anchor="end">1000</text>
<text class="tk" transform="translate(1151.0 1221.0) scale(1.000 1.040)" text-anchor="middle">-1000</text>
<text class="tk" transform="translate(1291.8 1221.0) scale(1.000 1.040)" text-anchor="middle">0</text>
<text class="tk" transform="translate(1432.6 1221.0) scale(1.000 1.040)" text-anchor="middle">1000</text>
<text class="ax" transform="translate(1288.5 1268.5) scale(1.048 1.040)" text-anchor="middle">Distance along X axis/µm</text>
<text class="ax" transform="translate(921.0 952.2) rotate(-90) scale(1.048 1.040)" text-anchor="middle">Distance along Y axis/µm</text>
<text class="tt" transform="translate(1023.3 705.2) scale(1.000 1.012)">d<tspan font-weight="normal">)</tspan> 12 h</text>
<text class="jz" transform="translate(1564.5 693.8) scale(1.070 1.040)"><tspan font-style="italic">j</tspan><tspan font-size="26px" dx="-0.3" dy="6.6">Z</tspan><tspan dx="0" dy="-6.6"> (µA cm</tspan><tspan font-size="23px" dx="1.2" dy="-9.6">−2</tspan><tspan dx="0.8" dy="9.6">)</tspan></text>
<rect x="1644.3" y="715.3" width="22.7" height="4.6" fill="#808080"/>
<rect x="1644.3" y="719.8" width="22.7" height="463.2" fill="url(#cbg)"/>
<rect x="1644.3" y="1182.9" width="22.7" height="4.5" fill="#000"/>
<path d="M1667.0 715.3V1187.4" stroke="#666" stroke-width="0.8" fill="none"/>
<text class="cb" transform="translate(1684.2 749.6) scale(1.020 1.040)">0.6</text>
<text class="cb" transform="translate(1684.2 823.6) scale(1.020 1.040)">0.4</text>
<text class="cb" transform="translate(1684.2 897.3) scale(1.020 1.040)">0.2</text>
<text class="cb" transform="translate(1684.2 970.9) scale(1.020 1.040)">0.0</text>
<text class="cb" transform="translate(1684.2 1009.0) scale(1.020 1.040)">-0.4</text>
<text class="cb" transform="translate(1684.2 1101.7) scale(1.020 1.040)">-1.4</text>
<text class="cb" transform="translate(1684.2 1194.2) scale(1.020 1.040)">-2.4</text>
<path d="M1667.0 738.3h5M1667.0 812.3h5M1667.0 886.0h5M1667.0 959.6h5M1667.0 997.7h5M1667.0 1090.4h5M1667.0 1182.9h5" stroke="#333" stroke-width="1" fill="none"/>
</g>
</svg></body></html>
